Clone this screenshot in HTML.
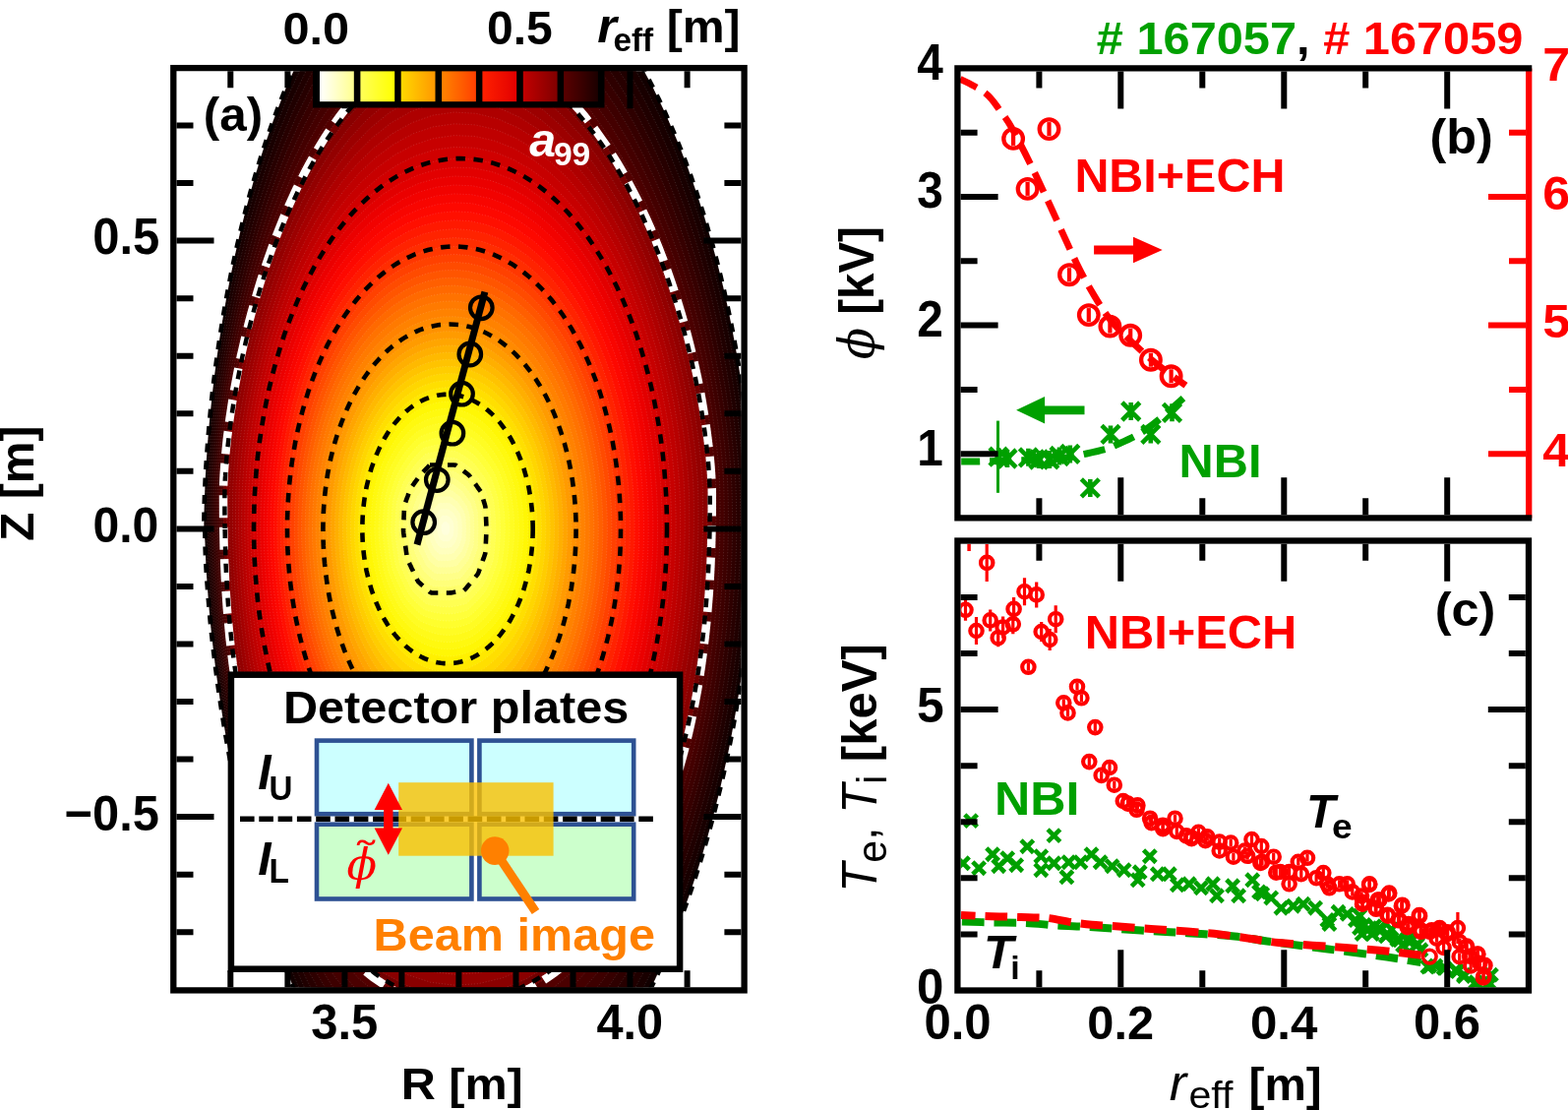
<!DOCTYPE html>
<html><head><meta charset="utf-8"><title>Figure</title><style>html,body{margin:0;padding:0;background:#fff;width:1594px;height:1128px;overflow:hidden}svg{display:block}</style></head><body>
<svg width="1594" height="1128" viewBox="0 0 1594 1128">
<rect width="1594" height="1128" fill="#fff"/>
<defs><clipPath id="ca"><rect x="179.5" y="72.2" width="574" height="931"/></clipPath>
<linearGradient id="cb0" x1="0" x2="1" y1="0" y2="0"><stop offset="0" stop-color="#ffffff"/><stop offset="1" stop-color="#ffff90"/></linearGradient>
<linearGradient id="cb1" x1="0" x2="1" y1="0" y2="0"><stop offset="0" stop-color="#ffff58"/><stop offset="1" stop-color="#ffff00"/></linearGradient>
<linearGradient id="cb2" x1="0" x2="1" y1="0" y2="0"><stop offset="0" stop-color="#ffd800"/><stop offset="1" stop-color="#ff9800"/></linearGradient>
<linearGradient id="cb3" x1="0" x2="1" y1="0" y2="0"><stop offset="0" stop-color="#ff8400"/><stop offset="1" stop-color="#ff4000"/></linearGradient>
<linearGradient id="cb4" x1="0" x2="1" y1="0" y2="0"><stop offset="0" stop-color="#ff2000"/><stop offset="1" stop-color="#e20000"/></linearGradient>
<linearGradient id="cb5" x1="0" x2="1" y1="0" y2="0"><stop offset="0" stop-color="#c20000"/><stop offset="1" stop-color="#800000"/></linearGradient>
<linearGradient id="cb6" x1="0" x2="1" y1="0" y2="0"><stop offset="0" stop-color="#5a0000"/><stop offset="1" stop-color="#1c0000"/></linearGradient>
</defs>
<g clip-path="url(#ca)">
<path d="M207.3,537 L207.4,523.7 L207.8,510.3 L208.3,496.8 L208.9,483.2 L209.7,469.4 L210.7,455.3 L211.8,441 L213.1,426.2 L214.7,411 L216.4,395.2 L218.4,378.8 L220.7,361.7 L223.3,343.7 L226.3,324.8 L229.8,304.8 L233.8,283.6 L238.5,261 L243.9,236.9 L250.4,211.1 L257.9,183.5 L266.9,154.1 L277.6,122.9 L290.4,89.9 L305.7,55.9 L323.9,21.5 L345.4,-11.7 L370.3,-41.7 L398.6,-65.7 L429.6,-81.2 L462,-85.9 L494.4,-81.3 L525.7,-69.3 L555.1,-51 L582.1,-27.8 L606.2,-1.3 L627.6,27.3 L646.3,56.9 L662.6,86.5 L676.7,115.7 L688.9,144 L699.5,171.3 L708.7,197.5 L716.7,222.5 L723.6,246.4 L729.7,269.3 L735.1,291.1 L739.8,312.1 L743.9,332.2 L747.5,351.6 L750.7,370.3 L753.5,388.5 L756,406.1 L758.2,423.3 L760,440.2 L761.6,456.7 L762.9,473 L764,489.2 L764.8,505.2 L765.4,521.1 L765.6,537 L765.5,552.9 L765,568.8 L764.2,584.9 L763.1,601 L761.8,617.3 L760.3,633.9 L758.5,650.8 L756.4,668.1 L754,685.8 L751.2,704 L748.1,722.8 L744.6,742.3 L740.7,762.7 L736.1,783.8 L731,806 L725.1,829.2 L718.4,853.7 L710.7,879.4 L701.9,906.4 L691.6,934.7 L679.8,964.4 L666,995.2 L650,1026.8 L631.5,1058.7 L610.2,1090 L585.8,1119.4 L558.4,1145.4 L528.1,1166.2 L495.7,1179.9 L462,1185.2 L428.3,1179.2 L396.5,1160 L367.9,1130.9 L343.2,1095.8 L322.3,1058.2 L304.9,1020.4 L290.5,983.9 L278.4,949.3 L268.3,917.1 L259.9,887.1 L252.7,859.3 L246.6,833.5 L241.3,809.6 L236.7,787.2 L232.7,766.3 L229.3,746.6 L226.2,728 L223.5,710.3 L221.1,693.5 L218.9,677.3 L217,661.8 L215.3,646.8 L213.8,632.3 L212.5,618.1 L211.4,604.2 L210.4,590.5 L209.5,577 L208.9,563.6 L208.4,550.3Z" fill="#120000" stroke="#fff" stroke-opacity="0.22" stroke-width="0.6" stroke-dasharray="1.2 1.8"/>
<path d="M209.3,537 L209.4,523.8 L209.7,510.5 L210.1,497.1 L210.8,483.6 L211.6,469.9 L212.5,455.9 L213.7,441.7 L215.1,427.1 L216.6,412 L218.4,396.4 L220.4,380.1 L222.8,363.2 L225.5,345.5 L228.6,326.8 L232.1,307.1 L236.2,286.2 L241,264 L246.5,240.4 L253,215.1 L260.6,188.2 L269.6,159.5 L280.4,129 L293.1,97 L308.3,64 L326.3,30.7 L347.6,-1.3 L372.2,-30.2 L399.9,-53.4 L430.3,-68.3 L462,-73 L493.7,-68.6 L524.4,-57 L553.3,-39.3 L579.7,-16.9 L603.5,8.9 L624.5,36.8 L643,65.5 L659.1,94.4 L673,122.9 L685.1,150.5 L695.6,177.2 L704.8,202.9 L712.7,227.4 L719.7,250.8 L725.7,273.3 L731.1,294.7 L735.8,315.3 L739.9,335.1 L743.5,354.2 L746.8,372.6 L749.6,390.5 L752,407.9 L754.2,424.8 L756,441.5 L757.6,457.8 L758.9,473.9 L760,489.8 L760.7,505.6 L761.2,521.3 L761.4,537 L761.2,552.7 L760.7,568.4 L760,584.2 L759,600.1 L757.7,616.2 L756.2,632.6 L754.4,649.2 L752.4,666.3 L750,683.8 L747.3,701.7 L744.3,720.3 L740.8,739.6 L736.9,759.6 L732.4,780.5 L727.3,802.3 L721.5,825.2 L714.8,849.2 L707.1,874.3 L698.2,900.8 L688,928.5 L676.2,957.4 L662.5,987.3 L646.6,1017.8 L628.2,1048.6 L607.1,1078.5 L583.1,1106.7 L556.1,1131.4 L526.5,1151.1 L494.9,1164 L462,1169 L429.2,1163.3 L398.1,1145.2 L370,1117.8 L345.6,1084.6 L324.9,1048.8 L307.5,1012.6 L292.9,977.5 L280.7,944.1 L270.5,912.8 L261.9,883.5 L254.6,856.3 L248.4,831 L243.1,807.4 L238.4,785.3 L234.4,764.6 L230.9,745.1 L227.8,726.6 L225.1,709.1 L222.7,692.4 L220.6,676.4 L218.7,660.9 L217.1,646.1 L215.6,631.6 L214.3,617.5 L213.2,603.7 L212.2,590.1 L211.4,576.7 L210.8,563.4 L210.3,550.2Z" fill="#190000" stroke="#fff" stroke-opacity="0.22" stroke-width="0.6" stroke-dasharray="1.2 1.8"/>
<path d="M211.3,537 L211.4,523.9 L211.6,510.7 L212,497.4 L212.6,484 L213.4,470.4 L214.4,456.6 L215.6,442.4 L217,427.9 L218.6,413 L220.4,397.5 L222.5,381.5 L224.9,364.7 L227.7,347.2 L230.8,328.8 L234.4,309.4 L238.6,288.9 L243.4,267.1 L249.1,243.9 L255.6,219.2 L263.3,192.8 L272.4,164.8 L283.1,135.2 L295.8,104.1 L311,72.1 L328.8,40 L349.8,9 L374,-18.8 L401.2,-41.1 L430.9,-55.5 L462,-60 L493.1,-55.9 L523.1,-44.8 L551.4,-27.7 L577.4,-5.9 L600.8,19.1 L621.5,46.2 L639.7,74.2 L655.5,102.3 L669.3,130.1 L681.3,157.1 L691.8,183.2 L700.8,208.3 L708.8,232.3 L715.7,255.3 L721.7,277.3 L727.1,298.3 L731.8,318.5 L735.9,338 L739.6,356.8 L742.8,374.9 L745.6,392.5 L748.1,409.6 L750.2,426.4 L752.1,442.7 L753.6,458.9 L754.9,474.7 L755.9,490.4 L756.6,506 L757,521.5 L757.2,537 L757,552.5 L756.5,568 L755.8,583.5 L754.8,599.2 L753.6,615.1 L752.1,631.3 L750.4,647.7 L748.4,664.5 L746.1,681.7 L743.4,699.5 L740.4,717.8 L737,736.8 L733.1,756.5 L728.7,777.1 L723.6,798.6 L717.8,821.1 L711.1,844.6 L703.5,869.3 L694.6,895.2 L684.4,922.2 L672.6,950.3 L658.9,979.3 L643.1,1008.8 L624.9,1038.4 L604,1067.1 L580.4,1093.9 L553.9,1117.4 L525,1136 L494,1148.2 L462,1152.8 L430,1147.4 L399.6,1130.5 L372.1,1104.6 L348,1073.3 L327.4,1039.3 L310,1004.9 L295.3,971.1 L283.1,938.9 L272.7,908.5 L264,880 L256.6,853.3 L250.3,828.4 L244.8,805.2 L240.2,783.4 L236.1,762.9 L232.6,743.6 L229.5,725.3 L226.8,707.9 L224.4,691.3 L222.3,675.4 L220.4,660.1 L218.8,645.3 L217.4,630.9 L216.1,616.9 L215,603.2 L214.1,589.7 L213.3,576.4 L212.7,563.2 L212.2,550.1Z" fill="#200000" stroke="#fff" stroke-opacity="0.22" stroke-width="0.6" stroke-dasharray="1.2 1.8"/>
<path d="M213.3,537 L213.3,524 L213.5,510.9 L213.9,497.7 L214.5,484.4 L215.3,470.9 L216.3,457.2 L217.5,443.1 L218.9,428.8 L220.5,414 L222.4,398.7 L224.6,382.8 L227,366.3 L229.8,349 L233.1,330.9 L236.8,311.8 L241,291.6 L245.9,270.2 L251.6,247.4 L258.2,223.2 L266,197.5 L275.1,170.2 L285.9,141.4 L298.6,111.2 L313.6,80.2 L331.3,49.2 L352,19.4 L375.8,-7.4 L402.5,-28.8 L431.6,-42.7 L462,-47.1 L492.4,-43.2 L521.9,-32.5 L549.6,-16 L575.1,5.1 L598,29.3 L618.4,55.6 L636.4,82.8 L652,110.2 L665.7,137.3 L677.6,163.7 L687.9,189.2 L696.9,213.7 L704.8,237.2 L711.7,259.7 L717.7,281.3 L723.1,301.9 L727.8,321.8 L731.9,340.9 L735.6,359.3 L738.8,377.2 L741.6,394.5 L744.1,411.4 L746.3,427.9 L748.1,444 L749.7,459.9 L750.9,475.6 L751.9,491.1 L752.5,506.5 L752.9,521.8 L753,537 L752.8,552.2 L752.3,567.5 L751.6,582.9 L750.6,598.3 L749.4,614 L748,629.9 L746.3,646.1 L744.4,662.7 L742.1,679.7 L739.5,697.2 L736.6,715.3 L733.2,734 L729.3,753.5 L724.9,773.7 L719.9,794.9 L714.1,817 L707.5,840.1 L699.8,864.3 L691,889.6 L680.8,916 L669,943.3 L655.4,971.4 L639.7,999.8 L621.6,1028.2 L601,1055.7 L577.7,1081.2 L551.7,1103.4 L523.4,1121 L493.2,1132.4 L462,1136.6 L430.8,1131.5 L401.2,1115.7 L374.2,1091.5 L350.4,1062 L329.9,1029.9 L312.5,997.1 L297.8,964.8 L285.4,933.7 L274.9,904.2 L266.1,876.4 L258.5,850.3 L252.1,825.9 L246.6,803 L241.9,781.5 L237.8,761.2 L234.2,742.1 L231.2,723.9 L228.4,706.7 L226.1,690.2 L224,674.4 L222.1,659.2 L220.5,644.5 L219.1,630.2 L217.9,616.3 L216.8,602.7 L215.9,589.3 L215.2,576.1 L214.6,563 L214.1,550Z" fill="#270000" stroke="#fff" stroke-opacity="0.22" stroke-width="0.6" stroke-dasharray="1.2 1.8"/>
<path d="M215.3,537 L215.3,524.1 L215.5,511.1 L215.8,498 L216.3,484.8 L217.1,471.4 L218.1,457.8 L219.3,443.9 L220.8,429.6 L222.5,415 L224.4,399.8 L226.6,384.1 L229.1,367.8 L232,350.8 L235.3,332.9 L239.1,314.1 L243.4,294.2 L248.4,273.2 L254.2,250.9 L260.9,227.3 L268.7,202.2 L277.8,175.6 L288.6,147.5 L301.3,118.3 L316.2,88.4 L333.8,58.4 L354.2,29.8 L377.6,4.1 L403.8,-16.5 L432.3,-29.8 L462,-34.2 L491.7,-30.5 L520.6,-20.3 L547.7,-4.4 L572.7,16 L595.3,39.5 L615.4,65 L633,91.4 L648.5,118.1 L662,144.5 L673.8,170.2 L684,195.1 L693,219.1 L700.8,242.1 L707.7,264.1 L713.8,285.2 L719.1,305.5 L723.8,325 L727.9,343.8 L731.6,361.9 L734.8,379.5 L737.7,396.5 L740.1,413.2 L742.3,429.4 L744.1,445.3 L745.7,461 L746.9,476.4 L747.9,491.7 L748.4,506.9 L748.7,522 L748.8,537 L748.6,552 L748.1,567.1 L747.4,582.2 L746.4,597.5 L745.3,612.9 L743.9,628.6 L742.3,644.6 L740.4,660.9 L738.2,677.7 L735.6,695 L732.7,712.8 L729.4,731.3 L725.6,750.4 L721.2,770.4 L716.2,791.2 L710.4,812.9 L703.8,835.6 L696.2,859.3 L687.4,884 L677.2,909.7 L665.4,936.2 L651.8,963.4 L636.2,990.9 L618.3,1018 L597.9,1044.2 L575,1068.4 L549.5,1089.4 L521.8,1105.9 L492.4,1116.5 L462,1120.4 L431.7,1115.6 L402.7,1100.9 L376.3,1078.4 L352.8,1050.8 L332.4,1020.5 L315,989.3 L300.2,958.4 L287.7,928.5 L277.1,899.9 L268.1,872.8 L260.5,847.3 L254,823.3 L248.4,800.8 L243.6,779.5 L239.5,759.5 L235.9,740.6 L232.8,722.6 L230.1,705.5 L227.7,689.1 L225.7,673.4 L223.8,658.3 L222.3,643.7 L220.9,629.6 L219.7,615.7 L218.6,602.2 L217.8,588.9 L217,575.8 L216.5,562.8 L216,549.9Z" fill="#2e0000" stroke="#fff" stroke-opacity="0.22" stroke-width="0.6" stroke-dasharray="1.2 1.8"/>
<path d="M217.2,537 L217.3,524.2 L217.4,511.3 L217.6,498.3 L218.2,485.2 L219,471.9 L220,458.4 L221.2,444.6 L222.7,430.5 L224.4,415.9 L226.4,401 L228.7,385.5 L231.2,369.3 L234.2,352.5 L237.5,334.9 L241.4,316.4 L245.8,296.9 L250.9,276.3 L256.7,254.4 L263.5,231.3 L271.4,206.8 L280.6,180.9 L291.4,153.7 L304,125.4 L318.9,96.5 L336.2,67.7 L356.4,40.1 L379.4,15.5 L405.1,-4.2 L433,-17 L462,-21.3 L491.1,-17.8 L519.3,-8 L545.9,7.3 L570.4,27 L592.6,49.7 L612.3,74.4 L629.7,100.1 L645,126 L658.3,151.7 L670,176.8 L680.2,201.1 L689.1,224.5 L696.9,247 L703.7,268.5 L709.8,289.2 L715.1,309.1 L719.8,328.3 L723.9,346.7 L727.6,364.5 L730.8,381.8 L733.7,398.6 L736.2,414.9 L738.3,430.9 L740.2,446.6 L741.7,462.1 L742.9,477.3 L743.8,492.4 L744.3,507.3 L744.5,522.2 L744.6,537 L744.3,551.8 L743.9,566.6 L743.2,581.5 L742.3,596.6 L741.2,611.8 L739.8,627.3 L738.2,643 L736.4,659.2 L734.2,675.7 L731.7,692.7 L728.9,710.3 L725.6,728.5 L721.8,747.4 L717.5,767 L712.5,787.5 L706.8,808.8 L700.2,831.1 L692.5,854.3 L683.7,878.5 L673.6,903.5 L661.8,929.2 L648.3,955.5 L632.8,981.9 L615,1007.9 L594.8,1032.8 L572.3,1055.7 L547.3,1075.4 L520.2,1090.8 L491.5,1100.7 L462,1104.3 L432.5,1099.7 L404.3,1086.1 L378.3,1065.2 L355.2,1039.5 L335,1011.1 L317.6,981.6 L302.7,952 L290,923.2 L279.3,895.6 L270.2,869.2 L262.4,844.3 L255.8,820.8 L250.2,798.6 L245.3,777.6 L241.2,757.8 L237.6,739.1 L234.5,721.3 L231.8,704.3 L229.4,688.1 L227.3,672.5 L225.6,657.5 L224,643 L222.6,628.9 L221.5,615.2 L220.5,601.7 L219.6,588.5 L218.9,575.5 L218.3,562.6 L217.9,549.8Z" fill="#360000" stroke="#fff" stroke-opacity="0.22" stroke-width="0.6" stroke-dasharray="1.2 1.8"/>
<path d="M219.2,537 L219.2,524.3 L219.3,511.5 L219.5,498.6 L220,485.6 L220.8,472.4 L221.8,459 L223.1,445.3 L224.6,431.3 L226.4,416.9 L228.4,402.1 L230.7,386.8 L233.4,370.9 L236.4,354.3 L239.8,336.9 L243.7,318.7 L248.2,299.5 L253.3,279.3 L259.3,258 L266.1,235.4 L274.1,211.5 L283.3,186.3 L294.1,159.9 L306.7,132.5 L321.5,104.6 L338.7,76.9 L358.6,50.5 L381.2,26.9 L406.4,8.1 L433.6,-4.2 L462,-8.4 L490.4,-5.2 L518,4.2 L544,19 L568.1,37.9 L589.8,59.9 L609.2,83.8 L626.4,108.7 L641.5,133.9 L654.7,158.9 L666.2,183.3 L676.3,207 L685.1,229.9 L692.9,251.8 L699.7,273 L705.8,293.2 L711.1,312.7 L715.8,331.5 L719.9,349.6 L723.6,367.1 L726.9,384.1 L729.7,400.6 L732.2,416.7 L734.4,432.4 L736.2,447.9 L737.7,463.1 L738.9,478.1 L739.8,493 L740.2,507.8 L740.4,522.4 L740.4,537 L740.1,551.6 L739.6,566.2 L739,580.9 L738.1,595.7 L737,610.7 L735.7,625.9 L734.2,641.5 L732.4,657.4 L730.2,673.7 L727.8,690.5 L725,707.8 L721.8,725.7 L718,744.3 L713.7,763.7 L708.8,783.8 L703.1,804.8 L696.5,826.6 L688.9,849.3 L680.1,872.9 L670,897.2 L658.3,922.2 L644.8,947.5 L629.3,972.9 L611.7,997.7 L591.8,1021.4 L569.5,1042.9 L545.1,1061.4 L518.6,1075.8 L490.7,1084.9 L462,1088.1 L433.3,1083.9 L405.8,1071.3 L380.4,1052.1 L357.6,1028.3 L337.5,1001.7 L320.1,973.8 L305.1,945.7 L292.4,918 L281.5,891.3 L272.2,865.7 L264.4,841.3 L257.7,818.2 L252,796.4 L247.1,775.7 L242.9,756.1 L239.2,737.6 L236.1,719.9 L233.4,703.1 L231.1,687 L229,671.5 L227.3,656.6 L225.7,642.2 L224.4,628.2 L223.2,614.6 L222.3,601.2 L221.5,588.1 L220.8,575.2 L220.2,562.4 L219.9,549.7Z" fill="#3d0000" stroke="#fff" stroke-opacity="0.22" stroke-width="0.6" stroke-dasharray="1.2 1.8"/>
<path d="M221.2,537 L221.2,524.4 L221.2,511.7 L221.4,498.9 L221.9,486 L222.7,472.9 L223.7,459.6 L225,446 L226.5,432.2 L228.3,417.9 L230.4,403.3 L232.8,388.1 L235.5,372.4 L238.5,356 L242,338.9 L246,321 L250.6,302.2 L255.8,282.4 L261.8,261.5 L268.7,239.4 L276.7,216.1 L286,191.6 L296.9,166.1 L309.5,139.6 L324.2,112.7 L341.2,86.1 L360.8,60.9 L383,38.4 L407.7,20.4 L434.3,8.7 L462,4.5 L489.7,7.5 L516.7,16.5 L542.2,30.6 L565.7,48.9 L587.1,70.1 L606.2,93.3 L623.1,117.4 L637.9,141.8 L651,166.1 L662.4,189.9 L672.4,213 L681.2,235.3 L688.9,256.7 L695.8,277.4 L701.8,297.2 L707.1,316.3 L711.8,334.7 L715.9,352.5 L719.6,369.7 L722.9,386.4 L725.7,402.6 L728.2,418.5 L730.4,434 L732.2,449.2 L733.8,464.2 L735,479 L735.8,493.6 L736.1,508.2 L736.2,522.6 L736.1,537 L735.9,551.4 L735.4,565.7 L734.8,580.2 L733.9,594.8 L732.9,609.6 L731.6,624.6 L730.1,639.9 L728.4,655.6 L726.3,671.7 L723.9,688.2 L721.1,705.3 L717.9,723 L714.3,741.3 L710,760.3 L705.1,780.1 L699.4,800.7 L692.8,822.1 L685.3,844.3 L676.5,867.3 L666.4,890.9 L654.7,915.1 L641.2,939.6 L625.9,963.9 L608.4,987.5 L588.7,1009.9 L566.8,1030.2 L542.8,1047.4 L517,1060.7 L489.9,1069 L462,1071.9 L434.2,1068 L407.4,1056.5 L382.5,1039 L360,1017 L340,992.2 L322.6,966 L307.6,939.3 L294.7,912.8 L283.7,887 L274.3,862.1 L266.3,838.3 L259.5,815.7 L253.7,794.2 L248.8,773.8 L244.6,754.4 L240.9,736.1 L237.8,718.6 L235.1,701.9 L232.7,685.9 L230.7,670.5 L229,655.7 L227.5,641.4 L226.2,627.5 L225,614 L224.1,600.7 L223.3,587.7 L222.6,574.9 L222.1,562.2 L221.8,549.6Z" fill="#440000" stroke="#fff" stroke-opacity="0.22" stroke-width="0.6" stroke-dasharray="1.2 1.8"/>
<path d="M223.2,537 L223.1,524.5 L223.1,511.9 L223.2,499.2 L223.7,486.3 L224.5,473.4 L225.6,460.2 L226.9,446.7 L228.4,433 L230.3,418.9 L232.4,404.4 L234.8,389.5 L237.6,373.9 L240.7,357.8 L244.3,341 L248.4,323.4 L253,304.9 L258.3,285.4 L264.4,265 L271.4,243.4 L279.4,220.8 L288.8,197 L299.6,172.2 L312.2,146.7 L326.8,120.9 L343.7,95.4 L363,71.2 L384.8,49.8 L409,32.7 L435,21.5 L462,17.4 L489.1,20.2 L515.4,28.7 L540.4,42.3 L563.4,59.9 L584.4,80.3 L603.1,102.7 L619.8,126 L634.4,149.7 L647.3,173.3 L658.6,196.4 L668.6,218.9 L677.3,240.7 L685,261.6 L691.8,281.8 L697.8,301.2 L703.1,319.9 L707.8,338 L711.9,355.4 L715.6,372.3 L718.9,388.7 L721.8,404.6 L724.3,420.2 L726.4,435.5 L728.3,450.5 L729.8,465.2 L731,479.8 L731.7,494.3 L732,508.6 L732,522.8 L731.9,537 L731.7,551.1 L731.2,565.3 L730.6,579.5 L729.8,593.9 L728.7,608.5 L727.5,623.3 L726.1,638.4 L724.4,653.8 L722.3,669.7 L720,686 L717.3,702.8 L714.1,720.2 L710.5,738.2 L706.3,756.9 L701.4,776.4 L695.7,796.6 L689.2,817.6 L681.6,839.3 L672.9,861.7 L662.7,884.7 L651.1,908.1 L637.7,931.6 L622.4,954.9 L605.1,977.4 L585.7,998.5 L564.1,1017.5 L540.6,1033.4 L515.5,1045.6 L489.1,1053.2 L462,1055.7 L435,1052.1 L408.9,1041.8 L384.6,1025.9 L362.4,1005.8 L342.5,982.8 L325.1,958.2 L310,932.9 L297,907.6 L285.9,882.7 L276.4,858.5 L268.3,835.3 L261.4,813.1 L255.5,792 L250.5,771.9 L246.2,752.8 L242.6,734.6 L239.4,717.2 L236.7,700.7 L234.4,684.8 L232.4,669.6 L230.7,654.9 L229.2,640.7 L227.9,626.9 L226.8,613.4 L225.9,600.3 L225.1,587.3 L224.5,574.6 L224,562 L223.7,549.5Z" fill="#4b0000" stroke="#fff" stroke-opacity="0.22" stroke-width="0.6" stroke-dasharray="1.2 1.8"/>
<path d="M225.2,537 L225.1,524.6 L225.1,512.1 L225.1,499.5 L225.6,486.7 L226.3,473.9 L227.4,460.8 L228.8,447.5 L230.4,433.9 L232.2,419.9 L234.4,405.6 L236.9,390.8 L239.7,375.5 L242.9,359.6 L246.5,343 L250.7,325.7 L255.4,307.5 L260.8,288.5 L266.9,268.5 L274,247.5 L282.1,225.4 L291.5,202.4 L302.3,178.4 L314.9,153.8 L329.4,129 L346.1,104.6 L365.2,81.6 L386.6,61.2 L410.3,45 L435.7,34.3 L462,30.3 L488.4,32.9 L514.1,41 L538.5,53.9 L561.1,70.8 L581.6,90.5 L600.1,112.1 L616.4,134.7 L630.9,157.6 L643.7,180.5 L654.9,203 L664.7,224.9 L673.4,246.1 L681,266.5 L687.8,286.2 L693.8,305.2 L699.1,323.5 L703.8,341.2 L707.9,358.3 L711.6,374.9 L714.9,391 L717.8,406.7 L720.3,422 L722.5,437 L724.3,451.8 L725.8,466.3 L727,480.7 L727.7,494.9 L727.9,509.1 L727.9,523.1 L727.7,537 L727.4,550.9 L727,564.9 L726.4,578.9 L725.6,593 L724.6,607.4 L723.4,621.9 L722,636.8 L720.4,652 L718.4,667.6 L716.1,683.7 L713.4,700.3 L710.3,717.4 L706.7,735.2 L702.5,753.6 L697.7,772.7 L692.1,792.5 L685.5,813 L678,834.3 L669.2,856.1 L659.1,878.4 L647.5,901 L634.1,923.6 L618.9,945.9 L601.8,967.2 L582.6,987 L561.4,1004.7 L538.4,1019.4 L513.9,1030.5 L488.2,1037.4 L462,1039.5 L435.8,1036.2 L410.5,1027 L386.7,1012.7 L364.8,994.5 L345.1,973.4 L327.7,950.5 L312.5,926.6 L299.3,902.4 L288.1,878.4 L278.4,855 L270.2,832.3 L263.2,810.6 L257.3,789.8 L252.2,770 L247.9,751.1 L244.2,733.1 L241.1,715.9 L238.4,699.5 L236.1,683.7 L234.1,668.6 L232.4,654 L230.9,639.9 L229.7,626.2 L228.6,612.8 L227.7,599.8 L227,587 L226.4,574.3 L225.9,561.8 L225.6,549.4Z" fill="#520000" stroke="#fff" stroke-opacity="0.22" stroke-width="0.6" stroke-dasharray="1.2 1.8"/>
<path d="M227.2,537 L227.1,524.7 L227,512.3 L227,499.8 L227.4,487.1 L228.2,474.4 L229.3,461.4 L230.6,448.2 L232.3,434.7 L234.2,420.9 L236.4,406.7 L238.9,392.1 L241.8,377 L245.1,361.3 L248.8,345 L253,328 L257.8,310.2 L263.2,291.6 L269.5,272 L276.6,251.5 L284.8,230.1 L294.2,207.7 L305.1,184.6 L317.6,160.9 L332.1,137.1 L348.6,113.8 L367.4,92 L388.5,72.7 L411.6,57.3 L436.3,47.2 L462,43.3 L487.8,45.6 L512.8,53.2 L536.7,65.6 L558.8,81.8 L578.9,100.7 L597,121.5 L613.1,143.3 L627.4,165.5 L640,187.7 L651.1,209.5 L660.8,230.8 L669.5,251.5 L677.1,271.4 L683.8,290.7 L689.8,309.2 L695.1,327.1 L699.8,344.5 L704,361.2 L707.7,377.5 L710.9,393.3 L713.8,408.7 L716.3,423.8 L718.5,438.5 L720.4,453.1 L721.8,467.4 L723,481.5 L723.7,495.6 L723.8,509.5 L723.7,523.3 L723.5,537 L723.2,550.7 L722.8,564.4 L722.2,578.2 L721.4,592.1 L720.5,606.3 L719.3,620.6 L718,635.3 L716.3,650.2 L714.4,665.6 L712.2,681.4 L709.6,697.8 L706.5,714.6 L702.9,732.1 L698.8,750.2 L694,769 L688.4,788.4 L681.9,808.5 L674.3,829.3 L665.6,850.5 L655.5,872.2 L643.9,894 L630.6,915.7 L615.5,936.9 L598.5,957 L579.5,975.6 L558.7,992 L536.2,1005.5 L512.3,1015.5 L487.4,1021.5 L462,1023.4 L436.7,1020.3 L412.1,1012.2 L388.7,999.6 L367.1,983.2 L347.6,964 L330.2,942.7 L314.9,920.2 L301.6,897.2 L290.2,874.1 L280.5,851.4 L272.2,829.3 L265.1,808 L259.1,787.6 L254,768 L249.6,749.4 L245.9,731.6 L242.7,714.6 L240,698.3 L237.7,682.6 L235.8,667.6 L234.1,653.1 L232.6,639.1 L231.4,625.5 L230.4,612.3 L229.5,599.3 L228.8,586.6 L228.3,574 L227.8,561.6 L227.5,549.3Z" fill="#730000" stroke="#fff" stroke-opacity="0.22" stroke-width="0.6" stroke-dasharray="1.2 1.8"/>
<path d="M230.3,537 L230.2,524.9 L230.1,512.6 L230.2,500.3 L230.6,487.8 L231.4,475.2 L232.5,462.4 L233.8,449.4 L235.4,436.1 L237.3,422.5 L239.5,408.5 L242,394.1 L244.9,379.2 L248.1,363.8 L251.8,347.8 L256,331 L260.8,313.5 L266.2,295.3 L272.5,276.1 L279.6,256.1 L287.7,235.2 L297.1,213.4 L307.9,191 L320.4,168.1 L334.7,145.1 L351,122.7 L369.5,101.7 L390.1,83.2 L412.8,68.5 L436.9,58.8 L462,55 L487.1,57.2 L511.7,64.5 L535,76.3 L556.6,91.8 L576.4,110 L594.2,130.1 L610.1,151.2 L624.2,172.8 L636.6,194.3 L647.6,215.6 L657.2,236.4 L665.7,256.6 L673.3,276.1 L679.9,295 L685.8,313.2 L691,330.8 L695.6,347.8 L699.7,364.3 L703.4,380.3 L706.6,395.8 L709.4,410.9 L711.9,425.8 L714,440.3 L715.8,454.5 L717.2,468.6 L718.3,482.5 L719,496.3 L719.2,510 L719.1,523.5 L719,537 L718.7,550.5 L718.2,563.9 L717.7,577.5 L716.9,591.2 L716,605.1 L714.8,619.2 L713.5,633.5 L711.9,648.2 L709.9,663.3 L707.7,678.9 L705.1,694.9 L702,711.4 L698.5,728.5 L694.4,746.2 L689.6,764.6 L684,783.6 L677.6,803.2 L670.1,823.5 L661.5,844.2 L651.6,865.3 L640.1,886.6 L627.1,907.7 L612.2,928.4 L595.5,948 L577,966.1 L556.6,982 L534.5,995 L511.2,1004.8 L486.8,1010.6 L462,1012.3 L437.2,1009.3 L413.2,1001.4 L390.4,989.2 L369.2,973.4 L350.1,954.8 L333,934.2 L317.9,912.4 L304.8,890 L293.5,867.6 L283.9,845.5 L275.6,824.1 L268.5,803.3 L262.5,783.4 L257.4,764.3 L253,746 L249.2,728.6 L246,711.9 L243.3,695.9 L240.9,680.6 L238.9,665.8 L237.2,651.5 L235.8,637.7 L234.5,624.3 L233.5,611.3 L232.6,598.5 L231.9,585.9 L231.3,573.5 L230.9,561.3 L230.5,549.1Z" fill="#8a0000" stroke="#fff" stroke-opacity="0.22" stroke-width="0.6" stroke-dasharray="1.2 1.8"/>
<path d="M233.4,537 L233.3,525 L233.3,513 L233.3,500.8 L233.8,488.5 L234.6,476.1 L235.7,463.5 L237,450.6 L238.6,437.5 L240.5,424.1 L242.6,410.3 L245.1,396.2 L248,381.5 L251.2,366.3 L254.9,350.5 L259,334 L263.8,316.9 L269.2,299 L275.4,280.2 L282.5,260.6 L290.7,240.3 L300,219.1 L310.8,197.3 L323.1,175.2 L337.2,153.1 L353.4,131.5 L371.5,111.4 L391.8,93.8 L413.9,79.7 L437.6,70.5 L462,66.8 L486.5,68.8 L510.5,75.7 L533.3,87 L554.5,101.8 L573.9,119.4 L591.4,138.7 L607.1,159.1 L621,180 L633.2,200.9 L644.1,221.7 L653.6,242 L662,261.7 L669.4,280.8 L676,299.3 L681.8,317.2 L686.9,334.5 L691.5,351.2 L695.5,367.3 L699.1,383 L702.2,398.3 L705,413.2 L707.4,427.8 L709.4,442 L711.2,456 L712.6,469.9 L713.7,483.5 L714.4,497 L714.5,510.5 L714.5,523.8 L714.4,537 L714.1,550.2 L713.7,563.5 L713.2,576.8 L712.4,590.2 L711.5,603.9 L710.4,617.7 L709,631.8 L707.4,646.2 L705.5,661 L703.2,676.3 L700.6,691.9 L697.6,708.1 L694,724.9 L689.9,742.2 L685.2,760.2 L679.7,778.7 L673.3,797.9 L665.9,817.7 L657.4,837.9 L647.6,858.5 L636.4,879.2 L623.5,899.8 L609,919.9 L592.6,938.9 L574.4,956.5 L554.4,971.9 L532.9,984.6 L510,994 L486.2,999.7 L462,1001.2 L437.8,998.3 L414.3,990.6 L392,978.8 L371.3,963.5 L352.5,945.5 L335.7,925.6 L320.9,904.5 L308,882.9 L296.8,861.1 L287.2,839.7 L279,818.8 L271.9,798.6 L265.9,779.1 L260.8,760.5 L256.3,742.7 L252.6,725.6 L249.3,709.2 L246.5,693.5 L244.2,678.5 L242.1,663.9 L240.4,649.9 L238.9,636.3 L237.6,623.1 L236.6,610.3 L235.7,597.6 L234.9,585.3 L234.4,573.1 L233.9,561 L233.6,549Z" fill="#930000" stroke="#fff" stroke-opacity="0.22" stroke-width="0.6" stroke-dasharray="1.2 1.8"/>
<path d="M236.5,537 L236.4,525.2 L236.4,513.3 L236.5,501.3 L237,489.2 L237.8,476.9 L238.8,464.5 L240.2,451.8 L241.7,438.9 L243.6,425.7 L245.7,412.1 L248.2,398.2 L251,383.7 L254.2,368.8 L257.9,353.2 L262.1,337.1 L266.8,320.2 L272.2,302.7 L278.4,284.3 L285.5,265.2 L293.6,245.3 L302.9,224.8 L313.6,203.7 L325.8,182.3 L339.8,161 L355.7,140.4 L373.6,121.2 L393.5,104.3 L415.1,91 L438.2,82.1 L462,78.6 L485.9,80.4 L509.3,87 L531.6,97.7 L552.4,111.9 L571.4,128.7 L588.6,147.3 L604,167 L617.7,187.2 L629.9,207.6 L640.5,227.7 L650,247.5 L658.3,266.8 L665.6,285.5 L672.1,303.7 L677.8,321.2 L682.9,338.1 L687.3,354.5 L691.3,370.4 L694.8,385.8 L697.8,400.8 L700.5,415.5 L702.9,429.8 L704.9,443.8 L706.6,457.5 L708,471.1 L709,484.5 L709.7,497.8 L709.9,510.9 L710,524 L709.9,537 L709.6,550 L709.2,563 L708.7,576.1 L707.9,589.3 L707,602.6 L705.9,616.2 L704.5,630.1 L702.9,644.2 L701,658.8 L698.7,673.7 L696.1,689 L693.1,704.9 L689.6,721.3 L685.5,738.2 L680.8,755.8 L675.3,773.9 L669,792.6 L661.7,811.9 L653.3,831.6 L643.7,851.6 L632.6,871.8 L620,891.8 L605.7,911.3 L589.7,929.9 L571.8,946.9 L552.3,961.9 L531.3,974.2 L508.9,983.3 L485.7,988.7 L462,990.2 L438.4,987.3 L415.5,979.9 L393.7,968.5 L373.4,953.7 L355,936.3 L338.5,917.1 L323.9,896.7 L311.2,875.7 L300.1,854.7 L290.6,833.9 L282.4,813.6 L275.4,793.9 L269.3,774.9 L264.1,756.7 L259.7,739.3 L255.9,722.6 L252.6,706.6 L249.8,691.2 L247.4,676.4 L245.3,662.1 L243.5,648.3 L242,634.9 L240.7,621.9 L239.6,609.3 L238.7,596.8 L238,584.6 L237.4,572.6 L237,560.7 L236.7,548.8Z" fill="#9c0000" stroke="#fff" stroke-opacity="0.22" stroke-width="0.6" stroke-dasharray="1.2 1.8"/>
<path d="M239.5,537 L239.5,525.3 L239.5,513.6 L239.7,501.8 L240.2,489.9 L241,477.8 L242,465.5 L243.3,453.1 L244.9,440.3 L246.7,427.3 L248.9,413.9 L251.3,400.2 L254.1,386 L257.3,371.2 L260.9,356 L265.1,340.1 L269.8,323.6 L275.2,306.4 L281.4,288.4 L288.5,269.8 L296.6,250.4 L305.8,230.5 L316.4,210.1 L328.6,189.4 L342.4,169 L358.1,149.2 L375.7,130.9 L395.1,114.9 L416.3,102.2 L438.8,93.8 L462,90.4 L485.3,92.1 L508.1,98.2 L529.9,108.4 L550.2,121.9 L568.9,138 L585.8,155.9 L601,174.9 L614.5,194.4 L626.5,214.2 L637,233.8 L646.4,253.1 L654.6,272 L661.8,290.3 L668.2,308 L673.8,325.2 L678.8,341.8 L683.2,357.9 L687.1,373.5 L690.5,388.6 L693.5,403.4 L696.1,417.7 L698.4,431.8 L700.3,445.5 L702,459 L703.3,472.3 L704.4,485.5 L705.1,498.5 L705.3,511.4 L705.4,524.2 L705.3,537 L705.1,549.7 L704.7,562.5 L704.2,575.4 L703.4,588.3 L702.5,601.4 L701.4,614.8 L700,628.4 L698.4,642.2 L696.5,656.5 L694.2,671.1 L691.6,686.1 L688.6,701.6 L685.1,717.7 L681,734.2 L676.3,751.3 L670.9,769.1 L664.7,787.3 L657.5,806.1 L649.2,825.3 L639.7,844.8 L628.8,864.4 L616.4,883.9 L602.4,902.8 L586.7,920.8 L569.3,937.4 L550.2,951.9 L529.6,963.8 L507.8,972.6 L485.1,977.8 L462,979.1 L439,976.3 L416.6,969.1 L395.3,958.1 L375.5,943.8 L357.5,927.1 L341.3,908.5 L326.9,888.8 L314.4,868.6 L303.4,848.2 L294,828 L285.8,808.3 L278.8,789.2 L272.7,770.7 L267.5,753 L263.1,735.9 L259.2,719.6 L255.9,703.9 L253.1,688.8 L250.6,674.3 L248.5,660.3 L246.7,646.7 L245.1,633.6 L243.8,620.8 L242.7,608.2 L241.8,596 L241.1,584 L240.5,572.1 L240,560.3 L239.7,548.6Z" fill="#a50000" stroke="#fff" stroke-opacity="0.22" stroke-width="0.6" stroke-dasharray="1.2 1.8"/>
<path d="M242.6,537 L242.6,525.5 L242.7,513.9 L242.9,502.3 L243.4,490.5 L244.2,478.6 L245.2,466.6 L246.5,454.3 L248.1,441.7 L249.9,428.9 L252,415.7 L254.4,402.2 L257.2,388.2 L260.4,373.7 L264,358.7 L268.1,343.1 L272.8,326.9 L278.2,310.1 L284.4,292.5 L291.4,274.3 L299.5,255.5 L308.7,236.2 L319.3,216.4 L331.3,196.6 L345,176.9 L360.5,158.1 L377.7,140.6 L396.8,125.4 L417.5,113.4 L439.4,105.5 L462,102.2 L484.7,103.7 L506.9,109.5 L528.2,119.1 L548.1,132 L566.4,147.3 L583,164.5 L598,182.8 L611.3,201.7 L623.1,220.8 L633.5,239.9 L642.7,258.7 L650.8,277.1 L658,295 L664.3,312.3 L669.8,329.2 L674.7,345.5 L679,361.2 L682.8,376.5 L686.2,391.4 L689.1,405.9 L691.7,420 L693.9,433.8 L695.8,447.3 L697.4,460.5 L698.7,473.6 L699.7,486.5 L700.4,499.2 L700.7,511.9 L700.8,524.5 L700.8,537 L700.6,549.5 L700.2,562 L699.7,574.6 L698.9,587.4 L698,600.2 L696.9,613.3 L695.5,626.6 L693.9,640.2 L692,654.2 L689.7,668.5 L687.1,683.2 L684.1,698.4 L680.6,714 L676.6,730.2 L671.9,746.9 L666.6,764.2 L660.4,782 L653.3,800.3 L645.1,819 L635.8,838 L625.1,857 L612.9,875.9 L599.2,894.3 L583.8,911.8 L566.7,927.8 L548.1,941.9 L528,953.4 L506.7,961.9 L484.5,966.9 L462,968.1 L439.6,965.2 L417.7,958.3 L397,947.7 L377.6,934 L360,917.8 L344.1,900 L330,881 L317.6,861.4 L306.7,841.7 L297.3,822.2 L289.2,803.1 L282.2,784.5 L276.2,766.5 L270.9,749.2 L266.4,732.6 L262.5,716.6 L259.2,701.2 L256.3,686.4 L253.8,672.2 L251.7,658.4 L249.8,645.1 L248.3,632.2 L246.9,619.6 L245.8,607.2 L244.9,595.2 L244.1,583.3 L243.5,571.6 L243.1,560 L242.8,548.5Z" fill="#ae0000" stroke="#fff" stroke-opacity="0.22" stroke-width="0.6" stroke-dasharray="1.2 1.8"/>
<path d="M245.7,537 L245.7,525.7 L245.8,514.3 L246.1,502.8 L246.6,491.2 L247.4,479.5 L248.4,467.6 L249.7,455.5 L251.2,443.2 L253,430.5 L255.1,417.5 L257.5,404.2 L260.3,390.4 L263.4,376.2 L267,361.4 L271.1,346.1 L275.9,330.3 L281.2,313.8 L287.4,296.6 L294.4,278.9 L302.4,260.6 L311.6,241.9 L322.1,222.8 L334.1,203.7 L347.6,184.9 L362.8,166.9 L379.8,150.4 L398.5,136 L418.7,124.7 L440,117.1 L462,114 L484.1,115.3 L505.8,120.7 L526.5,129.8 L546,142 L563.9,156.6 L580.3,173.1 L595,190.6 L608.1,208.9 L619.7,227.4 L630,246 L639.1,264.3 L647.1,282.2 L654.2,299.7 L660.4,316.7 L665.8,333.2 L670.7,349.1 L674.9,364.6 L678.6,379.6 L681.9,394.2 L684.8,408.4 L687.2,422.2 L689.4,435.8 L691.2,449 L692.8,462 L694.1,474.8 L695.1,487.5 L695.7,500 L696.1,512.4 L696.2,524.7 L696.2,537 L696,549.3 L695.7,561.6 L695.1,573.9 L694.4,586.4 L693.5,599 L692.4,611.9 L691,624.9 L689.4,638.2 L687.5,651.9 L685.3,665.9 L682.7,680.3 L679.6,695.1 L676.2,710.4 L672.2,726.2 L667.5,742.5 L662.2,759.4 L656.1,776.7 L649.1,794.5 L641,812.7 L631.8,831.1 L621.3,849.6 L609.4,868 L595.9,885.8 L580.8,902.8 L564.2,918.3 L545.9,931.9 L526.3,943 L505.5,951.2 L484,955.9 L462,957 L440.1,954.2 L418.9,947.5 L398.6,937.3 L379.7,924.1 L362.4,908.6 L346.8,891.4 L333,873.1 L320.7,854.3 L310,835.3 L300.7,816.4 L292.6,797.8 L285.6,779.8 L279.6,762.3 L274.3,745.4 L269.8,729.2 L265.9,713.6 L262.5,698.6 L259.6,684.1 L257,670.1 L254.8,656.6 L253,643.5 L251.4,630.8 L250,618.4 L248.9,606.2 L247.9,594.4 L247.2,582.7 L246.6,571.1 L246.1,559.7 L245.8,548.3Z" fill="#b70000" stroke="#fff" stroke-opacity="0.22" stroke-width="0.6" stroke-dasharray="1.2 1.8"/>
<path d="M248.8,537 L248.8,525.8 L248.9,514.6 L249.2,503.3 L249.8,491.9 L250.6,480.4 L251.6,468.6 L252.9,456.7 L254.4,444.6 L256.2,432.1 L258.2,419.3 L260.6,406.2 L263.3,392.7 L266.5,378.7 L270.1,364.2 L274.2,349.2 L278.9,333.6 L284.2,317.5 L290.4,300.7 L297.4,283.5 L305.4,265.7 L314.5,247.6 L325,229.2 L336.8,210.8 L350.2,192.9 L365.2,175.8 L381.9,160.1 L400.2,146.6 L419.8,135.9 L440.6,128.8 L462,125.8 L483.5,126.9 L504.6,131.9 L524.8,140.5 L543.8,152 L561.4,166 L577.5,181.6 L591.9,198.5 L604.9,216.1 L616.4,234.1 L626.5,252 L635.5,269.8 L643.4,287.3 L650.4,304.4 L656.5,321 L661.9,337.1 L666.6,352.8 L670.7,368 L674.4,382.7 L677.6,397 L680.4,410.9 L682.8,424.5 L684.9,437.8 L686.7,450.7 L688.2,463.5 L689.4,476.1 L690.4,488.5 L691.1,500.7 L691.5,512.9 L691.6,525 L691.7,537 L691.5,549 L691.2,561.1 L690.6,573.2 L689.9,585.5 L689,597.8 L687.9,610.4 L686.5,623.2 L684.9,636.2 L683,649.6 L680.8,663.3 L678.2,677.4 L675.2,691.9 L671.7,706.8 L667.7,722.2 L663.1,738.1 L657.9,754.5 L651.8,771.4 L644.9,788.7 L636.9,806.4 L627.9,824.3 L617.5,842.2 L605.8,860 L592.6,877.3 L577.9,893.7 L561.6,908.7 L543.8,921.9 L524.7,932.6 L504.4,940.5 L483.4,945 L462,946 L440.7,943.2 L420,936.8 L400.2,926.9 L381.8,914.3 L364.9,899.4 L349.6,882.9 L336,865.3 L323.9,847.1 L313.3,828.8 L304.1,810.5 L296,792.6 L289,775.1 L283,758.1 L277.7,741.7 L273.2,725.8 L269.2,710.6 L265.8,695.9 L262.8,681.7 L260.2,668 L258,654.8 L256.1,641.9 L254.5,629.4 L253.1,617.2 L252,605.2 L251,593.5 L250.2,582 L249.6,570.6 L249.2,559.4 L248.9,548.2Z" fill="#bf0000" stroke="#fff" stroke-opacity="0.22" stroke-width="0.6" stroke-dasharray="1.2 1.8"/>
<path d="M251.8,537 L251.9,526 L252.1,514.9 L252.4,503.8 L253,492.6 L253.8,481.2 L254.8,469.7 L256.1,457.9 L257.5,446 L259.3,433.7 L261.3,421.1 L263.7,408.2 L266.4,394.9 L269.5,381.1 L273.1,366.9 L277.2,352.2 L281.9,336.9 L287.2,321.2 L293.3,304.9 L300.3,288 L308.3,270.8 L317.4,253.3 L327.8,235.6 L339.5,218 L352.8,200.8 L367.6,184.6 L384,169.8 L401.8,157.1 L421,147.1 L441.2,140.5 L462,137.6 L482.9,138.5 L503.4,143.2 L523.1,151.2 L541.7,162.1 L558.9,175.3 L574.7,190.2 L588.9,206.4 L601.6,223.4 L613,240.7 L623,258.1 L631.9,275.4 L639.7,292.4 L646.5,309.1 L652.6,325.3 L657.9,341.1 L662.5,356.4 L666.6,371.3 L670.2,385.8 L673.3,399.8 L676,413.4 L678.4,426.7 L680.4,439.8 L682.2,452.5 L683.6,465 L684.8,477.3 L685.8,489.4 L686.4,501.5 L686.8,513.4 L687.1,525.2 L687.1,537 L687,548.8 L686.6,560.6 L686.1,572.5 L685.4,584.5 L684.5,596.6 L683.4,608.9 L682,621.5 L680.4,634.2 L678.5,647.3 L676.3,660.7 L673.7,674.5 L670.7,688.6 L667.2,703.2 L663.3,718.2 L658.7,733.7 L653.5,749.7 L647.5,766.1 L640.7,782.9 L632.8,800.1 L623.9,817.4 L613.8,834.8 L602.3,852.1 L589.4,868.8 L575,884.7 L559,899.2 L541.7,911.9 L523,922.2 L503.3,929.8 L482.8,934.1 L462,934.9 L441.3,932.2 L421.1,926 L401.9,916.5 L383.9,904.4 L367.4,890.2 L352.4,874.3 L339,857.5 L327.1,840 L316.6,822.3 L307.5,804.7 L299.4,787.3 L292.5,770.3 L286.4,753.9 L281.1,737.9 L276.5,722.5 L272.5,707.6 L269.1,693.2 L266.1,679.4 L263.5,665.9 L261.2,652.9 L259.3,640.3 L257.6,628 L256.2,616 L255,604.2 L254.1,592.7 L253.3,581.4 L252.7,570.2 L252.2,559 L252,548Z" fill="#c70000" stroke="#fff" stroke-opacity="0.22" stroke-width="0.6" stroke-dasharray="1.2 1.8"/>
<path d="M254.9,537 L255,526.2 L255.2,515.3 L255.6,504.3 L256.2,493.3 L257,482.1 L258,470.7 L259.2,459.2 L260.7,447.4 L262.4,435.3 L264.5,422.9 L266.8,410.2 L269.5,397.1 L272.6,383.6 L276.2,369.7 L280.2,355.2 L284.9,340.3 L290.2,324.9 L296.3,309 L303.3,292.6 L311.3,275.9 L320.3,258.9 L330.6,241.9 L342.3,225.1 L355.4,208.8 L369.9,193.5 L386,179.6 L403.5,167.7 L422.2,158.4 L441.8,152.1 L462,149.4 L482.3,150.2 L502.2,154.4 L521.4,161.9 L539.6,172.1 L556.4,184.6 L571.9,198.8 L585.9,214.3 L598.4,230.6 L609.6,247.3 L619.5,264.2 L628.3,281 L636,297.6 L642.7,313.8 L648.7,329.7 L653.9,345.1 L658.5,360.1 L662.5,374.7 L666,388.8 L669,402.6 L671.7,416 L674,429 L675.9,441.8 L677.6,454.2 L679,466.5 L680.2,478.5 L681.1,490.4 L681.8,502.2 L682.2,513.9 L682.5,525.4 L682.6,537 L682.4,548.6 L682.1,560.1 L681.6,571.8 L680.9,583.5 L680,595.4 L678.9,607.5 L677.6,619.7 L675.9,632.2 L674,645 L671.8,658.1 L669.2,671.6 L666.2,685.4 L662.8,699.6 L658.8,714.2 L654.3,729.3 L649.1,744.8 L643.2,760.8 L636.4,777.1 L628.7,793.7 L620,810.6 L610,827.5 L598.7,844.1 L586.1,860.3 L572,875.6 L556.5,889.6 L539.6,901.9 L521.4,911.8 L502.2,919 L482.2,923.1 L462,923.9 L441.9,921.2 L422.3,915.2 L403.5,906.2 L386,894.6 L369.8,880.9 L355.2,865.8 L342,849.6 L330.3,832.8 L319.9,815.8 L310.8,798.8 L302.9,782.1 L295.9,765.6 L289.8,749.6 L284.5,734.1 L279.9,719.1 L275.9,704.6 L272.4,690.6 L269.3,677 L266.7,663.8 L264.4,651.1 L262.4,638.7 L260.7,626.6 L259.3,614.8 L258.1,603.2 L257.1,591.9 L256.3,580.7 L255.7,569.7 L255.3,558.7 L255,547.8Z" fill="#d00000" stroke="#fff" stroke-opacity="0.22" stroke-width="0.6" stroke-dasharray="1.2 1.8"/>
<path d="M258,537 L258.1,526.3 L258.3,515.6 L258.8,504.8 L259.4,493.9 L260.2,482.9 L261.2,471.8 L262.4,460.4 L263.9,448.8 L265.6,436.9 L267.6,424.7 L269.9,412.2 L272.6,399.4 L275.7,386.1 L279.2,372.4 L283.2,358.2 L287.9,343.6 L293.2,328.6 L299.3,313.1 L306.3,297.2 L314.2,281 L323.2,264.6 L333.5,248.3 L345,232.2 L357.9,216.8 L372.3,202.3 L388.1,189.3 L405.2,178.2 L423.4,169.6 L442.4,163.8 L462,161.2 L481.7,161.8 L501,165.7 L519.7,172.6 L537.4,182.1 L553.9,193.9 L569.1,207.4 L582.8,222.2 L595.2,237.8 L606.2,253.9 L616,270.3 L624.6,286.6 L632.2,302.7 L638.9,318.5 L644.8,334 L649.9,349.1 L654.4,363.8 L658.3,378 L661.7,391.9 L664.7,405.4 L667.3,418.5 L669.5,431.3 L671.4,443.8 L673.1,456 L674.4,468 L675.6,479.8 L676.5,491.4 L677.1,502.9 L677.6,514.3 L677.9,525.7 L678,537 L677.9,548.3 L677.6,559.7 L677.1,571.1 L676.5,582.6 L675.6,594.2 L674.4,606 L673.1,618 L671.4,630.2 L669.5,642.7 L667.3,655.5 L664.7,668.6 L661.7,682.1 L658.3,696 L654.4,710.2 L649.9,724.9 L644.8,740 L638.9,755.5 L632.2,771.3 L624.6,787.4 L616,803.7 L606.2,820.1 L595.2,836.2 L582.8,851.8 L569.1,866.6 L553.9,880.1 L537.4,891.9 L519.7,901.4 L501,908.3 L481.7,912.2 L462,912.8 L442.4,910.2 L423.4,904.4 L405.2,895.8 L388.1,884.7 L372.3,871.7 L357.9,857.2 L345,841.8 L333.5,825.7 L323.2,809.4 L314.2,793 L306.3,776.8 L299.3,760.9 L293.2,745.4 L287.9,730.4 L283.2,715.8 L279.2,701.6 L275.7,687.9 L272.6,674.6 L269.9,661.8 L267.6,649.3 L265.6,637.1 L263.9,625.2 L262.4,613.6 L261.2,602.2 L260.2,591.1 L259.4,580.1 L258.8,569.2 L258.3,558.4 L258.1,547.7Z" fill="#d90000" stroke="#fff" stroke-opacity="0.22" stroke-width="0.6" stroke-dasharray="1.2 1.8"/>
<path d="M261.4,537 L261.5,526.5 L261.7,516 L262.2,505.4 L262.8,494.7 L263.6,483.8 L264.6,472.9 L265.8,461.7 L267.2,450.3 L268.9,438.6 L270.9,426.7 L273.2,414.4 L275.9,401.8 L279,388.8 L282.5,375.4 L286.5,361.5 L291.1,347.2 L296.4,332.5 L302.4,317.3 L309.3,301.8 L317.1,286.1 L326,270.1 L336.1,254.2 L347.5,238.6 L360.2,223.6 L374.3,209.6 L389.7,197.1 L406.5,186.4 L424.3,178.1 L442.9,172.6 L462,170.1 L481.2,170.8 L500.1,174.6 L518.3,181.4 L535.6,190.7 L551.7,202.2 L566.5,215.3 L580,229.7 L592.1,244.9 L602.8,260.6 L612.4,276.5 L620.9,292.4 L628.3,308.1 L634.9,323.5 L640.6,338.6 L645.7,353.3 L650.1,367.7 L653.9,381.6 L657.3,395.1 L660.2,408.3 L662.8,421.1 L664.9,433.6 L666.8,445.8 L668.4,457.8 L669.8,469.5 L670.9,481 L671.8,492.4 L672.4,503.7 L672.9,514.8 L673.2,525.9 L673.3,537 L673.2,548.1 L672.9,559.2 L672.5,570.3 L671.8,581.6 L670.9,593 L669.8,604.5 L668.4,616.2 L666.8,628.2 L665,640.4 L662.8,652.9 L660.2,665.7 L657.3,678.9 L653.9,692.4 L650.1,706.4 L645.7,720.7 L640.6,735.4 L634.9,750.5 L628.4,766 L620.9,781.7 L612.4,797.6 L602.9,813.5 L592.1,829.2 L580,844.4 L566.5,858.8 L551.7,871.9 L535.6,883.4 L518.3,892.7 L500.1,899.5 L481.2,903.3 L462,904 L442.9,901.5 L424.3,896 L406.5,887.7 L389.7,877 L374.3,864.4 L360.2,850.4 L347.4,835.4 L336.1,819.8 L326,803.9 L317.1,788 L309.3,772.2 L302.4,756.7 L296.4,741.6 L291.1,726.8 L286.5,712.5 L282.5,698.7 L278.9,685.2 L275.9,672.2 L273.2,659.6 L270.9,647.3 L268.9,635.4 L267.2,623.7 L265.8,612.3 L264.6,601.1 L263.6,590.2 L262.8,579.3 L262.2,568.7 L261.7,558 L261.5,547.5Z" fill="#e20000" stroke="#fff" stroke-opacity="0.22" stroke-width="0.6" stroke-dasharray="1.2 1.8"/>
<path d="M264.8,537 L264.9,526.7 L265.1,516.3 L265.6,505.9 L266.2,495.4 L267,484.7 L268,474 L269.2,463 L270.6,451.8 L272.3,440.4 L274.3,428.6 L276.6,416.6 L279.2,404.2 L282.3,391.5 L285.8,378.3 L289.8,364.8 L294.3,350.8 L299.5,336.4 L305.5,321.6 L312.3,306.5 L320,291.1 L328.8,275.6 L338.8,260.2 L349.9,245.1 L362.4,230.5 L376.3,217 L391.4,204.9 L407.8,194.6 L425.2,186.6 L443.4,181.3 L462,179 L480.7,179.8 L499.1,183.6 L516.9,190.2 L533.8,199.2 L549.5,210.4 L564,223.2 L577.1,237.2 L588.9,252 L599.5,267.2 L608.8,282.7 L617.1,298.2 L624.4,313.5 L630.8,328.5 L636.5,343.2 L641.4,357.6 L645.7,371.6 L649.5,385.1 L652.8,398.4 L655.7,411.2 L658.2,423.7 L660.4,435.9 L662.2,447.9 L663.8,459.5 L665.1,471 L666.2,482.3 L667.1,493.4 L667.8,504.4 L668.2,515.3 L668.5,526.2 L668.6,537 L668.5,547.8 L668.2,558.7 L667.8,569.6 L667.1,580.6 L666.2,591.7 L665.2,603 L663.8,614.5 L662.3,626.2 L660.4,638.1 L658.2,650.3 L655.8,662.8 L652.9,675.7 L649.6,688.9 L645.8,702.5 L641.5,716.5 L636.5,730.8 L630.9,745.6 L624.5,760.6 L617.2,775.9 L608.9,791.4 L599.5,806.9 L589,822.2 L577.1,837 L564,851 L549.6,863.8 L533.8,874.9 L517,884 L499.2,890.6 L480.7,894.4 L462,895.2 L443.4,892.9 L425.2,887.6 L407.7,879.6 L391.4,869.3 L376.2,857.2 L362.4,843.6 L349.9,829.1 L338.7,813.9 L328.8,798.5 L320,783 L312.2,767.6 L305.4,752.5 L299.5,737.7 L294.3,723.3 L289.7,709.3 L285.7,695.7 L282.2,682.6 L279.2,669.8 L276.6,657.4 L274.3,645.4 L272.3,633.7 L270.6,622.2 L269.2,611 L267.9,600.1 L267,589.3 L266.2,578.6 L265.6,568.1 L265.1,557.7 L264.9,547.3Z" fill="#eb0000" stroke="#fff" stroke-opacity="0.22" stroke-width="0.6" stroke-dasharray="1.2 1.8"/>
<path d="M268.2,537 L268.3,526.8 L268.5,516.7 L269,506.4 L269.6,496.1 L270.4,485.7 L271.4,475.1 L272.6,464.3 L274,453.3 L275.7,442.1 L277.7,430.6 L279.9,418.8 L282.6,406.6 L285.6,394.2 L289.1,381.3 L293,368 L297.5,354.4 L302.7,340.3 L308.6,325.9 L315.3,311.1 L323,296.2 L331.6,281.1 L341.4,266.1 L352.4,251.5 L364.7,237.4 L378.2,224.3 L393.1,212.6 L409.1,202.8 L426.1,195.1 L443.8,190.1 L462,188 L480.3,188.8 L498.2,192.5 L515.5,198.9 L532,207.8 L547.3,218.7 L561.4,231.1 L574.2,244.7 L585.8,259 L596.1,273.9 L605.2,288.9 L613.3,304 L620.5,318.9 L626.8,333.5 L632.3,347.8 L637.2,361.8 L641.4,375.5 L645.1,388.7 L648.4,401.6 L651.2,414.1 L653.7,426.3 L655.8,438.3 L657.6,449.9 L659.2,461.3 L660.5,472.5 L661.6,483.5 L662.4,494.4 L663.1,505.2 L663.5,515.8 L663.8,526.4 L663.9,537 L663.8,547.6 L663.5,558.2 L663.1,568.8 L662.4,579.6 L661.6,590.5 L660.5,601.5 L659.2,612.7 L657.7,624.1 L655.8,635.8 L653.7,647.7 L651.3,659.9 L648.4,672.5 L645.2,685.4 L641.5,698.6 L637.2,712.2 L632.4,726.2 L626.9,740.6 L620.6,755.3 L613.4,770.2 L605.3,785.2 L596.2,800.3 L585.8,815.1 L574.3,829.5 L561.5,843.1 L547.4,855.6 L532,866.5 L515.6,875.3 L498.2,881.8 L480.3,885.5 L462,886.3 L443.8,884.2 L426,879.1 L409,871.5 L393,861.6 L378.2,849.9 L364.6,836.8 L352.3,822.8 L341.3,808.1 L331.5,793.1 L322.9,778 L315.2,763 L308.5,748.2 L302.6,733.8 L297.5,719.7 L292.9,706.1 L289,692.8 L285.5,679.9 L282.5,667.4 L279.9,655.3 L277.6,643.5 L275.6,632 L274,620.7 L272.5,609.7 L271.3,599 L270.3,588.4 L269.6,577.9 L269,567.6 L268.5,557.3 L268.3,547.2Z" fill="#f20200" stroke="#fff" stroke-opacity="0.22" stroke-width="0.6" stroke-dasharray="1.2 1.8"/>
<path d="M271.6,537 L271.7,527 L271.9,517 L272.4,507 L273,496.8 L273.8,486.6 L274.8,476.2 L276,465.6 L277.4,454.8 L279.1,443.8 L281,432.5 L283.3,421 L285.9,409.1 L288.9,396.8 L292.3,384.2 L296.3,371.3 L300.8,357.9 L305.9,344.2 L311.7,330.1 L318.3,315.8 L325.9,301.2 L334.4,286.6 L344,272.1 L354.9,257.9 L366.9,244.3 L380.2,231.7 L394.7,220.4 L410.4,211 L427,203.7 L444.3,198.9 L462,196.9 L479.8,197.8 L497.3,201.4 L514.1,207.7 L530.2,216.4 L545.1,226.9 L558.8,239 L571.3,252.2 L582.6,266.1 L592.7,280.5 L601.6,295.1 L609.6,309.8 L616.6,324.2 L622.7,338.5 L628.2,352.5 L632.9,366.1 L637.1,379.3 L640.7,392.3 L643.9,404.8 L646.7,417 L649.1,429 L651.2,440.6 L653,452 L654.5,463.1 L655.8,474 L656.9,484.8 L657.7,495.4 L658.4,505.9 L658.8,516.3 L659.1,526.7 L659.2,537 L659.1,547.3 L658.8,557.7 L658.4,568.1 L657.8,578.6 L656.9,589.2 L655.9,600 L654.6,610.9 L653.1,622.1 L651.3,633.4 L649.2,645.1 L646.8,657 L644,669.2 L640.8,681.8 L637.2,694.7 L633,708 L628.3,721.7 L622.9,735.6 L616.7,749.9 L609.7,764.4 L601.8,779.1 L592.8,793.7 L582.7,808.1 L571.4,822.1 L558.9,835.3 L545.2,847.4 L530.2,858 L514.2,866.6 L497.3,873 L479.8,876.6 L462,877.5 L444.3,875.5 L426.9,870.7 L410.3,863.4 L394.6,853.9 L380.1,842.7 L366.8,830 L354.7,816.4 L343.9,802.2 L334.3,787.6 L325.8,773 L318.2,758.4 L311.6,744 L305.8,729.9 L300.7,716.2 L296.2,702.8 L292.2,689.8 L288.8,677.2 L285.8,665 L283.2,653.1 L281,641.5 L279,630.2 L277.3,619.2 L275.9,608.4 L274.7,597.9 L273.7,587.4 L272.9,577.2 L272.3,567 L271.9,557 L271.7,547Z" fill="#f80500" stroke="#fff" stroke-opacity="0.22" stroke-width="0.6" stroke-dasharray="1.2 1.8"/>
<path d="M275,537 L275.1,527.2 L275.3,517.4 L275.8,507.5 L276.4,497.5 L277.2,487.5 L278.1,477.3 L279.3,466.9 L280.8,456.3 L282.4,445.5 L284.4,434.5 L286.6,423.1 L289.2,411.5 L292.2,399.5 L295.6,387.2 L299.5,374.5 L304,361.5 L309,348.1 L314.8,334.4 L321.4,320.4 L328.8,306.3 L337.2,292.1 L346.7,278 L357.3,264.3 L369.1,251.2 L382.2,239 L396.4,228.2 L411.7,219.1 L427.9,212.2 L444.7,207.7 L462,205.8 L479.3,206.7 L496.3,210.4 L512.8,216.5 L528.3,224.9 L542.9,235.1 L556.3,246.9 L568.5,259.7 L579.5,273.2 L589.3,287.2 L598.1,301.4 L605.8,315.6 L612.7,329.6 L618.7,343.5 L624,357.1 L628.7,370.3 L632.8,383.2 L636.3,395.8 L639.5,408.1 L642.2,420 L644.6,431.6 L646.6,442.9 L648.4,454 L649.9,464.9 L651.2,475.5 L652.2,486 L653.1,496.4 L653.7,506.6 L654.1,516.8 L654.4,526.9 L654.5,537 L654.4,547.1 L654.2,557.2 L653.7,567.4 L653.1,577.6 L652.3,588 L651.2,598.5 L650,609.2 L648.5,620 L646.7,631.1 L644.7,642.5 L642.3,654.1 L639.6,666 L636.5,678.3 L632.9,690.9 L628.8,703.8 L624.1,717.1 L618.8,730.7 L612.8,744.6 L606,758.7 L598.2,772.9 L589.4,787.1 L579.6,801.1 L568.6,814.7 L556.4,827.5 L543,839.3 L528.4,849.5 L512.8,857.9 L496.4,864.1 L479.3,867.7 L462,868.7 L444.7,866.8 L427.8,862.3 L411.6,855.3 L396.3,846.2 L382,835.4 L369,823.2 L357.2,810.1 L346.6,796.3 L337.1,782.2 L328.7,768 L321.2,753.8 L314.7,739.8 L308.9,726.1 L303.8,712.7 L299.4,699.6 L295.5,686.9 L292.1,674.6 L289.1,662.6 L286.6,650.9 L284.3,639.6 L282.4,628.5 L280.7,617.7 L279.3,607.1 L278.1,596.8 L277.1,586.5 L276.3,576.5 L275.7,566.5 L275.3,556.6 L275.1,546.8Z" fill="#fd0800" stroke="#fff" stroke-opacity="0.22" stroke-width="0.6" stroke-dasharray="1.2 1.8"/>
<path d="M278.4,537 L278.5,527.4 L278.7,517.7 L279.2,508 L279.8,498.3 L280.6,488.4 L281.5,478.4 L282.7,468.2 L284.2,457.8 L285.8,447.2 L287.8,436.4 L290,425.3 L292.6,413.9 L295.5,402.2 L298.9,390.2 L302.8,377.8 L307.2,365.1 L312.2,352 L317.9,338.7 L324.4,325.1 L331.7,311.4 L340,297.6 L349.3,284 L359.8,270.7 L371.4,258 L384.1,246.4 L398,236 L413,227.3 L428.8,220.7 L445.2,216.4 L462,214.8 L478.8,215.7 L495.4,219.3 L511.4,225.3 L526.5,233.5 L540.7,243.4 L553.7,254.7 L565.6,267.1 L576.3,280.3 L585.9,293.8 L594.5,307.6 L602,321.4 L608.7,335 L614.7,348.5 L619.9,361.7 L624.4,374.6 L628.4,387.1 L632,399.4 L635,411.3 L637.7,422.9 L640.1,434.2 L642.1,445.2 L643.8,456.1 L645.3,466.6 L646.5,477 L647.6,487.3 L648.4,497.4 L649,507.4 L649.4,517.3 L649.7,527.2 L649.8,537 L649.7,546.8 L649.5,556.7 L649,566.6 L648.4,576.6 L647.6,586.7 L646.6,597 L645.4,607.4 L643.9,618 L642.2,628.8 L640.2,639.9 L637.8,651.2 L635.2,662.8 L632.1,674.7 L628.6,687 L624.6,699.6 L620,712.5 L614.8,725.7 L608.9,739.2 L602.2,752.9 L594.6,766.7 L586.1,780.5 L576.5,794.1 L565.8,807.3 L553.9,819.7 L540.8,831.1 L526.6,841.1 L511.5,849.2 L495.5,855.3 L478.9,858.9 L462,859.8 L445.2,858.1 L428.7,853.9 L412.9,847.2 L397.9,838.5 L384,828.1 L371.2,816.4 L359.6,803.7 L349.2,790.4 L339.8,776.8 L331.5,762.9 L324.2,749.2 L317.7,735.6 L312,722.2 L307,709.1 L302.6,696.4 L298.8,684 L295.4,671.9 L292.5,660.2 L289.9,648.8 L287.6,637.7 L285.7,626.8 L284.1,616.2 L282.7,605.8 L281.5,595.7 L280.5,585.6 L279.7,575.7 L279.1,566 L278.7,556.3 L278.5,546.6Z" fill="#ff0f00" stroke="#fff" stroke-opacity="0.22" stroke-width="0.6" stroke-dasharray="1.2 1.8"/>
<path d="M281.8,537 L281.9,527.6 L282.1,518.1 L282.6,508.6 L283.2,499 L284,489.3 L284.9,479.5 L286.1,469.5 L287.5,459.3 L289.2,448.9 L291.1,438.3 L293.4,427.5 L295.9,416.3 L298.9,404.9 L302.2,393.1 L306,381 L310.4,368.6 L315.4,355.9 L321,342.9 L327.4,329.8 L334.6,316.4 L342.8,303.1 L352,289.9 L362.2,277.1 L373.6,264.9 L386.1,253.7 L399.7,243.8 L414.2,235.5 L429.7,229.2 L445.7,225.2 L462,223.7 L478.4,224.7 L494.5,228.3 L510,234.1 L524.7,242 L538.5,251.6 L551.1,262.6 L562.7,274.6 L573.2,287.3 L582.5,300.5 L590.9,313.8 L598.3,327.2 L604.8,340.4 L610.6,353.5 L615.7,366.3 L620.2,378.8 L624.1,391 L627.6,402.9 L630.6,414.5 L633.2,425.8 L635.5,436.8 L637.5,447.6 L639.2,458.1 L640.7,468.4 L641.9,478.6 L642.9,488.5 L643.7,498.4 L644.3,508.1 L644.7,517.8 L645,527.4 L645.1,537 L645,546.6 L644.8,556.2 L644.3,565.9 L643.7,575.6 L642.9,585.5 L642,595.5 L640.7,605.6 L639.3,615.9 L637.6,626.5 L635.6,637.3 L633.4,648.3 L630.7,659.6 L627.7,671.2 L624.3,683.1 L620.4,695.4 L615.9,707.9 L610.8,720.8 L605,733.9 L598.5,747.2 L591.1,760.6 L582.7,773.9 L573.4,787.1 L562.9,799.9 L551.3,811.9 L538.6,822.9 L524.8,832.6 L510.1,840.5 L494.5,846.4 L478.4,850 L462,851 L445.6,849.5 L429.6,845.5 L414.1,839.2 L399.5,830.8 L385.9,820.9 L373.4,809.6 L362,797.4 L351.8,784.5 L342.6,771.3 L334.4,757.9 L327.2,744.6 L320.8,731.3 L315.2,718.3 L310.2,705.6 L305.9,693.1 L302,681 L298.7,669.2 L295.8,657.8 L293.2,646.6 L291,635.7 L289.1,625.1 L287.4,614.7 L286,604.5 L284.9,594.6 L283.9,584.7 L283.1,575 L282.5,565.4 L282.1,555.9 L281.9,546.4Z" fill="#ff1900" stroke="#fff" stroke-opacity="0.22" stroke-width="0.6" stroke-dasharray="1.2 1.8"/>
<path d="M285.2,537 L285.3,527.7 L285.5,518.5 L286,509.1 L286.6,499.7 L287.3,490.2 L288.3,480.6 L289.5,470.8 L290.9,460.8 L292.6,450.7 L294.5,440.3 L296.7,429.7 L299.3,418.8 L302.2,407.6 L305.5,396.1 L309.3,384.3 L313.6,372.2 L318.5,359.8 L324.1,347.2 L330.4,334.4 L337.6,321.5 L345.6,308.6 L354.6,295.9 L364.7,283.5 L375.8,271.8 L388.1,261.1 L401.3,251.6 L415.5,243.7 L430.5,237.7 L446.1,234 L462,232.6 L477.9,233.7 L493.5,237.2 L508.6,242.9 L522.9,250.6 L536.3,259.9 L548.6,270.5 L559.8,282.1 L570,294.4 L579.1,307.1 L587.3,320 L594.5,333 L600.9,345.8 L606.6,358.5 L611.6,370.9 L615.9,383.1 L619.8,394.9 L623.2,406.5 L626.1,417.7 L628.7,428.7 L631,439.4 L632.9,449.9 L634.6,460.2 L636,470.2 L637.2,480.1 L638.2,489.8 L639,499.4 L639.6,508.9 L640.1,518.3 L640.3,527.7 L640.4,537 L640.3,546.3 L640.1,555.7 L639.7,565.1 L639.1,574.6 L638.3,584.2 L637.3,594 L636.1,603.8 L634.7,613.9 L633.1,624.2 L631.1,634.6 L628.9,645.4 L626.3,656.4 L623.4,667.7 L620,679.3 L616.1,691.1 L611.8,703.3 L606.8,715.8 L601.1,728.5 L594.7,741.4 L587.5,754.4 L579.4,767.3 L570.2,780.1 L560.1,792.4 L548.8,804.1 L536.4,814.8 L523,824.1 L508.7,831.9 L493.6,837.6 L477.9,841.1 L462,842.2 L446.1,840.8 L430.5,837 L415.4,831.1 L401.2,823.1 L387.9,813.6 L375.6,802.8 L364.5,791.1 L354.4,778.7 L345.4,765.9 L337.3,752.9 L330.2,740 L323.9,727.1 L318.3,714.4 L313.4,702 L309.1,689.9 L305.3,678.1 L302,666.6 L299.1,655.4 L296.5,644.4 L294.3,633.8 L292.4,623.4 L290.8,613.2 L289.4,603.3 L288.2,593.5 L287.3,583.8 L286.5,574.3 L285.9,564.9 L285.5,555.5 L285.3,546.3Z" fill="#ff2300" stroke="#fff" stroke-opacity="0.22" stroke-width="0.6" stroke-dasharray="1.2 1.8"/>
<path d="M288.6,537 L288.7,527.9 L288.9,518.8 L289.4,509.7 L290,500.4 L290.7,491.1 L291.7,481.7 L292.9,472.1 L294.3,462.3 L295.9,452.4 L297.8,442.2 L300.1,431.8 L302.6,421.2 L305.5,410.3 L308.8,399 L312.6,387.6 L316.8,375.8 L321.7,363.7 L327.2,351.5 L333.5,339.1 L340.5,326.5 L348.4,314.1 L357.3,301.8 L367.2,289.9 L378.1,278.7 L390,268.4 L403,259.3 L416.8,251.9 L431.4,246.3 L446.6,242.8 L462,241.6 L477.4,242.7 L492.6,246.1 L507.2,251.7 L521.1,259.1 L534,268.1 L546,278.4 L557,289.6 L566.9,301.5 L575.7,313.8 L583.7,326.2 L590.7,338.8 L597,351.2 L602.5,363.5 L607.4,375.5 L611.7,387.3 L615.5,398.8 L618.8,410 L621.7,421 L624.2,431.7 L626.4,442.1 L628.3,452.2 L630,462.2 L631.4,472 L632.6,481.6 L633.6,491 L634.3,500.4 L634.9,509.6 L635.4,518.8 L635.6,527.9 L635.7,537 L635.6,546.1 L635.4,555.2 L635,564.4 L634.4,573.6 L633.6,583 L632.7,592.5 L631.5,602.1 L630.1,611.9 L628.5,621.8 L626.6,632 L624.4,642.5 L621.9,653.2 L619,664.1 L615.7,675.4 L611.9,686.9 L607.6,698.8 L602.8,710.8 L597.3,723.2 L591,735.7 L584,748.2 L576,760.8 L567.1,773.1 L557.2,785 L546.2,796.3 L534.2,806.6 L521.2,815.7 L507.3,823.2 L492.7,828.7 L477.5,832.2 L462,833.3 L446.5,832.1 L431.4,828.6 L416.7,823 L402.8,815.5 L389.8,806.4 L377.8,796 L366.9,784.7 L357,772.8 L348.1,760.4 L340.2,747.9 L333.2,735.4 L327,722.9 L321.4,710.6 L316.6,698.5 L312.3,686.7 L308.6,675.2 L305.3,663.9 L302.4,653 L299.9,642.3 L297.7,631.9 L295.8,621.7 L294.2,611.7 L292.8,602 L291.6,592.4 L290.7,582.9 L289.9,573.6 L289.3,564.3 L288.9,555.2 L288.7,546.1Z" fill="#ff2d00" stroke="#fff" stroke-opacity="0.22" stroke-width="0.6" stroke-dasharray="1.2 1.8"/>
<path d="M292,537 L292.1,528.1 L292.3,519.2 L292.8,510.2 L293.4,501.2 L294.1,492 L295.1,482.8 L296.3,473.4 L297.7,463.8 L299.3,454.1 L301.2,444.2 L303.4,434 L305.9,423.6 L308.8,412.9 L312.1,402 L315.8,390.8 L320.1,379.4 L324.9,367.7 L330.3,355.8 L336.5,343.7 L343.4,331.6 L351.2,319.6 L359.9,307.7 L369.6,296.3 L380.3,285.6 L392,275.7 L404.6,267.1 L418.1,260.1 L432.3,254.8 L447,251.5 L462,250.5 L477,251.7 L491.6,255.1 L505.8,260.5 L519.2,267.7 L531.8,276.4 L543.5,286.3 L554.1,297.1 L563.7,308.6 L572.4,320.4 L580.1,332.5 L587,344.6 L593.1,356.6 L598.5,368.5 L603.2,380.1 L607.4,391.6 L611.1,402.7 L614.4,413.6 L617.2,424.2 L619.7,434.6 L621.9,444.7 L623.8,454.6 L625.4,464.3 L626.8,473.8 L627.9,483.1 L628.9,492.3 L629.7,501.4 L630.2,510.4 L630.7,519.3 L630.9,528.1 L631,537 L630.9,545.9 L630.7,554.7 L630.3,563.7 L629.7,572.7 L629,581.7 L628,590.9 L626.9,600.3 L625.5,609.8 L623.9,619.5 L622.1,629.4 L619.9,639.6 L617.5,649.9 L614.6,660.6 L611.4,671.5 L607.7,682.7 L603.5,694.2 L598.8,705.9 L593.4,717.8 L587.3,729.9 L580.4,742.1 L572.7,754.2 L564,766.1 L554.4,777.6 L543.7,788.5 L532.1,798.5 L519.4,807.2 L505.9,814.5 L491.7,819.9 L477,823.3 L462,824.5 L447,823.4 L432.2,820.2 L418,814.9 L404.4,807.8 L391.8,799.1 L380.1,789.2 L369.3,778.4 L359.6,766.9 L350.9,755 L343.1,742.9 L336.2,730.7 L330,718.6 L324.6,706.7 L319.8,694.9 L315.6,683.4 L311.8,672.2 L308.6,661.2 L305.7,650.6 L303.2,640.1 L301,629.9 L299.1,620 L297.5,610.2 L296.2,600.7 L295,591.3 L294.1,582 L293.3,572.9 L292.7,563.8 L292.3,554.8 L292.1,545.9Z" fill="#ff3700" stroke="#fff" stroke-opacity="0.22" stroke-width="0.6" stroke-dasharray="1.2 1.8"/>
<path d="M295.6,537 L295.7,528.3 L296,519.6 L296.4,510.8 L297,501.9 L297.8,493 L298.7,483.9 L299.9,474.8 L301.3,465.4 L302.9,455.9 L304.7,446.2 L306.9,436.3 L309.4,426.1 L312.2,415.7 L315.5,405.1 L319.1,394.1 L323.3,383 L328.1,371.6 L333.4,360 L339.5,348.3 L346.3,336.6 L353.9,324.9 L362.5,313.4 L371.9,302.4 L382.4,292 L393.8,282.5 L406.2,274.3 L419.3,267.5 L433.1,262.4 L447.4,259.4 L462,258.4 L476.5,259.6 L490.8,263 L504.6,268.2 L517.6,275.2 L529.9,283.7 L541.2,293.3 L551.5,303.8 L560.9,314.9 L569.3,326.4 L576.8,338.1 L583.5,349.9 L589.5,361.6 L594.7,373.1 L599.4,384.4 L603.5,395.5 L607.1,406.4 L610.2,417 L613,427.3 L615.4,437.4 L617.6,447.2 L619.4,456.8 L621,466.2 L622.3,475.5 L623.5,484.5 L624.4,493.5 L625.1,502.3 L625.7,511.1 L626.1,519.7 L626.4,528.4 L626.5,537 L626.4,545.6 L626.2,554.3 L625.8,562.9 L625.2,571.7 L624.5,580.5 L623.6,589.5 L622.5,598.6 L621.2,607.9 L619.6,617.3 L617.8,627 L615.7,636.8 L613.3,647 L610.6,657.3 L607.5,668 L603.9,678.9 L599.8,690.1 L595.2,701.5 L590,713.2 L584.1,725 L577.4,736.9 L569.9,748.7 L561.5,760.4 L552.1,771.7 L541.7,782.4 L530.4,792.2 L518.1,800.8 L504.9,807.9 L491,813.3 L476.7,816.7 L462,818 L447.3,817 L432.9,813.9 L419,808.8 L405.7,801.8 L393.3,793.4 L381.8,783.7 L371.3,773.2 L361.8,762 L353.3,750.3 L345.7,738.5 L338.9,726.6 L332.9,714.8 L327.5,703.1 L322.8,691.6 L318.7,680.3 L315,669.3 L311.8,658.6 L309,648.1 L306.6,637.9 L304.5,627.9 L302.6,618.2 L301.1,608.7 L299.7,599.3 L298.6,590.1 L297.6,581 L296.9,572.1 L296.3,563.2 L295.9,554.5 L295.7,545.7Z" fill="#ff4100" stroke="#fff" stroke-opacity="0.22" stroke-width="0.6" stroke-dasharray="1.2 1.8"/>
<path d="M299.3,537 L299.4,528.5 L299.6,519.9 L300,511.3 L300.6,502.7 L301.4,494 L302.3,485.1 L303.5,476.1 L304.8,467 L306.4,457.7 L308.3,448.3 L310.4,438.6 L312.9,428.6 L315.7,418.5 L318.9,408.1 L322.5,397.5 L326.6,386.6 L331.3,375.5 L336.5,364.3 L342.5,352.9 L349.2,341.5 L356.6,330.2 L365,319.2 L374.3,308.5 L384.5,298.5 L395.6,289.3 L407.7,281.4 L420.5,274.9 L433.9,270.1 L447.9,267.2 L462,266.3 L476.1,267.6 L490,270.8 L503.3,276 L516,282.8 L527.9,291 L538.9,300.4 L548.9,310.6 L558,321.3 L566.2,332.5 L573.5,343.8 L580,355.2 L585.8,366.6 L591,377.7 L595.5,388.7 L599.5,399.5 L603,410 L606.1,420.3 L608.8,430.3 L611.2,440.1 L613.2,449.7 L615,459 L616.6,468.2 L617.9,477.2 L619,486 L619.9,494.7 L620.6,503.3 L621.2,511.8 L621.6,520.2 L621.8,528.6 L621.9,537 L621.9,545.4 L621.6,553.8 L621.3,562.2 L620.7,570.7 L620,579.3 L619.1,588.1 L618.1,596.9 L616.8,605.9 L615.3,615.1 L613.6,624.5 L611.6,634.1 L609.2,644 L606.6,654.1 L603.5,664.5 L600.1,675.1 L596.2,686 L591.7,697.2 L586.6,708.5 L580.9,720.1 L574.4,731.7 L567.1,743.3 L558.9,754.7 L549.8,765.7 L539.7,776.2 L528.7,785.9 L516.7,794.4 L503.9,801.4 L490.4,806.8 L476.3,810.2 L462,811.5 L447.7,810.6 L433.6,807.6 L419.9,802.6 L407,795.9 L394.8,787.7 L383.6,778.3 L373.3,768 L364,757 L355.7,745.6 L348.2,734.1 L341.6,722.4 L335.7,710.9 L330.5,699.4 L325.9,688.2 L321.8,677.2 L318.3,666.4 L315.1,655.9 L312.4,645.7 L310,635.7 L307.9,626 L306.1,616.4 L304.6,607.1 L303.3,597.9 L302.1,588.9 L301.2,580.1 L300.5,571.3 L300,562.7 L299.6,554.1 L299.3,545.5Z" fill="#ff4b00" stroke="#fff" stroke-opacity="0.22" stroke-width="0.6" stroke-dasharray="1.2 1.8"/>
<path d="M302.9,537 L303,528.7 L303.3,520.3 L303.7,511.9 L304.2,503.5 L305,494.9 L305.9,486.3 L307.1,477.5 L308.4,468.6 L310,459.5 L311.8,450.3 L313.9,440.8 L316.3,431.2 L319.1,421.3 L322.2,411.2 L325.8,400.8 L329.9,390.3 L334.5,379.5 L339.6,368.6 L345.5,357.5 L352,346.5 L359.4,335.6 L367.5,324.9 L376.6,314.6 L386.6,304.9 L397.5,296.1 L409.2,288.5 L421.7,282.3 L434.7,277.7 L448.3,275 L462,274.2 L475.7,275.5 L489.1,278.7 L502.1,283.7 L514.4,290.4 L525.9,298.4 L536.6,307.4 L546.3,317.3 L555.2,327.7 L563.1,338.5 L570.2,349.5 L576.6,360.6 L582.2,371.5 L587.2,382.4 L591.6,393.1 L595.5,403.5 L598.9,413.7 L601.9,423.7 L604.6,433.4 L606.9,442.9 L608.9,452.2 L610.6,461.3 L612.1,470.1 L613.4,478.9 L614.5,487.4 L615.4,495.9 L616.1,504.2 L616.7,512.5 L617.1,520.7 L617.3,528.9 L617.4,537 L617.3,545.1 L617.1,553.3 L616.7,561.5 L616.2,569.8 L615.6,578.1 L614.7,586.6 L613.7,595.2 L612.4,604 L611,612.9 L609.3,622.1 L607.4,631.4 L605.1,641 L602.6,650.8 L599.6,660.9 L596.3,671.3 L592.5,681.9 L588.2,692.8 L583.2,703.9 L577.7,715.1 L571.4,726.5 L564.3,737.8 L556.4,749 L547.5,759.8 L537.7,770.1 L527,779.6 L515.3,787.9 L502.8,794.9 L489.7,800.2 L476,803.6 L462,804.9 L448,804.2 L434.2,801.3 L420.9,796.5 L408.2,790 L396.4,782 L385.4,772.8 L375.3,762.7 L366.3,752.1 L358.1,741 L350.8,729.7 L344.3,718.3 L338.5,707 L333.4,695.8 L328.9,684.8 L324.9,674.1 L321.5,663.5 L318.4,653.3 L315.7,643.3 L313.4,633.5 L311.4,624 L309.6,614.7 L308.1,605.5 L306.8,596.6 L305.7,587.8 L304.8,579.1 L304.1,570.6 L303.6,562.1 L303.2,553.7 L303,545.3Z" fill="#ff5500" stroke="#fff" stroke-opacity="0.22" stroke-width="0.6" stroke-dasharray="1.2 1.8"/>
<path d="M306.6,537 L306.6,528.9 L306.9,520.7 L307.3,512.5 L307.9,504.2 L308.6,495.9 L309.5,487.5 L310.7,478.9 L312,470.2 L313.5,461.4 L315.4,452.3 L317.4,443.1 L319.8,433.7 L322.5,424.1 L325.6,414.2 L329.2,404.2 L333.1,393.9 L337.6,383.4 L342.7,372.8 L348.5,362.2 L354.9,351.5 L362.1,340.9 L370.1,330.6 L379,320.6 L388.7,311.4 L399.3,302.9 L410.7,295.6 L422.8,289.7 L435.6,285.4 L448.7,282.8 L462,282.2 L475.3,283.4 L488.3,286.6 L500.9,291.5 L512.8,297.9 L524,305.7 L534.3,314.5 L543.8,324 L552.3,334.1 L560,344.6 L567,355.2 L573.1,365.9 L578.6,376.5 L583.4,387 L587.7,397.4 L591.5,407.5 L594.8,417.4 L597.8,427 L600.4,436.5 L602.6,445.7 L604.6,454.7 L606.3,463.5 L607.7,472.1 L609,480.6 L610,488.9 L610.9,497.1 L611.6,505.2 L612.1,513.2 L612.5,521.2 L612.8,529.1 L612.8,537 L612.8,544.9 L612.6,552.8 L612.2,560.8 L611.7,568.8 L611.1,576.9 L610.3,585.2 L609.3,593.5 L608.1,602 L606.7,610.7 L605.1,619.6 L603.2,628.7 L601,638 L598.5,647.6 L595.7,657.4 L592.5,667.5 L588.8,677.8 L584.6,688.4 L579.9,699.2 L574.5,710.2 L568.4,721.3 L561.5,732.3 L553.8,743.3 L545.3,753.9 L535.7,764 L525.3,773.3 L514,781.5 L501.8,788.4 L489,793.6 L475.6,797 L462,798.4 L448.3,797.7 L434.9,795 L421.9,790.4 L409.5,784.1 L397.9,776.3 L387.2,767.4 L377.3,757.5 L368.5,747.1 L360.5,736.3 L353.3,725.2 L347,714.1 L341.3,703.1 L336.3,692.2 L332,681.4 L328.1,670.9 L324.7,660.6 L321.7,650.6 L319.1,640.8 L316.8,631.3 L314.8,622 L313.1,612.9 L311.6,604 L310.4,595.2 L309.3,586.6 L308.4,578.1 L307.7,569.8 L307.2,561.5 L306.8,553.3 L306.6,545.1Z" fill="#ff5f00" stroke="#fff" stroke-opacity="0.22" stroke-width="0.6" stroke-dasharray="1.2 1.8"/>
<path d="M310.2,537 L310.3,529 L310.5,521.1 L310.9,513.1 L311.5,505 L312.2,496.9 L313.1,488.6 L314.3,480.3 L315.6,471.8 L317.1,463.2 L318.9,454.4 L320.9,445.4 L323.3,436.2 L326,426.8 L329,417.3 L332.5,407.5 L336.4,397.5 L340.8,387.4 L345.8,377.1 L351.5,366.8 L357.8,356.4 L364.8,346.2 L372.6,336.3 L381.3,326.7 L390.8,317.8 L401.1,309.7 L412.2,302.8 L424,297.1 L436.4,293 L449.1,290.6 L462,290.1 L474.9,291.4 L487.5,294.5 L499.7,299.3 L511.2,305.5 L522,313 L532,321.5 L541.2,330.7 L549.5,340.5 L557,350.6 L563.7,360.9 L569.7,371.2 L575,381.5 L579.7,391.7 L583.8,401.7 L587.5,411.5 L590.8,421.1 L593.6,430.4 L596.1,439.5 L598.3,448.5 L600.2,457.2 L601.9,465.7 L603.3,474.1 L604.5,482.3 L605.6,490.4 L606.4,498.3 L607.1,506.2 L607.6,513.9 L608,521.7 L608.2,529.3 L608.3,537 L608.2,544.7 L608,552.4 L607.7,560.1 L607.2,567.9 L606.6,575.7 L605.8,583.7 L604.9,591.8 L603.7,600.1 L602.4,608.5 L600.8,617.1 L599,626 L596.9,635 L594.5,644.3 L591.8,653.9 L588.7,663.7 L585.1,673.7 L581.1,684 L576.5,694.6 L571.3,705.3 L565.4,716.1 L558.8,726.9 L551.3,737.6 L543,748 L533.8,757.8 L523.6,767 L512.6,775.1 L500.8,781.9 L488.3,787.1 L475.3,790.5 L462,791.9 L448.7,791.3 L435.5,788.7 L422.8,784.3 L410.7,778.1 L399.4,770.6 L388.9,761.9 L379.3,752.3 L370.7,742.2 L362.8,731.6 L355.9,720.8 L349.7,710 L344.2,699.2 L339.3,688.5 L335,678.1 L331.2,667.8 L327.9,657.8 L325,648 L322.4,638.4 L320.2,629.1 L318.2,620 L316.6,611.1 L315.1,602.4 L313.9,593.9 L312.9,585.5 L312,577.2 L311.3,569 L310.8,560.9 L310.5,552.9 L310.3,545Z" fill="#ff6900" stroke="#fff" stroke-opacity="0.22" stroke-width="0.6" stroke-dasharray="1.2 1.8"/>
<path d="M313.8,537 L313.9,529.2 L314.2,521.5 L314.6,513.6 L315.1,505.8 L315.8,497.8 L316.8,489.8 L317.8,481.7 L319.1,473.4 L320.7,465 L322.4,456.4 L324.4,447.7 L326.8,438.7 L329.4,429.6 L332.4,420.3 L335.8,410.8 L339.7,401.1 L344,391.3 L348.9,381.4 L354.4,371.4 L360.6,361.4 L367.5,351.6 L375.2,342 L383.6,332.8 L392.9,324.3 L402.9,316.5 L413.7,309.9 L425.2,304.5 L437.2,300.7 L449.5,298.4 L462,298 L474.5,299.3 L486.7,302.4 L498.4,307 L509.6,313.1 L520.1,320.3 L529.7,328.5 L538.6,337.5 L546.6,346.9 L553.9,356.7 L560.4,366.6 L566.2,376.6 L571.3,386.5 L575.9,396.3 L580,406 L583.5,415.5 L586.7,424.7 L589.5,433.8 L591.9,442.6 L594,451.3 L595.9,459.7 L597.5,468 L598.9,476 L600.1,484 L601.1,491.8 L601.9,499.5 L602.6,507.1 L603.1,514.7 L603.5,522.1 L603.7,529.6 L603.8,537 L603.7,544.4 L603.5,551.9 L603.2,559.4 L602.7,566.9 L602.1,574.5 L601.4,582.3 L600.5,590.1 L599.4,598.2 L598.1,606.3 L596.6,614.7 L594.8,623.2 L592.8,632 L590.5,641.1 L587.9,650.3 L584.9,659.9 L581.4,669.6 L577.5,679.7 L573.1,689.9 L568.1,700.4 L562.4,710.9 L556,721.4 L548.8,731.9 L540.7,742 L531.8,751.7 L521.9,760.7 L511.2,768.6 L499.7,775.3 L487.6,780.5 L474.9,783.9 L462,785.4 L449,784.9 L436.2,782.4 L423.8,778.1 L412,772.2 L400.9,764.9 L390.7,756.4 L381.3,747.1 L372.9,737.2 L365.2,726.9 L358.4,716.4 L352.4,705.8 L347,695.3 L342.2,684.9 L338,674.7 L334.3,664.7 L331.1,654.9 L328.3,645.3 L325.8,636 L323.6,626.9 L321.7,618 L320.1,609.3 L318.6,600.8 L317.4,592.5 L316.4,584.3 L315.6,576.2 L315,568.3 L314.5,560.4 L314.1,552.5 L313.9,544.8Z" fill="#ff7200" stroke="#fff" stroke-opacity="0.22" stroke-width="0.6" stroke-dasharray="1.2 1.8"/>
<path d="M317.5,537 L317.6,529.4 L317.8,521.8 L318.2,514.2 L318.7,506.6 L319.5,498.8 L320.4,491 L321.4,483 L322.7,475 L324.2,466.8 L326,458.5 L328,450 L330.2,441.3 L332.8,432.4 L335.8,423.4 L339.2,414.2 L343,404.8 L347.2,395.3 L352,385.7 L357.4,376 L363.5,366.4 L370.2,356.9 L377.7,347.7 L386,338.9 L395,330.7 L404.8,323.3 L415.2,317 L426.4,311.9 L438,308.3 L449.9,306.3 L462,305.9 L474,307.3 L485.8,310.3 L497.2,314.8 L508,320.7 L518.1,327.7 L527.4,335.6 L536,344.2 L543.8,353.3 L550.8,362.7 L557.1,372.3 L562.7,381.9 L567.7,391.5 L572.2,401 L576.1,410.3 L579.6,419.4 L582.6,428.4 L585.3,437.1 L587.7,445.7 L589.8,454 L591.6,462.2 L593.1,470.2 L594.5,478 L595.7,485.7 L596.6,493.3 L597.4,500.7 L598.1,508.1 L598.6,515.4 L598.9,522.6 L599.1,529.8 L599.2,537 L599.2,544.2 L599,551.4 L598.7,558.6 L598.2,566 L597.7,573.3 L596.9,580.8 L596,588.5 L595,596.2 L593.7,604.1 L592.3,612.2 L590.6,620.5 L588.7,629 L586.5,637.8 L583.9,646.8 L581.1,656.1 L577.8,665.6 L574,675.3 L569.7,685.3 L564.9,695.4 L559.4,705.7 L553.2,716 L546.2,726.2 L538.4,736.1 L529.8,745.6 L520.2,754.4 L509.9,762.2 L498.7,768.8 L486.9,773.9 L474.6,777.3 L462,778.9 L449.3,778.5 L436.9,776.2 L424.8,772 L413.3,766.3 L402.5,759.2 L392.5,751 L383.3,741.9 L375.1,732.3 L367.6,722.2 L361,712 L355,701.7 L349.8,691.4 L345.2,681.3 L341.1,671.3 L337.5,661.5 L334.3,652 L331.5,642.7 L329.1,633.6 L327,624.7 L325.1,616 L323.5,607.6 L322.2,599.3 L321,591.1 L320,583.1 L319.2,575.3 L318.6,567.5 L318.1,559.8 L317.7,552.2 L317.5,544.6Z" fill="#ff7a00" stroke="#fff" stroke-opacity="0.22" stroke-width="0.6" stroke-dasharray="1.2 1.8"/>
<path d="M321.1,537 L321.2,529.6 L321.4,522.2 L321.8,514.8 L322.4,507.3 L323.1,499.8 L324,492.1 L325,484.4 L326.3,476.6 L327.8,468.6 L329.5,460.5 L331.5,452.2 L333.7,443.8 L336.3,435.2 L339.2,426.4 L342.5,417.5 L346.2,408.4 L350.4,399.2 L355.1,389.9 L360.4,380.6 L366.4,371.3 L372.9,362.2 L380.2,353.4 L388.3,345 L397.1,337.2 L406.6,330.1 L416.8,324.1 L427.5,319.4 L438.8,316 L450.3,314.1 L462,313.8 L473.6,315.2 L485,318.1 L496,322.5 L506.4,328.2 L516.1,335 L525.2,342.6 L533.4,350.9 L541,359.7 L547.7,368.7 L553.8,378 L559.3,387.2 L564.1,396.5 L568.4,405.6 L572.2,414.6 L575.6,423.4 L578.5,432.1 L581.2,440.5 L583.5,448.8 L585.5,456.8 L587.2,464.7 L588.8,472.4 L590.1,480 L591.2,487.4 L592.2,494.7 L592.9,501.9 L593.6,509 L594.1,516.1 L594.4,523.1 L594.6,530.1 L594.7,537 L594.6,544 L594.5,550.9 L594.2,557.9 L593.7,565 L593.2,572.2 L592.5,579.4 L591.6,586.8 L590.6,594.3 L589.4,601.9 L588,609.8 L586.4,617.8 L584.6,626.1 L582.5,634.5 L580,643.3 L577.2,652.2 L574.1,661.5 L570.5,670.9 L566.4,680.6 L561.7,690.5 L556.4,700.5 L550.4,710.5 L543.7,720.5 L536.2,730.2 L527.8,739.5 L518.6,748.1 L508.5,755.8 L497.7,762.3 L486.2,767.4 L474.3,770.8 L462,772.4 L449.7,772.1 L437.5,769.9 L425.7,765.9 L414.5,760.4 L404,753.5 L394.3,745.5 L385.3,736.7 L377.3,727.3 L370,717.6 L363.5,707.6 L357.7,697.5 L352.6,687.5 L348.1,677.6 L344.1,667.9 L340.6,658.4 L337.5,649.1 L334.8,640 L332.4,631.1 L330.4,622.5 L328.6,614 L327,605.8 L325.7,597.7 L324.5,589.8 L323.6,582 L322.8,574.3 L322.2,566.7 L321.7,559.2 L321.4,551.8 L321.2,544.4Z" fill="#ff8200" stroke="#fff" stroke-opacity="0.22" stroke-width="0.6" stroke-dasharray="1.2 1.8"/>
<path d="M324.8,537 L324.8,529.8 L325.1,522.6 L325.5,515.4 L326,508.1 L326.7,500.7 L327.6,493.3 L328.6,485.8 L329.9,478.2 L331.3,470.4 L333,462.5 L335,454.5 L337.2,446.3 L339.7,438 L342.6,429.5 L345.8,420.8 L349.5,412 L353.6,403.2 L358.2,394.2 L363.4,385.2 L369.2,376.3 L375.7,367.6 L382.8,359.1 L390.6,351 L399.2,343.6 L408.4,336.9 L418.3,331.3 L428.7,326.8 L439.6,323.6 L450.7,321.9 L462,321.7 L473.2,323.1 L484.2,326 L494.7,330.3 L504.8,335.8 L514.2,342.3 L522.9,349.7 L530.9,357.6 L538.1,366.1 L544.7,374.8 L550.5,383.6 L555.8,392.6 L560.5,401.5 L564.6,410.2 L568.3,418.9 L571.6,427.4 L574.5,435.7 L577,443.9 L579.2,451.8 L581.2,459.6 L582.9,467.2 L584.4,474.6 L585.7,481.9 L586.8,489.1 L587.7,496.2 L588.4,503.1 L589.1,510 L589.5,516.8 L589.9,523.6 L590.1,530.3 L590.1,537 L590.1,543.7 L589.9,550.4 L589.6,557.2 L589.2,564 L588.7,571 L588,578 L587.2,585.1 L586.3,592.3 L585.1,599.7 L583.8,607.3 L582.3,615.1 L580.5,623.1 L578.4,631.3 L576.1,639.7 L573.4,648.4 L570.4,657.4 L566.9,666.6 L563,676 L558.5,685.6 L553.4,695.3 L547.6,705.1 L541.1,714.8 L533.9,724.3 L525.8,733.3 L516.9,741.8 L507.1,749.3 L496.7,755.8 L485.5,760.8 L473.9,764.2 L462,765.8 L450,765.6 L438.2,763.6 L426.7,759.8 L415.8,754.4 L405.5,747.8 L396,740 L387.3,731.5 L379.5,722.4 L372.4,712.9 L366.1,703.2 L360.4,693.4 L355.5,683.7 L351,674 L347.2,664.5 L343.7,655.3 L340.7,646.2 L338.1,637.3 L335.8,628.7 L333.8,620.3 L332,612 L330.5,604 L329.2,596.1 L328.1,588.4 L327.2,580.8 L326.4,573.3 L325.8,566 L325.3,558.6 L325,551.4 L324.8,544.2Z" fill="#ff8a00" stroke="#fff" stroke-opacity="0.22" stroke-width="0.6" stroke-dasharray="1.2 1.8"/>
<path d="M328.4,537 L328.5,530 L328.7,523 L329.1,515.9 L329.6,508.9 L330.3,501.7 L331.2,494.5 L332.2,487.2 L333.5,479.8 L334.9,472.2 L336.6,464.6 L338.5,456.8 L340.7,448.8 L343.2,440.8 L346,432.5 L349.2,424.2 L352.8,415.7 L356.8,407.1 L361.4,398.5 L366.4,389.8 L372.1,381.3 L378.4,372.9 L385.3,364.8 L393,357.1 L401.3,350.1 L410.2,343.8 L419.8,338.4 L429.9,334.2 L440.4,331.2 L451.1,329.7 L462,329.7 L472.8,331.1 L483.3,333.9 L493.5,338.1 L503.2,343.4 L512.2,349.6 L520.6,356.7 L528.3,364.4 L535.3,372.5 L541.6,380.8 L547.3,389.3 L552.3,397.9 L556.9,406.4 L560.9,414.9 L564.5,423.2 L567.6,431.4 L570.4,439.4 L572.9,447.2 L575,454.9 L576.9,462.4 L578.6,469.7 L580,476.9 L581.3,483.9 L582.3,490.8 L583.2,497.6 L584,504.3 L584.5,511 L585,517.5 L585.3,524 L585.5,530.5 L585.6,537 L585.6,543.5 L585.4,550 L585.1,556.5 L584.7,563.1 L584.2,569.8 L583.6,576.5 L582.8,583.4 L581.9,590.4 L580.8,597.5 L579.5,604.9 L578.1,612.4 L576.4,620.1 L574.4,628 L572.2,636.2 L569.6,644.6 L566.7,653.3 L563.4,662.2 L559.6,671.3 L555.3,680.7 L550.4,690.1 L544.9,699.6 L538.6,709.1 L531.6,718.3 L523.8,727.2 L515.2,735.5 L505.8,742.9 L495.6,749.3 L484.8,754.2 L473.6,757.7 L462,759.3 L450.4,759.2 L438.8,757.3 L427.7,753.7 L417,748.5 L407.1,742.1 L397.8,734.6 L389.3,726.3 L381.7,717.4 L374.8,708.2 L368.6,698.8 L363.1,689.2 L358.3,679.8 L354,670.4 L350.2,661.2 L346.9,652.1 L343.9,643.3 L341.4,634.7 L339.1,626.3 L337.2,618.1 L335.5,610.1 L334,602.2 L332.7,594.6 L331.6,587 L330.7,579.6 L330,572.4 L329.4,565.2 L329,558.1 L328.6,551 L328.5,544Z" fill="#ff9200" stroke="#fff" stroke-opacity="0.22" stroke-width="0.6" stroke-dasharray="1.2 1.8"/>
<path d="M332.4,537 L332.5,530.2 L332.7,523.4 L333.1,516.6 L333.6,509.7 L334.3,502.8 L335.1,495.8 L336.1,488.7 L337.3,481.5 L338.7,474.2 L340.4,466.8 L342.2,459.2 L344.4,451.5 L346.8,443.7 L349.5,435.7 L352.7,427.7 L356.2,419.4 L360.1,411.2 L364.5,402.8 L369.5,394.5 L375,386.2 L381.1,378.2 L387.8,370.4 L395.2,363 L403.3,356.2 L411.9,350.2 L421.2,345 L431,341 L441.1,338.2 L451.5,336.8 L462,336.8 L472.4,338.2 L482.6,341 L492.4,345 L501.7,350.2 L510.4,356.3 L518.5,363.1 L525.9,370.5 L532.7,378.3 L538.8,386.4 L544.2,394.6 L549.1,402.8 L553.5,411.1 L557.4,419.2 L560.8,427.3 L563.8,435.2 L566.5,442.9 L568.9,450.4 L571,457.8 L572.8,465 L574.4,472.1 L575.8,479 L577,485.8 L578,492.5 L578.9,499 L579.6,505.5 L580.2,511.9 L580.6,518.2 L580.9,524.5 L581.1,530.8 L581.2,537 L581.2,543.2 L581,549.5 L580.8,555.8 L580.4,562.2 L579.9,568.6 L579.3,575.1 L578.5,581.7 L577.6,588.5 L576.5,595.4 L575.3,602.4 L573.9,609.7 L572.2,617.1 L570.3,624.7 L568.2,632.6 L565.7,640.7 L562.9,649 L559.7,657.6 L556,666.4 L551.8,675.3 L547.1,684.4 L541.7,693.5 L535.7,702.5 L528.9,711.4 L521.4,719.9 L513.1,727.8 L504.1,735 L494.3,741 L483.9,745.8 L473.1,749.1 L462,750.8 L450.8,750.7 L439.7,748.9 L429,745.5 L418.7,740.7 L409.1,734.6 L400.1,727.4 L391.9,719.6 L384.5,711.1 L377.8,702.3 L371.8,693.2 L366.5,684.1 L361.7,675 L357.5,666 L353.8,657.2 L350.6,648.4 L347.7,639.9 L345.2,631.6 L343,623.5 L341,615.6 L339.3,607.8 L337.9,600.2 L336.6,592.8 L335.6,585.5 L334.7,578.4 L334,571.3 L333.4,564.3 L332.9,557.4 L332.6,550.6 L332.4,543.8Z" fill="#ff9b00" stroke="#fff" stroke-opacity="0.22" stroke-width="0.6" stroke-dasharray="1.2 1.8"/>
<path d="M336.4,537 L336.5,530.4 L336.7,523.8 L337,517.2 L337.6,510.5 L338.2,503.8 L339,497 L340,490.2 L341.2,483.2 L342.6,476.1 L344.2,469 L346,461.7 L348.1,454.2 L350.4,446.7 L353.1,439 L356.1,431.1 L359.5,423.2 L363.4,415.2 L367.7,407.2 L372.5,399.1 L377.8,391.2 L383.8,383.4 L390.3,375.9 L397.5,368.9 L405.3,362.4 L413.7,356.6 L422.6,351.7 L432,347.9 L441.8,345.3 L451.9,343.9 L462,344 L472,345.4 L481.9,348.1 L491.3,352 L500.3,357 L508.7,362.9 L516.4,369.5 L523.6,376.6 L530.1,384.1 L535.9,391.9 L541.2,399.8 L545.9,407.8 L550.1,415.7 L553.8,423.6 L557.2,431.3 L560.1,438.9 L562.7,446.3 L565,453.6 L567,460.7 L568.7,467.7 L570.3,474.5 L571.6,481.1 L572.8,487.7 L573.8,494.1 L574.6,500.4 L575.3,506.6 L575.8,512.8 L576.3,518.9 L576.6,525 L576.8,531 L576.8,537 L576.8,543 L576.6,549 L576.4,555.1 L576,561.2 L575.5,567.4 L574.9,573.7 L574.2,580.1 L573.3,586.6 L572.3,593.2 L571.1,600 L569.7,606.9 L568.1,614.1 L566.3,621.4 L564.2,629 L561.8,636.8 L559,644.8 L555.9,653 L552.4,661.4 L548.3,669.9 L543.8,678.6 L538.6,687.3 L532.8,696 L526.3,704.5 L519.1,712.6 L511.1,720.2 L502.4,727 L493,732.8 L483.1,737.4 L472.7,740.6 L462,742.2 L451.2,742.2 L440.6,740.6 L430.3,737.4 L420.4,732.8 L411.1,727.1 L402.4,720.3 L394.5,712.8 L387.3,704.8 L380.8,696.4 L375,687.7 L369.8,679 L365.1,670.3 L361.1,661.7 L357.4,653.1 L354.2,644.8 L351.4,636.6 L349,628.5 L346.8,620.7 L344.9,613.1 L343.2,605.6 L341.8,598.2 L340.6,591.1 L339.5,584 L338.7,577.1 L337.9,570.2 L337.4,563.5 L336.9,556.8 L336.6,550.2 L336.4,543.6Z" fill="#ffa500" stroke="#fff" stroke-opacity="0.22" stroke-width="0.6" stroke-dasharray="1.2 1.8"/>
<path d="M340.4,537 L340.4,530.6 L340.7,524.2 L341,517.8 L341.5,511.4 L342.2,504.9 L343,498.3 L343.9,491.7 L345.1,484.9 L346.4,478.1 L348,471.2 L349.7,464.1 L351.8,456.9 L354.1,449.6 L356.7,442.2 L359.6,434.6 L362.9,427 L366.7,419.3 L370.8,411.5 L375.5,403.8 L380.7,396.2 L386.4,388.7 L392.8,381.5 L399.7,374.7 L407.3,368.5 L415.4,363 L424,358.3 L433.1,354.7 L442.6,352.3 L452.3,351 L462,351.1 L471.7,352.5 L481.1,355.2 L490.2,359 L498.8,363.8 L506.9,369.5 L514.4,375.8 L521.2,382.7 L527.5,390 L533.1,397.5 L538.2,405.1 L542.7,412.7 L546.7,420.4 L550.3,427.9 L553.5,435.4 L556.3,442.7 L558.8,449.8 L561,456.8 L563,463.6 L564.7,470.3 L566.1,476.9 L567.4,483.3 L568.5,489.6 L569.5,495.7 L570.3,501.8 L571,507.8 L571.5,513.7 L571.9,519.6 L572.2,525.4 L572.4,531.2 L572.4,537 L572.4,542.8 L572.2,548.6 L572,554.4 L571.6,560.3 L571.2,566.3 L570.6,572.3 L569.9,578.4 L569,584.7 L568,591 L566.9,597.5 L565.5,604.2 L564,611.1 L562.2,618.1 L560.2,625.4 L557.8,632.8 L555.2,640.5 L552.2,648.3 L548.7,656.4 L544.9,664.6 L540.4,672.9 L535.5,681.2 L529.9,689.5 L523.6,697.6 L516.7,705.3 L509,712.5 L500.7,719 L491.7,724.6 L482.2,729 L472.2,732.1 L462,733.7 L451.7,733.7 L441.5,732.2 L431.6,729.2 L422,725 L413.1,719.5 L404.8,713.2 L397.1,706.1 L390.1,698.5 L383.8,690.5 L378.1,682.2 L373.1,673.9 L368.6,665.6 L364.6,657.3 L361,649.1 L357.9,641.1 L355.2,633.2 L352.7,625.5 L350.6,617.9 L348.7,610.5 L347.1,603.3 L345.7,596.2 L344.5,589.3 L343.5,582.5 L342.6,575.8 L341.9,569.2 L341.3,562.6 L340.9,556.2 L340.6,549.8 L340.4,543.4Z" fill="#ffaf00" stroke="#fff" stroke-opacity="0.22" stroke-width="0.6" stroke-dasharray="1.2 1.8"/>
<path d="M344.4,537 L344.4,530.8 L344.6,524.7 L345,518.5 L345.5,512.2 L346.1,505.9 L346.9,499.6 L347.8,493.2 L348.9,486.7 L350.3,480.1 L351.8,473.4 L353.5,466.5 L355.5,459.6 L357.7,452.5 L360.2,445.4 L363.1,438.1 L366.3,430.7 L369.9,423.3 L374,415.9 L378.5,408.5 L383.6,401.1 L389.1,394 L395.3,387.1 L402,380.6 L409.3,374.7 L417.1,369.4 L425.4,365 L434.2,361.6 L443.3,359.3 L452.6,358.1 L462,358.3 L471.3,359.7 L480.4,362.3 L489.1,366 L497.4,370.6 L505.1,376.1 L512.3,382.2 L518.9,388.8 L524.9,395.8 L530.3,403 L535.1,410.3 L539.5,417.7 L543.4,425 L546.8,432.3 L549.9,439.4 L552.6,446.4 L555,453.3 L557.1,460 L558.9,466.6 L560.6,473 L562,479.3 L563.2,485.4 L564.3,491.5 L565.2,497.4 L566,503.2 L566.6,509 L567.1,514.7 L567.5,520.3 L567.8,525.9 L568,531.4 L568,537 L568,542.6 L567.9,548.1 L567.6,553.7 L567.3,559.4 L566.8,565.1 L566.3,570.9 L565.6,576.8 L564.7,582.7 L563.8,588.9 L562.6,595.1 L561.3,601.5 L559.8,608.1 L558.1,614.8 L556.1,621.8 L553.9,628.9 L551.3,636.2 L548.4,643.7 L545.1,651.4 L541.4,659.2 L537.1,667.1 L532.4,675.1 L527,682.9 L521,690.6 L514.3,698 L507,704.9 L499,711.1 L490.4,716.4 L481.3,720.6 L471.8,723.5 L462,725.1 L452.1,725.2 L442.4,723.8 L432.8,721.1 L423.7,717.1 L415.1,712 L407.1,706 L399.7,699.3 L392.9,692.1 L386.8,684.5 L381.3,676.7 L376.4,668.8 L372,660.8 L368.1,652.9 L364.7,645.1 L361.6,637.4 L358.9,629.8 L356.5,622.4 L354.4,615.1 L352.6,608 L351,601.1 L349.6,594.3 L348.4,587.6 L347.4,581 L346.6,574.5 L345.9,568.1 L345.3,561.8 L344.9,555.5 L344.6,549.3 L344.4,543.2Z" fill="#ffb900" stroke="#fff" stroke-opacity="0.22" stroke-width="0.6" stroke-dasharray="1.2 1.8"/>
<path d="M348.4,537 L348.4,531 L348.6,525.1 L349,519.1 L349.4,513.1 L350.1,507 L350.8,500.9 L351.7,494.7 L352.8,488.4 L354.1,482 L355.6,475.5 L357.2,469 L359.2,462.3 L361.3,455.5 L363.8,448.6 L366.6,441.6 L369.7,434.5 L373.2,427.4 L377.2,420.2 L381.5,413.1 L386.4,406.1 L391.8,399.2 L397.7,392.7 L404.2,386.5 L411.3,380.8 L418.8,375.8 L426.9,371.7 L435.3,368.4 L444.1,366.3 L453,365.3 L462,365.5 L470.9,366.8 L479.6,369.4 L488,372.9 L495.9,377.4 L503.3,382.7 L510.2,388.6 L516.5,395 L522.3,401.7 L527.4,408.6 L532.1,415.6 L536.3,422.6 L540,429.7 L543.3,436.6 L546.2,443.5 L548.8,450.2 L551.1,456.8 L553.1,463.2 L554.9,469.5 L556.5,475.6 L557.8,481.7 L559,487.6 L560.1,493.3 L560.9,499 L561.7,504.6 L562.3,510.1 L562.8,515.6 L563.2,521 L563.4,526.3 L563.6,531.7 L563.6,537 L563.6,542.3 L563.5,547.7 L563.2,553 L562.9,558.4 L562.5,563.9 L561.9,569.5 L561.3,575.1 L560.5,580.8 L559.5,586.7 L558.4,592.7 L557.2,598.8 L555.7,605.1 L554,611.5 L552.1,618.2 L550,625 L547.5,631.9 L544.7,639.1 L541.5,646.4 L537.9,653.9 L533.8,661.4 L529.2,668.9 L524.1,676.4 L518.3,683.7 L511.9,690.7 L504.9,697.3 L497.3,703.1 L489.1,708.2 L480.4,712.2 L471.3,715 L462,716.5 L452.6,716.7 L443.2,715.5 L434.1,713 L425.4,709.3 L417.1,704.5 L409.4,698.9 L402.3,692.6 L395.7,685.8 L389.8,678.6 L384.5,671.2 L379.7,663.7 L375.5,656.1 L371.7,648.6 L368.3,641.1 L365.3,633.7 L362.6,626.5 L360.3,619.3 L358.3,612.4 L356.5,605.5 L354.9,598.8 L353.5,592.3 L352.4,585.8 L351.4,579.5 L350.5,573.2 L349.8,567.1 L349.3,561 L348.9,554.9 L348.6,548.9 L348.4,543Z" fill="#ffc300" stroke="#fff" stroke-opacity="0.22" stroke-width="0.6" stroke-dasharray="1.2 1.8"/>
<path d="M352.3,537 L352.4,531.3 L352.6,525.5 L352.9,519.7 L353.4,513.9 L354,508.1 L354.7,502.1 L355.6,496.2 L356.7,490.1 L357.9,484 L359.4,477.7 L361,471.4 L362.9,465 L365,458.4 L367.4,451.8 L370.1,445.1 L373.1,438.3 L376.5,431.4 L380.3,424.6 L384.6,417.8 L389.3,411 L394.5,404.5 L400.2,398.2 L406.5,392.3 L413.3,387 L420.5,382.2 L428.3,378.3 L436.4,375.3 L444.8,373.3 L453.4,372.4 L462,372.6 L470.5,374 L478.9,376.5 L486.9,379.9 L494.5,384.3 L501.6,389.3 L508.1,395 L514.2,401.1 L519.7,407.5 L524.6,414.1 L529.1,420.8 L533.1,427.6 L536.6,434.3 L539.8,441 L542.6,447.5 L545.1,453.9 L547.3,460.2 L549.2,466.4 L550.9,472.4 L552.4,478.3 L553.7,484.1 L554.8,489.7 L555.8,495.2 L556.7,500.7 L557.4,506 L558,511.3 L558.4,516.5 L558.8,521.7 L559,526.8 L559.2,531.9 L559.3,537 L559.2,542.1 L559.1,547.2 L558.9,552.3 L558.5,557.5 L558.1,562.8 L557.6,568.1 L556.9,573.4 L556.2,578.9 L555.3,584.5 L554.2,590.2 L553,596.1 L551.6,602.1 L550,608.2 L548.1,614.5 L546,621 L543.6,627.7 L540.9,634.5 L537.9,641.4 L534.4,648.5 L530.5,655.6 L526.1,662.8 L521.2,669.9 L515.7,676.8 L509.6,683.4 L502.9,689.6 L495.6,695.2 L487.8,700 L479.5,703.8 L470.9,706.5 L462,708 L453,708.2 L444.1,707.1 L435.4,704.8 L427.1,701.4 L419.1,697 L411.7,691.8 L404.9,685.9 L398.6,679.5 L392.8,672.7 L387.7,665.7 L383,658.6 L378.9,651.4 L375.2,644.2 L371.9,637.1 L369,630 L366.4,623.1 L364.1,616.3 L362.1,609.6 L360.3,603 L358.8,596.6 L357.4,590.3 L356.3,584.1 L355.3,578 L354.5,571.9 L353.8,566 L353.3,560.1 L352.8,554.3 L352.6,548.5 L352.4,542.7Z" fill="#ffcd00" stroke="#fff" stroke-opacity="0.22" stroke-width="0.6" stroke-dasharray="1.2 1.8"/>
<path d="M356.3,537 L356.4,531.5 L356.6,525.9 L356.9,520.4 L357.4,514.8 L357.9,509.1 L358.7,503.4 L359.5,497.7 L360.6,491.8 L361.8,485.9 L363.2,479.9 L364.7,473.8 L366.6,467.7 L368.6,461.4 L370.9,455 L373.6,448.6 L376.5,442 L379.8,435.5 L383.5,428.9 L387.6,422.4 L392.1,416 L397.2,409.8 L402.7,403.8 L408.7,398.2 L415.3,393.1 L422.3,388.7 L429.7,385 L437.5,382.1 L445.5,380.3 L453.7,379.5 L462,379.8 L470.2,381.1 L478.1,383.6 L485.8,386.9 L493,391.1 L499.8,395.9 L506.1,401.4 L511.8,407.2 L517.1,413.3 L521.8,419.7 L526,426.1 L529.8,432.5 L533.2,439 L536.2,445.3 L538.9,451.6 L541.3,457.7 L543.4,463.7 L545.2,469.6 L546.9,475.3 L548.3,481 L549.6,486.5 L550.6,491.8 L551.6,497.1 L552.4,502.3 L553.1,507.4 L553.6,512.5 L554.1,517.4 L554.4,522.4 L554.7,527.3 L554.8,532.1 L554.9,537 L554.8,541.9 L554.7,546.7 L554.5,551.6 L554.2,556.6 L553.8,561.6 L553.3,566.6 L552.6,571.8 L551.9,577 L551,582.3 L550,587.8 L548.8,593.4 L547.4,599.1 L545.9,604.9 L544.1,610.9 L542.1,617.1 L539.8,623.4 L537.2,629.9 L534.3,636.5 L530.9,643.1 L527.2,649.9 L523,656.7 L518.3,663.4 L513,669.9 L507.2,676.1 L500.8,682 L493.9,687.2 L486.5,691.7 L478.6,695.4 L470.4,698 L462,699.4 L453.5,699.7 L445,698.8 L436.7,696.7 L428.7,693.6 L421.1,689.5 L414,684.6 L407.4,679.1 L401.4,673.2 L395.9,666.8 L390.9,660.2 L386.4,653.5 L382.3,646.7 L378.7,639.8 L375.5,633.1 L372.7,626.3 L370.1,619.7 L367.9,613.2 L365.9,606.8 L364.2,600.5 L362.7,594.3 L361.4,588.3 L360.2,582.3 L359.3,576.4 L358.4,570.6 L357.8,564.9 L357.2,559.3 L356.8,553.7 L356.5,548.1 L356.4,542.5Z" fill="#ffd600" stroke="#fff" stroke-opacity="0.22" stroke-width="0.6" stroke-dasharray="1.2 1.8"/>
<path d="M360.3,537 L360.4,531.7 L360.6,526.3 L360.9,521 L361.3,515.6 L361.9,510.2 L362.6,504.7 L363.4,499.2 L364.4,493.6 L365.6,487.9 L367,482.1 L368.5,476.3 L370.3,470.3 L372.3,464.3 L374.5,458.2 L377,452 L379.9,445.8 L383.1,439.5 L386.6,433.3 L390.6,427.1 L395,421 L399.9,415 L405.2,409.4 L411,404.1 L417.3,399.3 L424,395.1 L431.1,391.6 L438.6,389 L446.3,387.3 L454.1,386.6 L462,386.9 L469.8,388.3 L477.4,390.6 L484.7,393.9 L491.6,397.9 L498,402.6 L504,407.7 L509.5,413.3 L514.5,419.2 L519,425.2 L523,431.3 L526.6,437.5 L529.9,443.6 L532.7,449.7 L535.3,455.6 L537.5,461.5 L539.5,467.2 L541.3,472.8 L542.9,478.3 L544.2,483.6 L545.4,488.8 L546.4,494 L547.3,499 L548.1,503.9 L548.7,508.8 L549.3,513.6 L549.7,518.4 L550,523.1 L550.3,527.7 L550.4,532.4 L550.5,537 L550.4,541.6 L550.3,546.3 L550.1,551 L549.8,555.7 L549.4,560.4 L548.9,565.2 L548.3,570.1 L547.6,575.1 L546.7,580.2 L545.8,585.4 L544.6,590.6 L543.3,596.1 L541.8,601.6 L540.1,607.3 L538.2,613.2 L536,619.1 L533.5,625.2 L530.6,631.5 L527.5,637.8 L523.9,644.2 L519.8,650.5 L515.4,656.8 L510.4,663 L504.8,668.8 L498.8,674.3 L492.2,679.3 L485.2,683.5 L477.8,687 L470,689.4 L462,690.9 L453.9,691.2 L445.9,690.4 L438,688.6 L430.4,685.7 L423.2,682 L416.3,677.5 L410,672.4 L404.2,666.8 L398.9,660.9 L394,654.7 L389.7,648.4 L385.8,641.9 L382.3,635.5 L379.1,629 L376.3,622.7 L373.9,616.4 L371.7,610.1 L369.7,604 L368,598 L366.6,592.1 L365.3,586.3 L364.2,580.6 L363.2,574.9 L362.4,569.4 L361.7,563.9 L361.2,558.4 L360.8,553 L360.5,547.7 L360.4,542.3Z" fill="#ffdf00" stroke="#fff" stroke-opacity="0.22" stroke-width="0.6" stroke-dasharray="1.2 1.8"/>
<path d="M364.3,537 L364.4,531.9 L364.6,526.8 L364.9,521.6 L365.3,516.4 L365.8,511.2 L366.5,506 L367.3,500.7 L368.3,495.3 L369.4,489.8 L370.8,484.3 L372.3,478.7 L374,473 L375.9,467.3 L378.1,461.4 L380.5,455.5 L383.3,449.6 L386.4,443.6 L389.8,437.6 L393.6,431.7 L397.9,425.9 L402.5,420.3 L407.7,414.9 L413.2,410 L419.3,405.4 L425.7,401.5 L432.5,398.3 L439.6,395.8 L447,394.3 L454.5,393.7 L462,394.1 L469.4,395.5 L476.6,397.7 L483.6,400.9 L490.1,404.7 L496.2,409.2 L501.9,414.1 L507.1,419.5 L511.9,425 L516.1,430.8 L520,436.6 L523.4,442.4 L526.5,448.3 L529.2,454 L531.6,459.7 L533.8,465.2 L535.7,470.7 L537.4,476 L538.8,481.2 L540.1,486.3 L541.3,491.2 L542.2,496.1 L543.1,500.9 L543.8,505.6 L544.4,510.2 L544.9,514.8 L545.4,519.3 L545.7,523.7 L545.9,528.2 L546,532.6 L546.1,537 L546.1,541.4 L545.9,545.8 L545.7,550.3 L545.4,554.7 L545.1,559.3 L544.6,563.8 L544,568.5 L543.3,573.2 L542.5,578 L541.5,582.9 L540.4,587.9 L539.2,593.1 L537.7,598.3 L536.1,603.7 L534.2,609.2 L532.1,614.9 L529.7,620.6 L527,626.5 L524,632.4 L520.6,638.4 L516.7,644.4 L512.4,650.3 L507.7,656 L502.5,661.5 L496.7,666.7 L490.5,671.3 L483.9,675.3 L476.9,678.5 L469.5,680.9 L462,682.3 L454.4,682.7 L446.8,682.1 L439.3,680.4 L432.1,677.9 L425.2,674.5 L418.7,670.4 L412.6,665.7 L407,660.5 L401.9,655 L397.2,649.2 L393,643.2 L389.2,637.2 L385.8,631.1 L382.7,625 L380,619 L377.6,613 L375.5,607.1 L373.6,601.2 L371.9,595.5 L370.4,589.9 L369.2,584.3 L368.1,578.8 L367.1,573.4 L366.4,568.1 L365.7,562.8 L365.2,557.6 L364.8,552.4 L364.5,547.2 L364.4,542.1Z" fill="#ffe800" stroke="#fff" stroke-opacity="0.22" stroke-width="0.6" stroke-dasharray="1.2 1.8"/>
<path d="M368.3,537 L368.4,532.1 L368.5,527.2 L368.8,522.2 L369.3,517.3 L369.8,512.3 L370.4,507.3 L371.2,502.2 L372.2,497 L373.3,491.8 L374.6,486.5 L376,481.2 L377.7,475.7 L379.5,470.2 L381.6,464.6 L384,459 L386.7,453.3 L389.7,447.7 L393,442 L396.7,436.4 L400.7,430.9 L405.2,425.6 L410.1,420.5 L415.5,415.8 L421.2,411.6 L427.4,407.9 L433.9,404.9 L440.7,402.7 L447.7,401.3 L454.9,400.8 L462,401.2 L469,402.6 L475.9,404.8 L482.5,407.8 L488.7,411.5 L494.5,415.8 L499.8,420.5 L504.8,425.6 L509.3,430.9 L513.3,436.3 L516.9,441.8 L520.2,447.4 L523.1,452.9 L525.7,458.4 L528,463.7 L530,469 L531.8,474.1 L533.4,479.2 L534.8,484.1 L536,488.9 L537.1,493.6 L538,498.3 L538.9,502.8 L539.5,507.2 L540.1,511.6 L540.6,515.9 L541,520.2 L541.3,524.4 L541.5,528.6 L541.6,532.8 L541.7,537 L541.7,541.2 L541.6,545.4 L541.4,549.6 L541.1,553.8 L540.7,558.1 L540.2,562.4 L539.7,566.8 L539,571.3 L538.2,575.8 L537.3,580.5 L536.2,585.2 L535,590.1 L533.7,595 L532.1,600.1 L530.3,605.3 L528.3,610.6 L526,616 L523.4,621.5 L520.5,627.1 L517.2,632.7 L513.6,638.3 L509.5,643.8 L505,649.1 L500.1,654.3 L494.7,659 L488.9,663.3 L482.6,667.1 L476,670.1 L469.1,672.4 L462,673.8 L454.8,674.2 L447.6,673.7 L440.6,672.3 L433.7,670 L427.2,667 L421,663.2 L415.2,658.9 L409.8,654.2 L404.9,649.1 L400.4,643.7 L396.3,638.1 L392.6,632.5 L389.3,626.7 L386.4,621 L383.7,615.3 L381.3,609.6 L379.3,604 L377.4,598.5 L375.8,593 L374.3,587.6 L373.1,582.3 L372,577.1 L371.1,571.9 L370.3,566.8 L369.7,561.7 L369.2,556.7 L368.8,551.8 L368.5,546.8 L368.3,541.9Z" fill="#fff100" stroke="#fff" stroke-opacity="0.22" stroke-width="0.6" stroke-dasharray="1.2 1.8"/>
<path d="M372.5,537 L372.6,532.3 L372.7,527.6 L373,522.9 L373.4,518.2 L373.9,513.4 L374.5,508.6 L375.2,503.7 L376.1,498.7 L377.1,493.8 L378.4,488.7 L379.8,483.6 L381.4,478.4 L383.2,473.2 L385.2,467.8 L387.5,462.5 L390.1,457.2 L393,451.8 L396.2,446.4 L399.7,441 L403.6,435.8 L407.9,430.8 L412.6,426 L417.7,421.5 L423.2,417.7 L429.1,414.4 L435.4,411.7 L441.8,409.6 L448.5,408.4 L455.2,408 L462,408.4 L468.7,409.8 L475.1,412 L481.3,414.9 L487.2,418.4 L492.7,422.5 L497.7,427 L502.4,431.8 L506.6,436.9 L510.4,442 L513.8,447.2 L516.9,452.4 L519.7,457.6 L522.1,462.8 L524.2,467.9 L526.2,472.8 L527.8,477.7 L529.3,482.5 L530.7,487.1 L531.8,491.7 L532.8,496.1 L533.6,500.5 L534.4,504.8 L535,509 L535.5,513.1 L536,517.2 L536.3,521.2 L536.6,525.2 L536.8,529.1 L536.9,533.1 L537,537 L536.9,540.9 L536.8,544.9 L536.7,548.8 L536.4,552.8 L536.1,556.8 L535.6,560.9 L535.1,565.1 L534.5,569.3 L533.8,573.6 L533,578 L532,582.5 L530.9,587.1 L529.6,591.8 L528.1,596.5 L526.4,601.4 L524.5,606.4 L522.4,611.6 L520,616.8 L517.3,622.1 L514.2,627.4 L510.8,632.8 L507,638 L502.7,643 L498,647.9 L492.9,652.5 L487.4,656.7 L481.5,660.4 L475.3,663.2 L468.7,665.3 L462,666.6 L455.2,667 L448.4,666.6 L441.7,665.3 L435.2,663.3 L428.9,660.5 L423,657.2 L417.4,653.2 L412.3,648.7 L407.6,643.8 L403.2,638.8 L399.3,633.5 L395.8,628.1 L392.6,622.6 L389.8,617.2 L387.3,611.7 L385,606.3 L383,601 L381.2,595.7 L379.6,590.5 L378.3,585.3 L377.1,580.3 L376.1,575.3 L375.2,570.3 L374.5,565.4 L373.9,560.6 L373.4,555.8 L373,551.1 L372.7,546.4 L372.5,541.7Z" fill="#fff705" stroke="#fff" stroke-opacity="0.22" stroke-width="0.6" stroke-dasharray="1.2 1.8"/>
<path d="M376.7,537 L376.7,532.5 L376.9,528.1 L377.2,523.6 L377.5,519 L378,514.5 L378.5,509.9 L379.2,505.2 L379.9,500.5 L381,495.7 L382.2,490.9 L383.6,486.1 L385.1,481.1 L386.8,476.1 L388.8,471.1 L391,466 L393.5,461 L396.3,455.9 L399.4,450.8 L402.7,445.7 L406.5,440.8 L410.6,436 L415,431.4 L419.8,427.2 L425.2,423.8 L430.9,420.8 L436.8,418.4 L442.9,416.6 L449.2,415.5 L455.6,415.1 L462,415.5 L468.3,416.9 L474.4,419.2 L480.2,422 L485.7,425.4 L490.9,429.2 L495.6,433.5 L500,438.1 L503.9,442.9 L507.5,447.7 L510.7,452.6 L513.6,457.5 L516.3,462.3 L518.5,467.2 L520.5,472 L522.3,476.7 L523.9,481.3 L525.3,485.8 L526.5,490.1 L527.5,494.4 L528.4,498.6 L529.2,502.8 L529.9,506.8 L530.4,510.7 L530.9,514.6 L531.3,518.4 L531.6,522.2 L531.9,525.9 L532.1,529.6 L532.2,533.3 L532.3,537 L532.2,540.7 L532.1,544.4 L531.9,548.1 L531.7,551.8 L531.4,555.6 L531,559.4 L530.5,563.3 L530,567.3 L529.3,571.3 L528.6,575.4 L527.7,579.7 L526.7,584 L525.6,588.5 L524.2,593 L522.6,597.6 L520.8,602.3 L518.8,607.1 L516.5,612.1 L514,617.1 L511.2,622.2 L508,627.3 L504.4,632.2 L500.4,637 L496,641.6 L491.2,646 L486,650 L480.5,653.7 L474.5,656.2 L468.3,658.1 L462,659.4 L455.6,659.8 L449.1,659.5 L442.8,658.3 L436.6,656.5 L430.6,654.1 L424.9,651.1 L419.6,647.5 L414.7,643.2 L410.2,638.6 L406.1,633.8 L402.3,628.9 L398.9,623.8 L396,618.6 L393.3,613.3 L390.9,608.1 L388.7,603 L386.7,597.9 L385,592.9 L383.4,588 L382.2,583.1 L381.1,578.2 L380.2,573.4 L379.3,568.7 L378.6,564.1 L378,559.5 L377.6,554.9 L377.2,550.4 L376.9,545.9 L376.7,541.5Z" fill="#fff90f" stroke="#fff" stroke-opacity="0.22" stroke-width="0.6" stroke-dasharray="1.2 1.8"/>
<path d="M380.8,537 L380.9,532.8 L381.1,528.5 L381.3,524.2 L381.6,519.9 L382,515.6 L382.5,511.2 L383.1,506.7 L383.8,502.2 L384.9,497.7 L386.1,493.2 L387.4,488.5 L388.8,483.9 L390.5,479.1 L392.3,474.3 L394.5,469.5 L397,464.8 L399.6,460 L402.6,455.2 L405.7,450.4 L409.3,445.8 L413.2,441.3 L417.4,436.9 L422,432.8 L427.2,429.9 L432.6,427.3 L438.2,425.2 L444,423.6 L450,422.6 L456,422.3 L462,422.6 L467.9,424.1 L473.6,426.3 L479.1,429.1 L484.3,432.3 L489.1,435.9 L493.5,440 L497.6,444.4 L501.2,448.9 L504.6,453.4 L507.6,458 L510.4,462.5 L512.9,467 L514.9,471.6 L516.8,476.2 L518.4,480.6 L519.9,484.9 L521.2,489.1 L522.4,493.2 L523.3,497.2 L524.1,501.2 L524.8,505 L525.4,508.8 L525.9,512.5 L526.3,516.1 L526.7,519.7 L527,523.2 L527.2,526.7 L527.4,530.1 L527.5,533.6 L527.5,537 L527.5,540.4 L527.4,543.9 L527.2,547.3 L527,550.8 L526.7,554.3 L526.4,557.9 L526,561.6 L525.5,565.3 L524.9,569.1 L524.2,572.9 L523.5,576.9 L522.6,581 L521.6,585.2 L520.2,589.4 L518.7,593.7 L517.1,598.2 L515.2,602.7 L513.1,607.3 L510.8,612.1 L508.2,616.9 L505.2,621.8 L501.8,626.4 L498,630.9 L493.9,635.2 L489.4,639.4 L484.6,643.4 L479.4,647 L473.8,649.3 L468,651 L462,652.2 L455.9,652.7 L449.9,652.3 L443.9,651.4 L438,649.8 L432.4,647.6 L426.9,645 L421.8,641.8 L417.2,637.7 L412.9,633.4 L408.9,628.9 L405.3,624.3 L402.1,619.5 L399.3,614.5 L396.7,609.5 L394.4,604.6 L392.4,599.7 L390.5,594.9 L388.8,590.2 L387.3,585.5 L386.1,580.8 L385.1,576.2 L384.2,571.6 L383.5,567.2 L382.8,562.7 L382.2,558.4 L381.7,554.1 L381.4,549.8 L381.1,545.5 L380.8,541.3Z" fill="#fffa19" stroke="#fff" stroke-opacity="0.22" stroke-width="0.6" stroke-dasharray="1.2 1.8"/>
<path d="M385,537 L385.1,533 L385.3,528.9 L385.5,524.9 L385.8,520.8 L386.1,516.7 L386.6,512.5 L387.1,508.2 L387.7,503.9 L388.7,499.7 L389.9,495.4 L391.2,491 L392.6,486.6 L394.1,482 L395.9,477.5 L398,473 L400.4,468.6 L403,464.1 L405.7,459.6 L408.8,455 L412.2,450.7 L415.9,446.5 L419.9,442.4 L424.2,438.5 L429.2,435.9 L434.3,433.7 L439.7,431.9 L445.1,430.6 L450.7,429.8 L456.4,429.5 L462,429.7 L467.5,431.3 L472.9,433.5 L478,436.2 L482.8,439.2 L487.3,442.5 L491.4,446.5 L495.1,450.6 L498.6,454.9 L501.7,459.1 L504.5,463.3 L507.1,467.6 L509.4,471.7 L511.3,476.1 L513,480.3 L514.5,484.5 L515.9,488.5 L517.1,492.4 L518.2,496.2 L519.1,500 L519.7,503.7 L520.3,507.3 L520.9,510.8 L521.3,514.2 L521.7,517.6 L522,520.9 L522.3,524.2 L522.5,527.4 L522.6,530.6 L522.8,533.8 L522.8,537 L522.8,540.2 L522.7,543.4 L522.5,546.6 L522.3,549.8 L522.1,553.1 L521.8,556.4 L521.4,559.8 L521,563.3 L520.5,566.8 L519.9,570.4 L519.2,574.2 L518.5,578 L517.5,582 L516.3,585.9 L514.9,589.9 L513.3,594 L511.6,598.3 L509.7,602.6 L507.5,607.1 L505.1,611.7 L502.4,616.3 L499.2,620.6 L495.7,624.8 L491.9,628.9 L487.7,632.9 L483.2,636.7 L478.4,640.3 L473.1,642.3 L467.6,643.9 L462,645 L456.3,645.5 L450.6,645.2 L445,644.4 L439.5,643 L434.1,641.2 L428.9,638.9 L424,636.1 L419.6,632.2 L415.6,628.2 L411.8,624 L408.3,619.7 L405.2,615.1 L402.6,610.4 L400.2,605.6 L398,601 L396,596.4 L394.2,591.9 L392.6,587.4 L391.1,583.1 L390,578.6 L389.1,574.1 L388.3,569.8 L387.6,565.6 L386.9,561.4 L386.4,557.3 L385.9,553.2 L385.6,549.1 L385.2,545.1 L385,541Z" fill="#fffc23" stroke="#fff" stroke-opacity="0.22" stroke-width="0.6" stroke-dasharray="1.2 1.8"/>
<path d="M389.2,537 L389.3,533.2 L389.4,529.4 L389.6,525.5 L389.9,521.7 L390.2,517.8 L390.6,513.8 L391.1,509.8 L391.6,505.7 L392.6,501.6 L393.7,497.6 L395,493.5 L396.3,489.3 L397.8,485 L399.4,480.7 L401.5,476.5 L403.8,472.4 L406.3,468.2 L408.9,464 L411.8,459.7 L415.1,455.7 L418.6,451.7 L422.3,447.8 L426.4,444.2 L431.1,442 L436.1,440.2 L441.1,438.7 L446.3,437.6 L451.5,436.9 L456.7,436.7 L462,436.9 L467.2,438.4 L472.1,440.7 L476.8,443.3 L481.3,446.1 L485.5,449.2 L489.3,453 L492.7,456.9 L495.9,460.9 L498.8,464.8 L501.4,468.7 L503.8,472.6 L506,476.4 L507.7,480.5 L509.3,484.5 L510.7,488.3 L511.9,492.1 L513,495.7 L514,499.2 L514.8,502.7 L515.4,506.2 L515.9,509.5 L516.4,512.8 L516.7,516 L517.1,519.1 L517.4,522.2 L517.6,525.2 L517.8,528.2 L517.9,531.1 L518,534.1 L518.1,537 L518.1,539.9 L518,542.9 L517.8,545.8 L517.7,548.8 L517.4,551.9 L517.2,554.9 L516.8,558.1 L516.5,561.3 L516,564.5 L515.5,567.9 L515,571.4 L514.3,575 L513.5,578.7 L512.3,582.3 L511,586 L509.6,589.9 L508,593.8 L506.3,597.9 L504.3,602.1 L502.1,606.5 L499.6,610.8 L496.6,614.8 L493.4,618.7 L489.8,622.6 L485.9,626.4 L481.8,630 L477.3,633.5 L472.3,635.4 L467.2,636.8 L462,637.8 L456.7,638.3 L451.4,638.1 L446.1,637.4 L440.9,636.3 L435.8,634.7 L430.9,632.9 L426.2,630.3 L422.1,626.7 L418.2,622.9 L414.6,619.1 L411.3,615.1 L408.4,610.8 L405.9,606.3 L403.7,601.8 L401.6,597.4 L399.7,593.1 L398,588.8 L396.4,584.7 L394.9,580.6 L394,576.3 L393.1,572.1 L392.4,568 L391.7,564 L391.1,560 L390.6,556.1 L390.1,552.3 L389.8,548.4 L389.4,544.6 L389.2,540.8Z" fill="#fffe2d" stroke="#fff" stroke-opacity="0.22" stroke-width="0.6" stroke-dasharray="1.2 1.8"/>
<path d="M393.4,537 L393.5,533.4 L393.6,529.8 L393.8,526.2 L394,522.6 L394.3,518.9 L394.6,515.1 L395,511.3 L395.5,507.4 L396.5,503.6 L397.6,499.8 L398.7,495.9 L400,492 L401.4,487.9 L403,483.9 L405.1,480.1 L407.3,476.2 L409.6,472.3 L412.1,468.4 L414.8,464.4 L417.9,460.7 L421.2,457 L424.7,453.3 L428.5,449.8 L433.1,448.1 L437.8,446.7 L442.5,445.5 L447.4,444.6 L452.2,444 L457.1,443.8 L462,444 L466.8,445.6 L471.4,447.8 L475.7,450.3 L479.8,453 L483.7,455.9 L487.2,459.5 L490.3,463.2 L493.2,466.9 L495.9,470.5 L498.3,474.1 L500.5,477.6 L502.6,481.1 L504.2,484.9 L505.5,488.6 L506.8,492.2 L507.9,495.6 L509,499 L509.9,502.2 L510.6,505.5 L511,508.7 L511.5,511.8 L511.9,514.8 L512.2,517.7 L512.5,520.6 L512.7,523.4 L512.9,526.2 L513.1,528.9 L513.2,531.6 L513.3,534.3 L513.4,537 L513.3,539.7 L513.2,542.4 L513.1,545.1 L513,547.8 L512.8,550.6 L512.5,553.4 L512.3,556.3 L512,559.2 L511.6,562.3 L511.2,565.4 L510.7,568.6 L510.2,572 L509.5,575.4 L508.4,578.8 L507.2,582.2 L505.9,585.7 L504.4,589.4 L502.8,593.2 L501,597.1 L499.1,601.2 L496.8,605.4 L494,609 L491,612.6 L487.7,616.2 L484.2,619.8 L480.4,623.4 L476.2,626.8 L471.6,628.4 L466.9,629.7 L462,630.6 L457.1,631.1 L452.1,631 L447.2,630.4 L442.3,629.5 L437.5,628.3 L432.8,626.8 L428.4,624.6 L424.5,621.2 L420.9,617.7 L417.5,614.1 L414.3,610.5 L411.5,606.5 L409.2,602.2 L407.1,597.9 L405.2,593.8 L403.4,589.8 L401.7,585.8 L400.2,581.9 L398.7,578.1 L397.9,574 L397.1,570.1 L396.4,566.2 L395.8,562.4 L395.3,558.7 L394.8,555 L394.3,551.4 L393.9,547.8 L393.6,544.2 L393.3,540.6Z" fill="#ffff39" stroke="#fff" stroke-opacity="0.22" stroke-width="0.6" stroke-dasharray="1.2 1.8"/>
<path d="M397.6,537 L397.7,533.6 L397.8,530.3 L398,526.9 L398.2,523.4 L398.4,520 L398.7,516.4 L399,512.8 L399.3,509.1 L400.3,505.6 L401.4,502 L402.5,498.4 L403.8,494.7 L405.1,490.9 L406.5,487.1 L408.6,483.6 L410.7,480 L412.9,476.4 L415.3,472.8 L417.9,469 L420.8,465.6 L423.9,462.2 L427.2,458.8 L430.7,455.5 L435.1,454.2 L439.5,453.1 L444,452.2 L448.5,451.5 L453,451.1 L457.5,451 L462,451.1 L466.4,452.7 L470.6,455 L474.6,457.4 L478.4,460 L481.9,462.6 L485.1,466 L487.9,469.5 L490.6,472.9 L493,476.2 L495.2,479.5 L497.3,482.7 L499.2,485.8 L500.6,489.4 L501.8,492.8 L502.9,496.1 L503.9,499.2 L504.9,502.3 L505.7,505.2 L506.3,508.2 L506.7,511.2 L507,514 L507.4,516.8 L507.6,519.5 L507.9,522.1 L508.1,524.7 L508.2,527.2 L508.4,529.7 L508.5,532.1 L508.6,534.6 L508.7,537 L508.6,539.4 L508.5,541.9 L508.4,544.4 L508.3,546.8 L508.1,549.4 L507.9,551.9 L507.7,554.5 L507.5,557.2 L507.2,560 L506.8,562.9 L506.4,565.9 L506,569 L505.4,572.2 L504.4,575.2 L503.3,578.3 L502.1,581.6 L500.8,585 L499.4,588.5 L497.8,592.1 L496.1,596 L494,599.9 L491.5,603.2 L488.7,606.5 L485.7,609.9 L482.4,613.3 L478.9,616.7 L475.2,620.1 L470.9,621.5 L466.5,622.5 L462,623.4 L457.4,623.9 L452.9,623.9 L448.3,623.4 L443.8,622.8 L439.3,621.8 L434.8,620.7 L430.6,618.9 L427,615.7 L423.5,612.5 L420.3,609.2 L417.3,605.9 L414.7,602.1 L412.5,598.1 L410.6,594.1 L408.8,590.2 L407.1,586.5 L405.5,582.8 L404,579.2 L402.6,575.6 L401.8,571.8 L401.1,568 L400.5,564.4 L399.9,560.8 L399.4,557.3 L399,553.9 L398.5,550.5 L398.1,547.1 L397.8,543.7 L397.5,540.4Z" fill="#ffff46" stroke="#fff" stroke-opacity="0.22" stroke-width="0.6" stroke-dasharray="1.2 1.8"/>
<path d="M401.8,537 L401.8,533.8 L402,530.7 L402.1,527.5 L402.3,524.3 L402.5,521 L402.7,517.7 L402.9,514.3 L403.2,510.8 L404.2,507.5 L405.2,504.2 L406.3,500.8 L407.5,497.4 L408.7,493.9 L410.1,490.3 L412.1,487.1 L414.1,483.8 L416.3,480.5 L418.5,477.1 L420.9,473.7 L423.7,470.6 L426.5,467.4 L429.6,464.2 L432.9,461.2 L437.1,460.3 L441.3,459.6 L445.4,459 L449.6,458.5 L453.7,458.3 L457.9,458.2 L462,458.2 L466,459.9 L469.9,462.2 L473.5,464.5 L476.9,466.9 L480.1,469.3 L483,472.5 L485.5,475.7 L487.9,478.9 L490.1,481.9 L492.1,484.9 L494,487.7 L495.8,490.5 L497,493.8 L498.1,497 L499.1,499.9 L500,502.8 L500.8,505.6 L501.6,508.2 L502.1,511 L502.4,513.7 L502.6,516.3 L502.9,518.8 L503.1,521.2 L503.2,523.6 L503.4,525.9 L503.6,528.2 L503.7,530.4 L503.8,532.6 L503.9,534.8 L503.9,537 L503.9,539.2 L503.8,541.4 L503.7,543.6 L503.6,545.8 L503.5,548.1 L503.3,550.4 L503.1,552.8 L502.9,555.2 L502.7,557.8 L502.5,560.4 L502.2,563.1 L501.9,566 L501.4,568.9 L500.5,571.7 L499.5,574.5 L498.4,577.4 L497.2,580.5 L496,583.7 L494.6,587.1 L493,590.7 L491.2,594.4 L488.9,597.4 L486.3,600.4 L483.6,603.6 L480.7,606.8 L477.5,610.1 L474.1,613.4 L470.1,614.5 L466.1,615.4 L462,616.2 L457.8,616.8 L453.6,616.7 L449.4,616.5 L445.2,616 L441,615.4 L436.8,614.6 L432.8,613.2 L429.4,610.2 L426.2,607.2 L423.2,604.3 L420.2,601.3 L417.8,597.8 L415.9,594 L414,590.3 L412.3,586.7 L410.7,583.2 L409.2,579.7 L407.8,576.4 L406.4,573.1 L405.7,569.5 L405.1,566 L404.6,562.6 L404.1,559.2 L403.6,556 L403.1,552.8 L402.7,549.6 L402.3,546.4 L402,543.3 L401.7,540.2Z" fill="#ffff53" stroke="#fff" stroke-opacity="0.22" stroke-width="0.6" stroke-dasharray="1.2 1.8"/>
<path d="M405.9,537 L406,534.1 L406.1,531.1 L406.3,528.2 L406.4,525.2 L406.6,522.1 L406.7,519 L406.9,515.9 L407.1,512.6 L408,509.5 L409.1,506.4 L410.1,503.3 L411.2,500.1 L412.4,496.8 L413.7,493.5 L415.6,490.6 L417.5,487.6 L419.6,484.6 L421.7,481.5 L423.9,478.4 L426.5,475.5 L429.2,472.6 L432,469.7 L435.1,466.8 L439.1,466.4 L443,466 L446.9,465.7 L450.7,465.5 L454.5,465.4 L458.2,465.3 L462,465.4 L465.7,467.1 L469.1,469.3 L472.4,471.6 L475.4,473.8 L478.3,476 L480.9,479 L483.1,482 L485.2,484.9 L487.2,487.6 L489,490.2 L490.7,492.8 L492.4,495.2 L493.4,498.2 L494.3,501.1 L495.2,503.8 L496,506.4 L496.7,508.9 L497.4,511.3 L497.8,513.7 L498,516.2 L498.2,518.6 L498.4,520.8 L498.5,523 L498.6,525.1 L498.8,527.2 L498.9,529.2 L499,531.1 L499.1,533.1 L499.1,535.1 L499.2,537 L499.2,538.9 L499.1,540.9 L499,542.9 L498.9,544.8 L498.8,546.9 L498.7,548.9 L498.6,551 L498.4,553.2 L498.3,555.5 L498.1,557.9 L497.9,560.3 L497.7,563 L497.4,565.7 L496.5,568.1 L495.6,570.6 L494.7,573.3 L493.6,576.1 L492.5,579 L491.3,582.2 L490,585.5 L488.4,588.9 L486.3,591.6 L484,594.3 L481.6,597.2 L478.9,600.2 L476.1,603.4 L473,606.7 L469.4,607.5 L465.7,608.3 L462,609 L458.2,609.6 L454.4,609.6 L450.5,609.5 L446.6,609.3 L442.7,608.9 L438.7,608.6 L435,607.5 L431.8,604.7 L428.9,602 L426,599.3 L423.2,596.7 L421,593.5 L419.2,589.9 L417.5,586.4 L415.9,583.1 L414.4,579.8 L413,576.7 L411.6,573.6 L410.2,570.6 L409.6,567.2 L409.1,563.9 L408.6,560.8 L408.2,557.7 L407.7,554.6 L407.3,551.7 L406.9,548.7 L406.5,545.8 L406.2,542.9 L405.8,539.9Z" fill="#ffff60" stroke="#fff" stroke-opacity="0.22" stroke-width="0.6" stroke-dasharray="1.2 1.8"/>
<path d="M410.1,537 L410.2,534.3 L410.3,531.6 L410.4,528.8 L410.5,526.1 L410.6,523.2 L410.8,520.3 L410.9,517.4 L411,514.3 L411.9,511.5 L412.9,508.6 L413.9,505.8 L414.9,502.8 L416,499.8 L417.2,496.7 L419.1,494.1 L421,491.4 L422.9,488.7 L424.9,485.9 L427,483 L429.4,480.5 L431.9,477.9 L434.5,475.2 L437.2,472.5 L441,472.5 L444.7,472.5 L448.3,472.5 L451.8,472.5 L455.2,472.5 L458.6,472.5 L462,472.5 L465.3,474.2 L468.4,476.5 L471.2,478.7 L474,480.7 L476.6,482.7 L478.7,485.5 L480.7,488.3 L482.5,490.9 L484.3,493.3 L485.9,495.6 L487.5,497.8 L488.9,499.9 L489.8,502.7 L490.6,505.3 L491.3,507.7 L492,510 L492.7,512.2 L493.3,514.3 L493.6,516.5 L493.7,518.7 L493.8,520.8 L493.9,522.8 L493.9,524.7 L494,526.6 L494.1,528.4 L494.2,530.2 L494.3,531.9 L494.3,533.6 L494.4,535.3 L494.5,537 L494.4,538.7 L494.4,540.4 L494.3,542.1 L494.2,543.8 L494.2,545.6 L494.1,547.4 L494,549.3 L493.9,551.2 L493.9,553.2 L493.8,555.3 L493.7,557.6 L493.6,559.9 L493.4,562.4 L492.6,564.5 L491.8,566.8 L490.9,569.1 L490.1,571.6 L489.1,574.3 L488.1,577.2 L487,580.3 L485.7,583.4 L483.7,585.8 L481.7,588.3 L479.5,590.9 L477.2,593.7 L474.7,596.7 L472,600 L468.7,600.6 L465.4,601.2 L462,601.8 L458.6,602.4 L455.1,602.5 L451.6,602.5 L448.1,602.5 L444.4,602.5 L440.7,602.5 L437.1,601.7 L434.3,599.2 L431.5,596.8 L428.9,594.4 L426.2,592.1 L424.1,589.1 L422.5,585.8 L421,582.6 L419.5,579.5 L418.1,576.5 L416.7,573.7 L415.4,570.9 L414.1,568.1 L413.6,565 L413.1,561.9 L412.7,558.9 L412.3,556.1 L411.9,553.3 L411.5,550.5 L411.1,547.8 L410.7,545.1 L410.3,542.4 L410,539.7Z" fill="#ffff6c" stroke="#fff" stroke-opacity="0.22" stroke-width="0.6" stroke-dasharray="1.2 1.8"/>
<path d="M414.4,537 L414.5,534.6 L414.6,532.1 L414.7,529.6 L414.8,527.2 L414.9,524.6 L415,522 L415.1,519.3 L415.2,516.6 L416,514 L416.9,511.5 L417.8,508.9 L418.8,506.2 L419.7,503.5 L420.8,500.7 L422.5,498.4 L424.2,496 L425.9,493.6 L427.7,491 L429.6,488.4 L431.7,486.2 L434,483.8 L436.3,481.3 L438.8,478.9 L442.2,478.9 L445.5,478.9 L448.8,478.9 L451.9,478.9 L455,478.9 L458.1,478.9 L461.1,478.9 L464.1,480.5 L466.8,482.6 L469.4,484.5 L471.9,486.3 L474.2,488.1 L476.2,490.6 L477.9,493.1 L479.6,495.5 L481.1,497.7 L482.6,499.7 L484,501.7 L485.3,503.6 L486.1,506.1 L486.8,508.4 L487.5,510.6 L488.1,512.7 L488.7,514.7 L489.3,516.5 L489.5,518.5 L489.6,520.5 L489.7,522.4 L489.8,524.2 L489.8,526 L489.9,527.6 L490,529.3 L490.1,530.8 L490.1,532.4 L490.2,533.9 L490.3,535.5 L490.3,537 L490.3,538.5 L490.2,540.1 L490.2,541.6 L490.1,543.2 L490,544.8 L490,546.4 L489.9,548.1 L489.8,549.8 L489.8,551.6 L489.7,553.5 L489.6,555.5 L489.5,557.7 L489.3,559.9 L488.6,561.8 L487.9,563.8 L487.2,565.9 L486.3,568.2 L485.5,570.6 L484.6,573.1 L483.6,575.9 L482.4,578.8 L480.6,580.9 L478.8,583.1 L476.9,585.5 L474.8,588 L472.5,590.8 L470.1,593.7 L467.1,594.2 L464.1,594.8 L461.1,595.3 L458,595.9 L454.9,596 L451.8,596 L448.6,596 L445.3,596 L441.9,596 L438.7,595.3 L436.2,593 L433.7,590.8 L431.3,588.7 L428.9,586.6 L427,583.9 L425.6,580.9 L424.2,578 L422.8,575.3 L421.6,572.6 L420.3,570 L419.1,567.5 L418,565 L417.5,562.2 L417.1,559.4 L416.7,556.8 L416.4,554.2 L416,551.7 L415.7,549.2 L415.3,546.7 L415,544.3 L414.6,541.9 L414.3,539.5Z" fill="#ffff7a" stroke="#fff" stroke-opacity="0.22" stroke-width="0.6" stroke-dasharray="1.2 1.8"/>
<path d="M418.7,537 L418.8,534.8 L418.9,532.7 L418.9,530.5 L419,528.2 L419.1,526 L419.2,523.7 L419.3,521.3 L419.4,518.8 L420.1,516.6 L420.9,514.3 L421.7,512 L422.6,509.7 L423.4,507.2 L424.4,504.7 L425.9,502.7 L427.4,500.5 L428.9,498.4 L430.5,496.2 L432.2,493.8 L434.1,491.8 L436.1,489.7 L438.2,487.5 L440.4,485.4 L443.4,485.4 L446.4,485.4 L449.2,485.4 L452,485.4 L454.8,485.4 L457.5,485.4 L460.2,485.4 L462.8,486.8 L465.3,488.6 L467.6,490.3 L469.8,492 L471.8,493.5 L473.6,495.8 L475.2,498 L476.6,500.1 L478,502 L479.3,503.9 L480.6,505.6 L481.8,507.3 L482.4,509.5 L483.1,511.6 L483.6,513.6 L484.2,515.4 L484.7,517.1 L485.2,518.8 L485.5,520.6 L485.5,522.4 L485.6,524.1 L485.7,525.7 L485.8,527.2 L485.8,528.7 L485.9,530.1 L486,531.5 L486,532.9 L486.1,534.3 L486.1,535.6 L486.2,537 L486.1,538.4 L486.1,539.7 L486,541.1 L486,542.5 L485.9,543.9 L485.9,545.3 L485.8,546.8 L485.7,548.4 L485.7,550 L485.6,551.7 L485.5,553.5 L485.5,555.4 L485.3,557.3 L484.7,559 L484,560.8 L483.4,562.7 L482.6,564.7 L481.9,566.8 L481.1,569.1 L480.2,571.6 L479.1,574.1 L477.6,576 L475.9,578 L474.2,580.1 L472.4,582.4 L470.4,584.8 L468.2,587.4 L465.5,587.9 L462.9,588.3 L460.2,588.8 L457.5,589.3 L454.7,589.4 L451.9,589.4 L449.1,589.4 L446.2,589.4 L443.2,589.4 L440.3,588.8 L438,586.8 L435.8,584.8 L433.7,582.9 L431.6,581.1 L429.9,578.7 L428.6,576 L427.4,573.5 L426.2,571 L425.1,568.6 L424,566.3 L422.9,564.1 L421.9,561.9 L421.5,559.4 L421.1,556.9 L420.8,554.6 L420.4,552.3 L420.1,550 L419.8,547.8 L419.5,545.7 L419.2,543.5 L418.9,541.3 L418.6,539.2Z" fill="#ffff88" stroke="#fff" stroke-opacity="0.22" stroke-width="0.6" stroke-dasharray="1.2 1.8"/>
<path d="M423,537 L423.1,535.1 L423.1,533.2 L423.2,531.3 L423.3,529.3 L423.4,527.4 L423.4,525.3 L423.5,523.3 L423.6,521.1 L424.2,519.1 L424.9,517.2 L425.6,515.1 L426.4,513.1 L427.1,510.9 L428,508.8 L429.3,507 L430.6,505.1 L431.9,503.2 L433.3,501.3 L434.8,499.2 L436.5,497.5 L438.2,495.6 L440,493.7 L442,491.8 L444.6,491.8 L447.2,491.8 L449.7,491.8 L452.1,491.8 L454.6,491.8 L456.9,491.8 L459.3,491.8 L461.6,493.1 L463.7,494.7 L465.8,496.2 L467.7,497.6 L469.5,499 L471,500.9 L472.4,502.9 L473.7,504.7 L474.9,506.4 L476,508 L477.1,509.6 L478.2,511 L478.8,513 L479.3,514.8 L479.8,516.5 L480.3,518.1 L480.8,519.6 L481.2,521.1 L481.4,522.6 L481.5,524.2 L481.5,525.7 L481.6,527.1 L481.7,528.4 L481.7,529.7 L481.8,531 L481.8,532.2 L481.9,533.4 L481.9,534.6 L482,535.8 L482,537 L482,538.2 L482,539.4 L481.9,540.6 L481.9,541.8 L481.8,543 L481.8,544.3 L481.7,545.6 L481.7,547 L481.6,548.4 L481.5,549.8 L481.5,551.4 L481.4,553.1 L481.3,554.8 L480.7,556.3 L480.2,557.9 L479.6,559.5 L478.9,561.3 L478.3,563.1 L477.6,565.1 L476.8,567.3 L475.9,569.5 L474.5,571.1 L473.1,572.9 L471.6,574.7 L469.9,576.7 L468.2,578.8 L466.3,581.1 L464,581.5 L461.7,581.9 L459.3,582.4 L456.9,582.8 L454.5,582.9 L452,582.9 L449.6,582.9 L447,582.9 L444.4,582.9 L441.9,582.3 L439.9,580.6 L438,578.8 L436.1,577.2 L434.3,575.6 L432.8,573.5 L431.7,571.1 L430.6,568.9 L429.5,566.8 L428.6,564.7 L427.6,562.7 L426.7,560.7 L425.7,558.8 L425.4,556.6 L425.1,554.4 L424.8,552.4 L424.5,550.4 L424.2,548.4 L424,546.5 L423.7,544.6 L423.4,542.7 L423.1,540.8 L422.9,538.9Z" fill="#ffff96" stroke="#fff" stroke-opacity="0.22" stroke-width="0.6" stroke-dasharray="1.2 1.8"/>
<path d="M427.3,537 L427.3,535.4 L427.4,533.7 L427.5,532.1 L427.5,530.4 L427.6,528.7 L427.7,527 L427.7,525.2 L427.8,523.4 L428.3,521.7 L428.9,520 L429.5,518.3 L430.2,516.5 L430.8,514.7 L431.5,512.8 L432.6,511.2 L433.8,509.7 L434.9,508 L436.1,506.4 L437.4,504.6 L438.8,503.1 L440.3,501.5 L441.9,499.9 L443.5,498.3 L445.8,498.3 L448,498.3 L450.2,498.3 L452.3,498.3 L454.3,498.3 L456.4,498.3 L458.4,498.3 L460.4,499.3 L462.2,500.7 L463.9,502 L465.6,503.2 L467.1,504.4 L468.4,506.1 L469.6,507.8 L470.7,509.3 L471.8,510.8 L472.7,512.2 L473.7,513.5 L474.6,514.8 L475.1,516.4 L475.5,518 L476,519.4 L476.4,520.8 L476.8,522.1 L477.2,523.4 L477.3,524.7 L477.4,526 L477.5,527.3 L477.5,528.5 L477.6,529.6 L477.6,530.8 L477.7,531.8 L477.7,532.9 L477.8,533.9 L477.8,535 L477.9,536 L477.9,537 L477.9,538 L477.8,539 L477.8,540.1 L477.7,541.1 L477.7,542.2 L477.6,543.3 L477.6,544.4 L477.6,545.5 L477.5,546.7 L477.5,548 L477.4,549.3 L477.3,550.8 L477.2,552.2 L476.8,553.5 L476.3,554.9 L475.8,556.3 L475.2,557.8 L474.7,559.4 L474.1,561.1 L473.4,563 L472.6,564.9 L471.4,566.3 L470.2,567.8 L468.9,569.3 L467.5,571 L466,572.8 L464.4,574.8 L462.4,575.2 L460.4,575.5 L458.4,575.9 L456.3,576.2 L454.3,576.3 L452.2,576.3 L450,576.3 L447.9,576.3 L445.6,576.3 L443.5,575.8 L441.8,574.3 L440.1,572.9 L438.5,571.4 L436.9,570.1 L435.7,568.3 L434.7,566.3 L433.8,564.3 L432.9,562.5 L432.1,560.7 L431.2,559 L430.4,557.3 L429.6,555.7 L429.3,553.8 L429.1,551.9 L428.8,550.2 L428.6,548.4 L428.3,546.8 L428.1,545.1 L427.9,543.5 L427.6,541.9 L427.4,540.3 L427.2,538.6Z" fill="#ffffa4" stroke="#fff" stroke-opacity="0.22" stroke-width="0.6" stroke-dasharray="1.2 1.8"/>
<path d="M431.6,537 L431.6,535.6 L431.7,534.3 L431.7,532.9 L431.8,531.5 L431.8,530.1 L431.9,528.7 L431.9,527.2 L432,525.6 L432.4,524.2 L432.9,522.8 L433.5,521.4 L434,519.9 L434.5,518.4 L435.1,516.8 L436,515.5 L437,514.2 L438,512.9 L439,511.5 L440,510 L441.2,508.8 L442.4,507.4 L443.7,506.1 L445.1,504.7 L447,504.7 L448.9,504.7 L450.6,504.7 L452.4,504.7 L454.1,504.7 L455.8,504.7 L457.5,504.7 L459.1,505.6 L460.7,506.8 L462.1,507.8 L463.5,508.9 L464.8,509.8 L465.9,511.2 L466.9,512.6 L467.8,513.9 L468.6,515.1 L469.4,516.3 L470.2,517.4 L471,518.5 L471.4,519.8 L471.8,521.1 L472.2,522.3 L472.5,523.5 L472.8,524.6 L473.1,525.6 L473.3,526.7 L473.3,527.9 L473.4,528.9 L473.4,529.9 L473.5,530.9 L473.5,531.8 L473.6,532.7 L473.6,533.6 L473.6,534.4 L473.7,535.3 L473.7,536.2 L473.7,537 L473.7,537.8 L473.7,538.7 L473.6,539.6 L473.6,540.4 L473.6,541.3 L473.5,542.2 L473.5,543.1 L473.5,544.1 L473.4,545.1 L473.4,546.2 L473.3,547.3 L473.3,548.5 L473.2,549.7 L472.8,550.8 L472.4,551.9 L472,553.1 L471.5,554.3 L471.1,555.7 L470.5,557.1 L470,558.6 L469.3,560.2 L468.4,561.4 L467.3,562.6 L466.3,563.9 L465.1,565.3 L463.8,566.9 L462.5,568.5 L460.8,568.8 L459.2,569.1 L457.5,569.4 L455.8,569.7 L454.1,569.8 L452.3,569.8 L450.5,569.8 L448.7,569.8 L446.9,569.8 L445.1,569.4 L443.6,568.1 L442.3,566.9 L440.9,565.7 L439.6,564.5 L438.6,563.1 L437.8,561.4 L437,559.8 L436.2,558.3 L435.5,556.8 L434.9,555.3 L434.2,553.9 L433.5,552.6 L433.3,551 L433.1,549.5 L432.9,548 L432.6,546.5 L432.4,545.1 L432.3,543.8 L432.1,542.4 L431.9,541.1 L431.7,539.7 L431.5,538.4Z" fill="#ffffb2" stroke="#fff" stroke-opacity="0.22" stroke-width="0.6" stroke-dasharray="1.2 1.8"/>
<path d="M435.8,537 L435.9,535.9 L435.9,534.8 L436,533.7 L436,532.6 L436.1,531.5 L436.1,530.3 L436.1,529.1 L436.2,527.9 L436.6,526.8 L437,525.7 L437.4,524.5 L437.8,523.3 L438.2,522.1 L438.7,520.9 L439.4,519.8 L440.2,518.8 L441,517.7 L441.8,516.6 L442.6,515.4 L443.6,514.4 L444.6,513.4 L445.6,512.3 L446.7,511.2 L448.2,511.2 L449.7,511.2 L451.1,511.2 L452.5,511.2 L453.9,511.2 L455.2,511.2 L456.6,511.2 L457.9,511.9 L459.1,512.8 L460.3,513.7 L461.4,514.5 L462.4,515.3 L463.3,516.4 L464.1,517.5 L464.8,518.5 L465.5,519.5 L466.2,520.4 L466.8,521.3 L467.4,522.2 L467.7,523.3 L468,524.3 L468.3,525.3 L468.6,526.2 L468.9,527.1 L469.1,527.9 L469.2,528.8 L469.3,529.7 L469.3,530.5 L469.3,531.3 L469.4,532.1 L469.4,532.8 L469.4,533.6 L469.5,534.3 L469.5,535 L469.5,535.6 L469.6,536.3 L469.6,537 L469.6,537.7 L469.5,538.4 L469.5,539 L469.5,539.7 L469.5,540.4 L469.4,541.2 L469.4,541.9 L469.4,542.7 L469.3,543.5 L469.3,544.3 L469.3,545.2 L469.2,546.2 L469.1,547.2 L468.8,548 L468.5,548.9 L468.2,549.9 L467.8,550.9 L467.4,551.9 L467,553.1 L466.6,554.3 L466.1,555.6 L465.3,556.5 L464.5,557.5 L463.6,558.6 L462.7,559.7 L461.7,560.9 L460.6,562.2 L459.3,562.4 L457.9,562.7 L456.6,562.9 L455.2,563.2 L453.8,563.2 L452.5,563.2 L451,563.2 L449.6,563.2 L448.1,563.2 L446.7,562.9 L445.5,561.9 L444.4,560.9 L443.3,560 L442.3,559 L441.4,557.9 L440.8,556.5 L440.2,555.2 L439.6,554 L439,552.8 L438.5,551.7 L438,550.6 L437.4,549.5 L437.2,548.2 L437.1,547 L436.9,545.8 L436.7,544.6 L436.6,543.5 L436.4,542.4 L436.2,541.3 L436.1,540.2 L435.9,539.2 L435.8,538.1Z" fill="#ffffbe" stroke="#fff" stroke-opacity="0.22" stroke-width="0.6" stroke-dasharray="1.2 1.8"/>
<path d="M440.1,537 L440.2,536.2 L440.2,535.4 L440.2,534.5 L440.3,533.7 L440.3,532.9 L440.3,532 L440.4,531.1 L440.4,530.2 L440.7,529.3 L441,528.5 L441.3,527.6 L441.6,526.7 L441.9,525.8 L442.3,524.9 L442.8,524.1 L443.4,523.3 L444,522.5 L444.6,521.7 L445.2,520.8 L445.9,520.1 L446.7,519.3 L447.4,518.4 L448.3,517.6 L449.4,517.6 L450.5,517.6 L451.6,517.6 L452.6,517.6 L453.7,517.6 L454.7,517.6 L455.7,517.6 L456.7,518.2 L457.6,518.9 L458.5,519.5 L459.3,520.1 L460.1,520.7 L460.7,521.5 L461.3,522.4 L461.9,523.2 L462.4,523.9 L462.9,524.6 L463.3,525.2 L463.8,525.9 L464,526.7 L464.3,527.5 L464.5,528.2 L464.7,528.9 L464.9,529.6 L465.1,530.2 L465.2,530.8 L465.2,531.5 L465.2,532.1 L465.3,532.7 L465.3,533.3 L465.3,533.9 L465.3,534.4 L465.4,534.9 L465.4,535.5 L465.4,536 L465.4,536.5 L465.4,537 L465.4,537.5 L465.4,538 L465.4,538.5 L465.4,539.1 L465.3,539.6 L465.3,540.1 L465.3,540.7 L465.3,541.3 L465.3,541.9 L465.2,542.5 L465.2,543.2 L465.2,543.9 L465.1,544.6 L464.9,545.3 L464.6,545.9 L464.4,546.6 L464.1,547.4 L463.8,548.2 L463.5,549 L463.2,550 L462.8,550.9 L462.2,551.6 L461.6,552.4 L461,553.2 L460.3,554 L459.5,554.9 L458.7,555.9 L457.7,556.1 L456.7,556.3 L455.7,556.4 L454.7,556.6 L453.6,556.7 L452.6,556.7 L451.5,556.7 L450.4,556.7 L449.3,556.7 L448.2,556.4 L447.4,555.7 L446.6,554.9 L445.8,554.2 L445,553.5 L444.3,552.6 L443.9,551.6 L443.4,550.7 L442.9,549.8 L442.5,548.9 L442.1,548 L441.7,547.2 L441.3,546.3 L441.2,545.4 L441,544.5 L440.9,543.6 L440.8,542.7 L440.7,541.9 L440.6,541.1 L440.4,540.2 L440.3,539.4 L440.2,538.6 L440.1,537.8Z" fill="#ffffc8" stroke="#fff" stroke-opacity="0.22" stroke-width="0.6" stroke-dasharray="1.2 1.8"/>
<path d="M444.4,537 L444.4,536.5 L444.5,535.9 L444.5,535.4 L444.5,534.8 L444.5,534.2 L444.6,533.7 L444.6,533.1 L444.6,532.5 L444.8,531.9 L445,531.3 L445.2,530.8 L445.4,530.2 L445.6,529.6 L445.8,528.9 L446.2,528.4 L446.6,527.9 L447,527.3 L447.4,526.8 L447.8,526.2 L448.3,525.7 L448.8,525.2 L449.3,524.6 L449.8,524.1 L450.6,524.1 L451.3,524.1 L452.1,524.1 L452.8,524.1 L453.4,524.1 L454.1,524.1 L454.8,524.1 L455.5,524.4 L456.1,524.9 L456.6,525.3 L457.2,525.7 L457.7,526.1 L458.1,526.7 L458.5,527.3 L458.9,527.8 L459.3,528.3 L459.6,528.7 L459.9,529.2 L460.2,529.6 L460.4,530.1 L460.5,530.7 L460.7,531.1 L460.8,531.6 L460.9,532 L461.1,532.5 L461.1,532.9 L461.1,533.3 L461.2,533.8 L461.2,534.2 L461.2,534.5 L461.2,534.9 L461.2,535.3 L461.2,535.6 L461.3,536 L461.3,536.3 L461.3,536.7 L461.3,537 L461.3,537.3 L461.3,537.7 L461.3,538 L461.2,538.4 L461.2,538.7 L461.2,539.1 L461.2,539.5 L461.2,539.8 L461.2,540.2 L461.2,540.7 L461.1,541.1 L461.1,541.6 L461.1,542.1 L460.9,542.5 L460.8,543 L460.6,543.4 L460.4,543.9 L460.2,544.5 L460,545 L459.8,545.7 L459.5,546.3 L459.1,546.8 L458.7,547.3 L458.3,547.8 L457.8,548.3 L457.3,548.9 L456.8,549.6 L456.1,549.7 L455.5,549.8 L454.8,550 L454.1,550.1 L453.4,550.1 L452.7,550.1 L452,550.1 L451.3,550.1 L450.5,550.1 L449.8,549.9 L449.3,549.4 L448.7,549 L448.2,548.5 L447.6,548 L447.2,547.4 L446.9,546.8 L446.6,546.1 L446.3,545.5 L446,544.9 L445.7,544.3 L445.5,543.8 L445.2,543.2 L445.1,542.6 L445,542 L444.9,541.4 L444.9,540.8 L444.8,540.3 L444.7,539.7 L444.6,539.2 L444.5,538.6 L444.5,538.1 L444.4,537.5Z" fill="#ffffd2" stroke="#fff" stroke-opacity="0.22" stroke-width="0.6" stroke-dasharray="1.2 1.8"/>
<path d="M448.7,537 L448.7,536.7 L448.7,536.5 L448.7,536.2 L448.8,535.9 L448.8,535.6 L448.8,535.3 L448.8,535 L448.8,534.7 L448.9,534.4 L449,534.2 L449.1,533.9 L449.2,533.6 L449.3,533.3 L449.4,533 L449.6,532.7 L449.8,532.4 L450,532.2 L450.2,531.9 L450.4,531.6 L450.6,531.4 L450.9,531.1 L451.1,530.8 L451.4,530.5 L451.8,530.5 L452.2,530.5 L452.5,530.5 L452.9,530.5 L453.2,530.5 L453.6,530.5 L453.9,530.5 L454.2,530.7 L454.5,531 L454.8,531.2 L455.1,531.4 L455.4,531.6 L455.6,531.8 L455.8,532.1 L456,532.4 L456.1,532.6 L456.3,532.9 L456.4,533.1 L456.6,533.3 L456.7,533.6 L456.8,533.8 L456.8,534.1 L456.9,534.3 L457,534.5 L457,534.7 L457.1,534.9 L457.1,535.2 L457.1,535.4 L457.1,535.6 L457.1,535.8 L457.1,536 L457.1,536.1 L457.1,536.3 L457.1,536.5 L457.1,536.7 L457.1,536.8 L457.1,537 L457.1,537.2 L457.1,537.3 L457.1,537.5 L457.1,537.7 L457.1,537.9 L457.1,538 L457.1,538.2 L457.1,538.4 L457.1,538.6 L457.1,538.8 L457.1,539.1 L457.1,539.3 L457,539.5 L457,539.8 L456.9,540 L456.8,540.2 L456.7,540.5 L456.6,540.7 L456.5,541 L456.4,541.3 L456.3,541.6 L456.1,541.9 L455.9,542.1 L455.7,542.4 L455.4,542.7 L455.2,543 L454.9,543.3 L454.6,543.4 L454.2,543.4 L453.9,543.5 L453.6,543.5 L453.2,543.6 L452.9,543.6 L452.5,543.6 L452.1,543.6 L451.8,543.6 L451.4,543.5 L451.1,543.2 L450.9,543 L450.6,542.7 L450.3,542.5 L450.1,542.2 L450,541.9 L449.8,541.6 L449.6,541.3 L449.5,541 L449.4,540.7 L449.2,540.4 L449.1,540.1 L449.1,539.8 L449,539.5 L449,539.2 L448.9,538.9 L448.9,538.6 L448.9,538.4 L448.8,538.1 L448.8,537.8 L448.7,537.5 L448.7,537.3Z" fill="#ffffdc" stroke="#fff" stroke-opacity="0.22" stroke-width="0.6" stroke-dasharray="1.2 1.8"/>
<path d="M437,472.5 L439.2,472.5 L441.4,472.5 L443.6,472.5 L445.8,472.5 L448,472.5 L450.2,472.5 L452.4,472.5 L454.6,472.5 L456.8,472.5 L459,472.5 L461.2,472.5 L463.3,472.8 L465.1,474.1 L466.9,475.4 L468.6,476.7 L470.4,478 L472.2,479.4 L473.9,480.7 L475.7,482 L477.3,483.5 L478.6,485.3 L479.9,487.1 L481.1,488.9 L482.4,490.7 L483.7,492.5 L484.9,494.3 L486.2,496.1 L487.5,497.9 L488.8,499.6 L489.5,501.7 L490.1,503.8 L490.8,505.9 L491.4,508 L492,510.1 L492.7,512.2 L493.3,514.4 L493.6,516.5 L493.7,518.7 L493.8,520.9 L493.9,523.1 L494,525.3 L494.1,527.5 L494.2,529.7 L494.3,531.9 L494.4,534.1 L494.5,536.3 L494.4,538.5 L494.4,540.7 L494.3,542.9 L494.2,545.1 L494.1,547.3 L494,549.5 L493.9,551.7 L493.8,553.9 L493.7,556.1 L493.6,558.3 L493.6,560.5 L493.2,562.7 L492.5,564.8 L491.8,566.9 L491,568.9 L490.3,571 L489.5,573.1 L488.8,575.2 L488.1,577.2 L487.3,579.3 L486.6,581.4 L485.7,583.4 L484.3,585.1 L482.9,586.8 L481.5,588.5 L480.1,590.2 L478.7,591.9 L477.3,593.6 L475.9,595.3 L474.5,597 L473.1,598.7 L471.5,600.1 L469.4,600.5 L467.2,600.9 L465,601.2 L462.9,601.6 L460.7,602 L458.5,602.4 L456.3,602.5 L454.1,602.5 L451.9,602.5 L449.7,602.5 L447.5,602.5 L445.3,602.5 L443.1,602.5 L440.9,602.5 L438.7,602.5 L436.9,601.5 L435.2,600 L433.6,598.6 L431.9,597.1 L430.3,595.7 L428.6,594.2 L427,592.7 L425.3,591.3 L424.2,589.4 L423.3,587.4 L422.3,585.4 L421.4,583.4 L420.4,581.5 L419.5,579.5 L418.5,577.5 L417.6,575.5 L416.6,573.5 L415.7,571.5 L414.7,569.5 L413.9,567.5 L413.6,565.3 L413.3,563.1 L413,561 L412.7,558.8 L412.4,556.6 L412.1,554.4 L411.7,552.2 L411.4,550.1 L411.1,547.9 L410.8,545.7 L410.5,543.5 L410.2,541.3 L410,539.1 L410.1,536.9 L410.2,534.7 L410.3,532.5 L410.4,530.3 L410.5,528.1 L410.5,525.9 L410.6,523.7 L410.7,521.5 L410.8,519.3 L410.9,517.1 L411,514.9 L411.4,512.8 L412.2,510.7 L412.9,508.6 L413.6,506.6 L414.4,504.5 L415.1,502.4 L415.8,500.3 L416.6,498.3 L417.5,496.3 L418.8,494.5 L420.1,492.7 L421.3,490.9 L422.6,489.1 L423.9,487.3 L425.2,485.5 L426.5,483.7 L427.9,482.1 L429.4,480.5 L430.9,478.9 L432.4,477.3 L434,475.7 L435.5,474.1Z" fill="none" stroke="#000" stroke-width="4.6" stroke-dasharray="9.5 8.5"/>
<path d="M541.7,537.5 L541.6,542.9 L541.4,548.2 L541.1,553.6 L540.6,558.9 L540,564.2 L539.3,569.4 L538.4,574.6 L537.5,579.7 L536.3,584.8 L535.1,589.8 L533.7,594.7 L532.3,599.6 L530.6,604.3 L528.9,608.9 L527.1,613.4 L525.1,617.9 L523.1,622.1 L520.9,626.3 L518.7,630.3 L516.3,634.2 L513.9,637.9 L511.3,641.4 L508.7,644.9 L506,648.1 L503.2,651.2 L500.3,654.1 L497.4,656.8 L494.4,659.3 L491.3,661.6 L488.2,663.8 L485,665.8 L481.8,667.5 L478.5,669.1 L475.2,670.4 L471.9,671.6 L468.6,672.5 L465.2,673.3 L461.8,673.8 L458.4,674.1 L455,674.2 L451.6,674.1 L448.2,673.8 L444.8,673.3 L441.4,672.5 L438.1,671.6 L434.8,670.4 L431.5,669.1 L428.2,667.5 L425,665.8 L421.8,663.8 L418.7,661.6 L415.6,659.3 L412.6,656.8 L409.7,654.1 L406.8,651.2 L404,648.1 L401.3,644.9 L398.7,641.4 L396.1,637.9 L393.7,634.2 L391.3,630.3 L389.1,626.3 L386.9,622.1 L384.9,617.9 L382.9,613.4 L381.1,608.9 L379.4,604.3 L377.7,599.6 L376.3,594.7 L374.9,589.8 L373.7,584.8 L372.5,579.7 L371.6,574.6 L370.7,569.4 L370,564.2 L369.4,558.9 L368.9,553.6 L368.6,548.2 L368.4,542.9 L368.3,537.5 L368.4,532.1 L368.6,526.8 L368.9,521.4 L369.4,516.1 L370,510.8 L370.7,505.6 L371.6,500.4 L372.5,495.3 L373.7,490.2 L374.9,485.2 L376.3,480.3 L377.7,475.4 L379.4,470.7 L381.1,466.1 L382.9,461.6 L384.9,457.1 L386.9,452.9 L389.1,448.7 L391.3,444.7 L393.7,440.8 L396.1,437.1 L398.7,433.6 L401.3,430.1 L404,426.9 L406.8,423.8 L409.7,420.9 L412.6,418.2 L415.6,415.7 L418.7,413.4 L421.8,411.2 L425,409.2 L428.2,407.5 L431.5,405.9 L434.8,404.6 L438.1,403.4 L441.4,402.5 L444.8,401.7 L448.2,401.2 L451.6,400.9 L455,400.8 L458.4,400.9 L461.8,401.2 L465.2,401.7 L468.6,402.5 L471.9,403.4 L475.2,404.6 L478.5,405.9 L481.8,407.5 L485,409.2 L488.2,411.2 L491.3,413.4 L494.4,415.7 L497.4,418.2 L500.3,420.9 L503.2,423.8 L506,426.9 L508.7,430.1 L511.3,433.6 L513.9,437.1 L516.3,440.8 L518.7,444.7 L520.9,448.7 L523.1,452.9 L525.1,457.1 L527.1,461.6 L528.9,466.1 L530.6,470.7 L532.3,475.4 L533.7,480.3 L535.1,485.2 L536.3,490.2 L537.5,495.3 L538.4,500.4 L539.3,505.6 L540,510.8 L540.6,516.1 L541.1,521.4 L541.4,526.8 L541.6,532.1Z" fill="none" stroke="#000" stroke-width="4.6" stroke-dasharray="9.5 8.5"/>
<path d="M585.6,537.5 L585.5,546.2 L585.2,554.9 L584.7,563.6 L584,572.2 L583.1,580.8 L582,589.3 L580.8,597.8 L579.3,606.1 L577.7,614.3 L575.8,622.5 L573.8,630.4 L571.6,638.3 L569.2,646 L566.6,653.5 L563.9,660.8 L561,668 L558,674.9 L554.8,681.7 L551.4,688.2 L547.9,694.5 L544.3,700.5 L540.5,706.3 L536.6,711.8 L532.6,717.1 L528.4,722.1 L524.2,726.8 L519.8,731.2 L515.4,735.3 L510.8,739.1 L506.2,742.6 L501.5,745.8 L496.7,748.6 L491.9,751.2 L487,753.4 L482.1,755.2 L477.1,756.8 L472.1,758 L467.1,758.8 L462,759.3 L457,759.5 L452,759.3 L446.9,758.8 L441.9,758 L436.9,756.8 L431.9,755.2 L427,753.4 L422.1,751.2 L417.3,748.6 L412.5,745.8 L407.8,742.6 L403.2,739.1 L398.6,735.3 L394.2,731.2 L389.8,726.8 L385.6,722.1 L381.4,717.1 L377.4,711.8 L373.5,706.3 L369.7,700.5 L366.1,694.5 L362.6,688.2 L359.2,681.7 L356,674.9 L353,668 L350.1,660.8 L347.4,653.5 L344.8,646 L342.4,638.3 L340.2,630.4 L338.2,622.5 L336.3,614.3 L334.7,606.1 L333.2,597.8 L332,589.3 L330.9,580.8 L330,572.2 L329.3,563.6 L328.8,554.9 L328.5,546.2 L328.4,537.5 L328.5,529.3 L328.8,521.2 L329.3,513.1 L330,505 L330.9,496.9 L332,488.9 L333.2,481 L334.7,473.2 L336.3,465.5 L338.2,457.9 L340.2,450.4 L342.4,443.1 L344.8,435.9 L347.4,428.8 L350.1,421.9 L353,415.2 L356,408.7 L359.2,402.4 L362.6,396.3 L366.1,390.4 L369.7,384.8 L373.5,379.3 L377.4,374.2 L381.4,369.2 L385.6,364.6 L389.8,360.2 L394.2,356 L398.6,352.2 L403.2,348.6 L407.8,345.3 L412.5,342.4 L417.3,339.7 L422.1,337.3 L427,335.2 L431.9,333.5 L436.9,332.1 L441.9,330.9 L446.9,330.1 L452,329.7 L457,329.5 L462,329.7 L467.1,330.1 L472.1,330.9 L477.1,332.1 L482.1,333.5 L487,335.2 L491.9,337.3 L496.7,339.7 L501.5,342.4 L506.2,345.3 L510.8,348.6 L515.4,352.2 L519.8,356 L524.2,360.2 L528.4,364.6 L532.6,369.2 L536.6,374.2 L540.5,379.3 L544.3,384.8 L547.9,390.4 L551.4,396.3 L554.8,402.4 L558,408.7 L561,415.2 L563.9,421.9 L566.6,428.8 L569.2,435.9 L571.6,443.1 L573.8,450.4 L575.8,457.9 L577.7,465.5 L579.3,473.2 L580.8,481 L582,488.9 L583.1,496.9 L584,505 L584.7,513.1 L585.2,521.2 L585.5,529.3Z" fill="none" stroke="#000" stroke-width="4.6" stroke-dasharray="9.5 8.5"/>
<path d="M631,537.5 L630.9,548.8 L630.5,560 L629.8,571.2 L628.9,582.4 L627.7,593.5 L626.3,604.5 L624.6,615.4 L622.7,626.2 L620.5,636.8 L618.1,647.3 L615.4,657.7 L612.5,667.8 L609.4,677.7 L606,687.5 L602.4,696.9 L598.6,706.2 L594.6,715.2 L590.4,723.9 L586,732.3 L581.4,740.4 L576.6,748.3 L571.6,755.7 L566.4,762.9 L561.1,769.7 L555.7,776.1 L550.1,782.2 L544.3,787.9 L538.5,793.2 L532.5,798.1 L526.4,802.7 L520.2,806.8 L513.9,810.5 L507.5,813.7 L501.1,816.6 L494.6,819 L488,821 L481.4,822.5 L474.8,823.6 L468.2,824.3 L461.5,824.5 L454.8,824.3 L448.2,823.6 L441.6,822.5 L435,821 L428.4,819 L421.9,816.6 L415.5,813.7 L409.1,810.5 L402.8,806.8 L396.6,802.7 L390.5,798.1 L384.5,793.2 L378.7,787.9 L372.9,782.2 L367.3,776.1 L361.9,769.7 L356.6,762.9 L351.4,755.7 L346.4,748.3 L341.6,740.4 L337,732.3 L332.6,723.9 L328.4,715.2 L324.4,706.2 L320.6,696.9 L317,687.5 L313.6,677.7 L310.5,667.8 L307.6,657.7 L304.9,647.3 L302.5,636.8 L300.3,626.2 L298.4,615.4 L296.7,604.5 L295.3,593.5 L294.1,582.4 L293.2,571.2 L292.5,560 L292.1,548.8 L292,537.5 L292.1,526.2 L292.5,515 L293.2,503.8 L294.1,492.6 L295.3,481.5 L296.7,470.5 L298.4,459.6 L300.3,448.8 L302.5,438.2 L304.9,427.7 L307.6,417.3 L310.5,407.2 L313.6,397.3 L317,387.5 L320.6,378.1 L324.4,368.8 L328.4,359.8 L332.6,351.1 L337,342.7 L341.6,334.6 L346.4,326.7 L351.4,319.3 L356.6,312.1 L361.9,305.3 L367.3,298.9 L372.9,292.8 L378.7,287.1 L384.5,281.8 L390.5,276.9 L396.6,272.3 L402.8,268.2 L409.1,264.5 L415.5,261.3 L421.9,258.4 L428.4,256 L435,254 L441.6,252.5 L448.2,251.4 L454.8,250.7 L461.5,250.5 L468.2,250.7 L474.8,251.4 L481.4,252.5 L488,254 L494.6,256 L501.1,258.4 L507.5,261.3 L513.9,264.5 L520.2,268.2 L526.4,272.3 L532.5,276.9 L538.5,281.8 L544.3,287.1 L550.1,292.8 L555.7,298.9 L561.1,305.3 L566.4,312.1 L571.6,319.3 L576.6,326.7 L581.4,334.6 L586,342.7 L590.4,351.1 L594.6,359.8 L598.6,368.8 L602.4,378.1 L606,387.5 L609.4,397.3 L612.5,407.2 L615.4,417.3 L618.1,427.7 L620.5,438.2 L622.7,448.8 L624.6,459.6 L626.3,470.5 L627.7,481.5 L628.9,492.6 L629.8,503.8 L630.5,515 L630.9,526.2Z" fill="none" stroke="#000" stroke-width="4.6" stroke-dasharray="9.5 8.5"/>
<path d="M678,537 L677.8,551.8 L677.4,566.5 L676.5,581.2 L675.4,595.8 L674,610.4 L672.2,624.8 L670.1,639.1 L667.7,653.2 L665,667.1 L662,680.9 L658.7,694.4 L655.1,707.7 L651.2,720.7 L647.1,733.5 L642.6,745.9 L637.9,758 L632.9,769.8 L627.7,781.2 L622.2,792.2 L616.5,802.9 L610.5,813.1 L604.4,822.9 L598,832.3 L591.4,841.2 L584.7,849.6 L577.7,857.6 L570.6,865.1 L563.3,872 L555.9,878.5 L548.4,884.4 L540.7,889.8 L532.9,894.6 L525,898.9 L517,902.6 L509,905.8 L500.9,908.4 L492.7,910.4 L484.5,911.8 L476.2,912.7 L468,913 L459.8,912.7 L451.5,911.8 L443.3,910.4 L435.1,908.4 L427,905.8 L419,902.6 L411,898.9 L403.1,894.6 L395.3,889.8 L387.6,884.4 L380.1,878.5 L372.7,872 L365.4,865.1 L358.3,857.6 L351.3,849.6 L344.6,841.2 L338,832.3 L331.6,822.9 L325.5,813.1 L319.5,802.9 L313.8,792.2 L308.3,781.2 L303.1,769.8 L298.1,758 L293.4,745.9 L288.9,733.5 L284.8,720.7 L280.9,707.7 L277.3,694.4 L274,680.9 L271,667.1 L268.3,653.2 L265.9,639.1 L263.8,624.8 L262,610.4 L260.6,595.8 L259.5,581.2 L258.6,566.5 L258.2,551.8 L258,537 L258.2,522.2 L258.6,507.5 L259.5,492.8 L260.6,478.2 L262,463.6 L263.8,449.2 L265.9,434.9 L268.3,420.8 L271,406.9 L274,393.1 L277.3,379.6 L280.9,366.3 L284.8,353.3 L288.9,340.5 L293.4,328.1 L298.1,316 L303.1,304.2 L308.3,292.8 L313.8,281.8 L319.5,271.1 L325.5,260.9 L331.6,251.1 L338,241.7 L344.6,232.8 L351.3,224.4 L358.3,216.4 L365.4,208.9 L372.7,202 L380.1,195.5 L387.6,189.6 L395.3,184.2 L403.1,179.4 L411,175.1 L419,171.4 L427,168.2 L435.1,165.6 L443.3,163.6 L451.5,162.2 L459.8,161.3 L468,161 L476.2,161.3 L484.5,162.2 L492.7,163.6 L500.9,165.6 L509,168.2 L517,171.4 L525,175.1 L532.9,179.4 L540.7,184.2 L548.4,189.6 L555.9,195.5 L563.3,202 L570.6,208.9 L577.7,216.4 L584.7,224.4 L591.4,232.8 L598,241.7 L604.4,251.1 L610.5,260.9 L616.5,271.1 L622.2,281.8 L627.7,292.8 L632.9,304.2 L637.9,316 L642.6,328.1 L647.1,340.5 L651.2,353.3 L655.1,366.3 L658.7,379.6 L662,393.1 L665,406.9 L667.7,420.8 L670.1,434.9 L672.2,449.2 L674,463.6 L675.4,478.2 L676.5,492.8 L677.4,507.5 L677.8,522.2Z" fill="none" stroke="#000" stroke-width="4.6" stroke-dasharray="9.5 8.5"/>
<path d="M723.8,501.5 L723.7,523.2 L723.4,541.2 L723,558 L722.4,574.1 L721.6,589.7 L720.6,604.8 L719.4,619.5 L718.1,633.9 L716.6,648 L714.9,661.8 L713.1,675.3 L711.1,688.6 L708.9,701.7 L706.5,714.5 L704,727 L701.3,739.4 L698.5,751.5 L695.5,763.3 L692.3,775 L689,786.4 L685.5,797.5 L681.9,808.5 L678.1,819.2 L674.2,829.6 L670.1,839.8 L665.9,849.8 L661.6,859.5 L657.1,868.9 L652.5,878.1 L647.8,887.1 L642.9,895.8 L637.9,904.2 L632.8,912.3 L627.6,920.2 L622.2,927.8 L616.8,935.2 L611.2,942.3 L605.6,949 L599.8,955.5 L594,961.8 L588.1,967.7 L582.1,973.3 L576,978.7 L569.8,983.7 L563.5,988.5 L557.2,993 L550.9,997.1 L544.4,1001 L537.9,1004.6 L531.4,1007.8 L524.8,1010.8 L518.2,1013.4 L511.5,1015.7 L504.8,1017.8 L498.1,1019.5 L491.4,1020.9 L484.6,1022 L477.8,1022.7 L471,1023.2 L464.2,1023.4 L458,1023.2 L451.8,1022.7 L445.6,1022 L439.4,1020.9 L433.3,1019.5 L427.1,1017.8 L421,1015.7 L414.9,1013.4 L408.8,1010.8 L402.8,1007.8 L396.8,1004.6 L390.9,1001 L385,997.1 L379.2,993 L373.4,988.5 L367.7,983.7 L362.1,978.7 L356.5,973.3 L351,967.7 L345.6,961.8 L340.3,955.5 L335,949 L329.8,942.3 L324.8,935.2 L319.8,927.8 L314.9,920.2 L310.1,912.3 L305.5,904.2 L300.9,895.8 L296.5,887.1 L292.1,878.1 L287.9,868.9 L283.8,859.5 L279.8,849.8 L276,839.8 L272.3,829.6 L268.7,819.2 L265.2,808.5 L261.9,797.5 L258.8,786.4 L255.7,775 L252.8,763.3 L250.1,751.5 L247.5,739.4 L245,727 L242.7,714.5 L240.6,701.7 L238.6,688.6 L236.7,675.3 L235.1,661.8 L233.5,648 L232.2,633.9 L230.9,619.5 L229.9,604.8 L229,589.7 L228.3,574.1 L227.7,558 L227.3,541.2 L227.1,523.2 L227,501.5 L227.1,496.4 L227.3,489.5 L227.7,481.7 L228.3,473.3 L229,464.4 L229.9,455.1 L230.9,445.5 L232.2,435.6 L233.5,425.5 L235.1,415.1 L236.7,404.6 L238.6,394 L240.6,383.2 L242.7,372.4 L245,361.5 L247.5,350.6 L250.1,339.6 L252.8,328.6 L255.7,317.7 L258.8,306.8 L261.9,295.9 L265.2,285.1 L268.7,274.3 L272.3,263.7 L276,253.2 L279.8,242.8 L283.8,232.5 L287.9,222.4 L292.1,212.5 L296.5,202.8 L300.9,193.2 L305.5,183.9 L310.1,174.7 L314.9,165.8 L319.8,157.1 L324.8,148.7 L329.8,140.6 L335,132.7 L340.3,125.1 L345.6,117.8 L351,110.8 L356.5,104.1 L362.1,97.7 L367.7,91.6 L373.4,85.9 L379.2,80.5 L385,75.5 L390.9,70.8 L396.8,66.4 L402.8,62.4 L408.8,58.8 L414.9,55.6 L421,52.7 L427.1,50.2 L433.3,48.1 L439.4,46.3 L445.6,45 L451.8,44 L458,43.4 L464.2,43.2 L471,43.4 L477.8,44 L484.6,45 L491.4,46.3 L498.1,48.1 L504.8,50.2 L511.5,52.7 L518.2,55.6 L524.8,58.8 L531.4,62.4 L537.9,66.4 L544.4,70.8 L550.9,75.5 L557.2,80.5 L563.5,85.9 L569.8,91.6 L576,97.7 L582.1,104.1 L588.1,110.8 L594,117.8 L599.8,125.1 L605.6,132.7 L611.2,140.6 L616.8,148.7 L622.2,157.1 L627.6,165.8 L632.8,174.7 L637.9,183.9 L642.9,193.2 L647.8,202.8 L652.5,212.5 L657.1,222.4 L661.6,232.5 L665.9,242.8 L670.1,253.2 L674.2,263.7 L678.1,274.3 L681.9,285.1 L685.5,295.9 L689,306.8 L692.3,317.7 L695.5,328.6 L698.5,339.6 L701.3,350.6 L704,361.5 L706.5,372.4 L708.9,383.2 L711.1,394 L713.1,404.6 L714.9,415.1 L716.6,425.5 L718.1,435.6 L719.4,445.5 L720.6,455.1 L721.6,464.4 L722.4,473.3 L723,481.7 L723.4,489.5 L723.7,496.4Z" fill="none" stroke="#fff" stroke-width="8.5" stroke-dasharray="23 9.5"/>
<path d="M228.6,537 L228.5,532.9 L228.5,528.8 L228.5,524.8 L228.4,520.7 L228.4,516.6 L228.4,512.4 L228.4,508.3 L228.4,504.2 L228.4,500 L228.5,495.8 L228.7,491.6 L228.8,487.4 L229.1,483.2 L229.3,479 L229.6,474.7 L230,470.5 L230.3,466.2 L230.7,461.8 L231.1,457.5 L231.6,453.1 L232.1,448.7 L232.6,444.3 L233.1,439.8 L233.7,435.3 L234.3,430.8 L234.9,426.2 L235.6,421.6 L236.3,417 L237,412.3 L237.8,407.6 L238.6,402.8 L239.4,397.9 L240.3,393 L241.2,388.1 L242.2,383.1 L243.2,378 L244.2,372.9 L245.3,367.7 L246.4,362.4 L247.6,357.1 L248.9,351.7 L250.1,346.2 L251.5,340.7 L252.9,335.1 L254.4,329.4 L255.9,323.6 L257.5,317.7 L259.1,311.7 L260.9,305.6 L262.7,299.5 L264.6,293.2 L266.6,286.9 L268.6,280.4 L270.8,273.9 L273.1,267.2 L275.5,260.4 L277.9,253.6 L280.5,246.6 L283.3,239.5 L286.1,232.4 L289.1,225.1 L292.2,217.7 L295.5,210.3 L299,202.8 L302.6,195.1 L306.4,187.5 L310.3,179.7 L314.5,171.9 L318.9,164.1 L323.4,156.3 L328.2,148.5 L333.2,140.7 L338.5,133 L344,125.3 L349.7,117.8 L355.7,110.5 L361.9,103.3 L368.3,96.3 L375.1,89.7 L382,83.4 L389.2,77.4 L396.6,71.9 L404.3,66.9 L412.1,62.3 L420.1,58.4 L428.3,55.1 L436.6,52.4 L445,50.4 L453.5,49.1 L462,48.6 L470.5,48.7 L479,49.4 L487.5,50.8 L495.9,52.7 L504.1,55.2 L512.3,58.3 L520.3,61.9 L528.2,65.9 L535.9,70.4 L543.4,75.3 L550.7,80.6 L557.8,86.3 L564.7,92.2 L571.3,98.5 L577.8,104.9 L584,111.6 L590,118.4 L595.7,125.4 L601.3,132.5 L606.6,139.6 L611.8,146.9 L616.7,154.1 L621.4,161.5 L625.9,168.8 L630.3,176.1 L634.5,183.4 L638.5,190.7 L642.3,197.9 L646,205.1 L649.5,212.3 L652.9,219.3 L656.1,226.4 L659.2,233.3 L662.2,240.2 L665,247 L667.8,253.8 L670.4,260.4 L672.9,267 L675.4,273.5 L677.7,280 L679.9,286.3 L682,292.6 L684.1,298.8 L686.1,305 L688,311 L689.8,317 L691.6,322.9 L693.2,328.8 L694.9,334.6 L696.4,340.3 L697.9,346 L699.3,351.6 L700.7,357.1 L702.1,362.6 L703.3,368 L704.5,373.4 L705.7,378.7 L706.9,384 L707.9,389.2 L709,394.4 L710,399.6 L710.9,404.6 L711.8,409.7 L712.7,414.7 L713.5,419.7 L714.3,424.7 L715.1,429.6 L715.8,434.5 L716.5,439.3 L717.1,444.1 L717.7,448.9 L718.3,453.7 L718.8,458.5 L719.3,463.2 L719.8,467.9 L720.2,472.6 L720.5,477.3 L720.9,482 L721.2,486.6 L721.4,491.3 L721.6,495.9 L721.7,500.5 L721.7,505.1 L721.7,509.7 L721.7,514.3 L721.7,518.8 L721.6,523.4 L721.6,527.9 L721.5,532.5 L721.5,537 L721.4,541.5 L721.3,546.1 L721.2,550.6 L721,555.1 L720.9,559.6 L720.7,564.2 L720.5,568.7 L720.4,573.3 L720.1,577.9 L719.9,582.5 L719.7,587.1 L719.4,591.7 L719.1,596.4 L718.8,601 L718.5,605.7 L718.1,610.4 L717.7,615.2 L717.3,620 L716.9,624.8 L716.4,629.6 L716,634.5 L715.4,639.4 L714.9,644.3 L714.3,649.3 L713.7,654.4 L713.1,659.5 L712.4,664.6 L711.7,669.8 L711,675 L710.2,680.3 L709.3,685.6 L708.5,691 L707.5,696.5 L706.6,702 L705.6,707.5 L704.5,713.2 L703.4,718.9 L702.2,724.7 L700.9,730.5 L699.6,736.4 L698.3,742.4 L696.8,748.4 L695.3,754.5 L693.7,760.7 L692,767 L690.2,773.3 L688.4,779.8 L686.4,786.2 L684.4,792.8 L682.2,799.4 L679.9,806.1 L677.6,812.9 L675.1,819.8 L672.4,826.7 L669.7,833.6 L666.8,840.6 L663.8,847.7 L660.6,854.8 L657.2,861.9 L653.7,869.1 L650.1,876.3 L646.2,883.5 L642.2,890.7 L638,897.9 L633.6,905 L629,912.1 L624.2,919.2 L619.2,926.2 L614,933 L608.6,939.8 L603,946.5 L597.2,953 L591.1,959.3 L584.8,965.4 L578.4,971.3 L571.7,977 L564.8,982.4 L557.7,987.5 L550.5,992.2 L543.1,996.7 L535.5,1000.8 L527.7,1004.5 L519.8,1007.8 L511.8,1010.7 L503.7,1013.1 L495.4,1015.1 L487.1,1016.6 L478.8,1017.7 L470.4,1018.3 L462,1018.4 L453.6,1017.9 L445.2,1016.9 L436.9,1015.3 L428.7,1013.2 L420.6,1010.5 L412.6,1007.3 L404.7,1003.7 L397,999.5 L389.5,994.9 L382.1,989.9 L375,984.5 L368.1,978.8 L361.4,972.8 L354.9,966.4 L348.7,959.8 L342.7,953 L336.9,946 L331.4,938.9 L326.1,931.6 L321.1,924.2 L316.3,916.7 L311.6,909.1 L307.3,901.5 L303.1,893.9 L299.1,886.3 L295.3,878.7 L291.7,871.2 L288.3,863.7 L285.1,856.2 L282,848.8 L279.1,841.4 L276.3,834.1 L273.7,826.9 L271.2,819.8 L268.9,812.8 L266.6,805.9 L264.5,799.1 L262.5,792.3 L260.6,785.7 L258.8,779.1 L257.1,772.7 L255.5,766.3 L254,760.1 L252.5,753.9 L251.1,747.9 L249.8,741.9 L248.6,736 L247.4,730.2 L246.3,724.5 L245.2,718.9 L244.2,713.4 L243.3,707.9 L242.4,702.5 L241.5,697.2 L240.7,692 L239.9,686.8 L239.2,681.7 L238.5,676.7 L237.8,671.7 L237.2,666.8 L236.6,661.9 L236,657.2 L235.5,652.4 L235,647.7 L234.5,643.1 L234,638.5 L233.6,633.9 L233.2,629.4 L232.8,625 L232.5,620.5 L232.1,616.2 L231.8,611.8 L231.5,607.5 L231.2,603.2 L230.9,598.9 L230.7,594.7 L230.4,590.5 L230.2,586.3 L230,582.1 L229.8,577.9 L229.6,573.8 L229.5,569.7 L229.3,565.6 L229.2,561.5 L229.1,557.4 L228.9,553.3 L228.8,549.2 L228.8,545.1 L228.7,541.1Z" fill="none" stroke="#000" stroke-width="4.5" stroke-dasharray="9 8.4" stroke-dashoffset="4"/>
<path d="M765.6,539.9 L765.5,549.8 L765.2,561.8 L764.7,574.8 L764,588.4 L763,602.4 L761.9,616.9 L760.5,631.6 L758.9,646.5 L757.2,661.7 L755.2,677 L753,692.4 L750.6,707.9 L748,723.4 L745.3,738.9 L742.3,754.5 L739.1,770 L735.8,785.5 L732.2,800.9 L728.5,816.3 L724.6,831.5 L720.4,846.6 L716.2,861.5 L711.7,876.3 L707.1,890.9 L702.3,905.3 L697.3,919.4 L692.2,933.4 L686.9,947.1 L681.4,960.5 L675.8,973.7 L670.1,986.5 L664.2,999.1 L658.1,1011.3 L652,1023.3 L645.6,1034.8 L639.2,1046 L632.7,1056.9 L626,1067.4 L619.2,1077.4 L612.3,1087.1 L605.3,1096.4 L598.2,1105.3 L591,1113.7 L583.7,1121.7 L576.3,1129.2 L568.8,1136.3 L561.3,1143 L553.7,1149.1 L546,1154.8 L538.3,1160.1 L530.5,1164.8 L522.7,1169.1 L514.8,1172.8 L506.9,1176.1 L499,1178.9 L491,1181.2 L483,1182.9 L475,1184.2 L467,1185 L458.9,1185.2 L452.4,1184.9 L445.8,1184.1 L439.3,1182.7 L432.7,1180.8 L426.2,1178.3 L419.7,1175.3 L413.3,1171.8 L406.8,1167.7 L400.4,1163.1 L394.1,1158 L387.7,1152.3 L381.5,1146.1 L375.3,1139.5 L369.1,1132.3 L363,1124.7 L357,1116.5 L351,1107.9 L345.1,1098.9 L339.3,1089.4 L333.6,1079.4 L328,1069.1 L322.4,1058.3 L317,1047.1 L311.6,1035.6 L306.3,1023.7 L301.2,1011.4 L296.1,998.8 L291.2,985.9 L286.4,972.6 L281.7,959.1 L277.1,945.3 L272.7,931.3 L268.3,917 L264.1,902.5 L260.1,887.8 L256.1,873 L252.4,858 L248.7,842.8 L245.2,827.6 L241.8,812.2 L238.6,796.8 L235.6,781.4 L232.7,766 L229.9,750.5 L227.3,735.1 L224.9,719.8 L222.6,704.6 L220.5,689.5 L218.6,674.6 L216.8,659.9 L215.2,645.4 L213.7,631.3 L212.5,617.4 L211.4,604 L210.4,591.1 L209.6,578.7 L209,567.1 L208.6,556.3 L208.4,546.8 L208.3,539.9 L207.4,528.9 L207.6,516.1 L208,502.7 L208.6,488.7 L209.4,474.4 L210.4,459.9 L211.5,445.1 L212.8,430.2 L214.2,415.2 L215.8,400 L217.6,384.9 L219.6,369.7 L221.7,354.5 L224,339.3 L226.4,324.1 L229,309.1 L231.8,294.1 L234.7,279.1 L237.8,264.4 L241,249.7 L244.4,235.2 L247.9,220.8 L251.5,206.7 L255.3,192.7 L259.3,178.9 L263.4,165.4 L267.6,152.1 L271.9,139 L276.4,126.3 L281,113.7 L285.7,101.5 L290.5,89.6 L295.5,78 L300.6,66.7 L305.7,55.7 L311,45.1 L316.4,34.9 L321.9,25 L327.4,15.5 L333.1,6.3 L338.8,-2.4 L344.7,-10.7 L350.6,-18.7 L356.6,-26.2 L362.6,-33.3 L368.7,-40 L374.9,-46.2 L381.2,-52 L387.5,-57.4 L393.8,-62.3 L400.2,-66.8 L406.6,-70.8 L413.1,-74.3 L419.6,-77.4 L426.1,-80 L432.6,-82.1 L439.2,-83.8 L445.8,-85 L452.3,-85.7 L458.9,-85.9 L467,-85.7 L475,-85 L483,-83.8 L491,-82.1 L499,-80 L506.9,-77.4 L514.8,-74.3 L522.7,-70.8 L530.5,-66.8 L538.3,-62.3 L546,-57.4 L553.7,-52 L561.3,-46.2 L568.8,-40 L576.3,-33.3 L583.7,-26.2 L591,-18.7 L598.2,-10.7 L605.3,-2.4 L612.3,6.3 L619.2,15.5 L626,25 L632.7,34.9 L639.2,45.1 L645.6,55.7 L652,66.7 L658.1,78 L664.2,89.6 L670.1,101.5 L675.8,113.7 L681.4,126.3 L686.9,139 L692.2,152.1 L697.3,165.4 L702.3,178.9 L707.1,192.7 L711.7,206.7 L716.2,220.8 L720.4,235.2 L724.6,249.7 L728.5,264.4 L732.2,279.1 L735.8,294.1 L739.1,309.1 L742.3,324.1 L745.3,339.3 L748,354.5 L750.6,369.7 L753,384.9 L755.2,400 L757.2,415.2 L758.9,430.2 L760.5,445.1 L761.9,459.9 L763,474.4 L764,488.7 L764.7,502.7 L765.2,516.1 L765.5,528.9Z" fill="none" stroke="#000" stroke-width="4.6" stroke-dasharray="9 8.5"/>
<line x1="424" y1="553.5" x2="492.9" y2="296.7" stroke="#000" stroke-width="7"/>
<circle cx="489.3" cy="312.8" r="11.3" fill="none" stroke="#000" stroke-width="4.2"/>
<circle cx="477.8" cy="360.0" r="11.3" fill="none" stroke="#000" stroke-width="4.2"/>
<circle cx="469.5" cy="400.2" r="11.3" fill="none" stroke="#000" stroke-width="4.2"/>
<circle cx="459.9" cy="440.2" r="11.3" fill="none" stroke="#000" stroke-width="4.2"/>
<circle cx="444.3" cy="487.6" r="11.3" fill="none" stroke="#000" stroke-width="4.2"/>
<circle cx="430.7" cy="530.7" r="11.3" fill="none" stroke="#000" stroke-width="4.2"/>
</g>
<path d="M234.3,72.2v17 M234.3,1003.3v-17 M292.4,72.2v17 M292.4,1003.3v-17 M350.4,72.2v38 M350.4,1003.3v-38 M408.4,72.2v17 M408.4,1003.3v-17 M466.4,72.2v17 M466.4,1003.3v-17 M524.5,72.2v17 M524.5,1003.3v-17 M582.5,72.2v17 M582.5,1003.3v-17 M640.5,72.2v38 M640.5,1003.3v-38 M698.6,72.2v17 M698.6,1003.3v-17 M179.5,947.2h17 M753.4,947.2h-17 M179.5,888.7h17 M753.4,888.7h-17 M179.5,830.1h38 M753.4,830.1h-38 M179.5,771.6h17 M753.4,771.6h-17 M179.5,713h17 M753.4,713h-17 M179.5,654.5h17 M753.4,654.5h-17 M179.5,595.9h17 M753.4,595.9h-17 M179.5,537.4h38 M753.4,537.4h-38 M179.5,478.8h17 M753.4,478.8h-17 M179.5,420.3h17 M753.4,420.3h-17 M179.5,361.7h17 M753.4,361.7h-17 M179.5,303.2h17 M753.4,303.2h-17 M179.5,244.6h38 M753.4,244.6h-38 M179.5,186.1h17 M753.4,186.1h-17 M179.5,127.5h17 M753.4,127.5h-17" stroke="#000" stroke-width="6" fill="none"/>
<rect x="234.9" y="685.7" width="456.2" height="299" fill="#fff" stroke="#000" stroke-width="6.5"/>
<rect x="322" y="752.6" width="157.4" height="74.6" fill="#ccffff" stroke="#2d5193" stroke-width="4.6"/>
<rect x="487.4" y="752.6" width="156.8" height="74.6" fill="#ccffff" stroke="#2d5193" stroke-width="4.6"/>
<rect x="322" y="837.7" width="157.4" height="75.8" fill="#ccffcc" stroke="#2d5193" stroke-width="4.6"/>
<rect x="487.4" y="837.7" width="156.8" height="75.8" fill="#ccffcc" stroke="#2d5193" stroke-width="4.6"/>
<line x1="244" y1="832.2" x2="666" y2="832.2" stroke="#000" stroke-width="5.6" stroke-dasharray="14.6 4.7"/>
<rect x="405.2" y="795.2" width="157.4" height="74.5" fill="#fac000" fill-opacity="0.8"/>
<path d="M394.8,795.7 L409,823 L399.5,823 L399.5,841.5 L409,841.5 L394.8,868.7 L380.6,841.5 L390.1,841.5 L390.1,823 L380.6,823 Z" fill="#ff0000"/>
<line x1="503.2" y1="864.6" x2="544.5" y2="926.5" stroke="#ff8000" stroke-width="9"/>
<circle cx="503.2" cy="864.6" r="14.3" fill="#ff8000"/>
<rect x="318" y="66" width="296.5" height="43.5" fill="#000"/>
<rect x="325" y="72.2" width="34.8" height="31" fill="url(#cb0)"/>
<rect x="366.4" y="72.2" width="34.8" height="31" fill="url(#cb1)"/>
<rect x="407.7" y="72.2" width="34.8" height="31" fill="url(#cb2)"/>
<rect x="449.1" y="72.2" width="34.8" height="31" fill="url(#cb3)"/>
<rect x="490.4" y="72.2" width="34.8" height="31" fill="url(#cb4)"/>
<rect x="531.8" y="72.2" width="34.8" height="31" fill="url(#cb5)"/>
<rect x="573.1" y="72.2" width="34.8" height="31" fill="url(#cb6)"/>
<rect x="176.3" y="69.1" width="580.3" height="937.3" fill="none" stroke="#000" stroke-width="6.3"/>
<path d="M976,80.2C980.3,82.6 995.2,89.4 1002,94.8C1008.8,100.2 1012.3,106.5 1016.8,112.6C1021.3,118.6 1023.9,121.6 1029.2,131.1C1034.5,140.6 1042.5,156.4 1048.8,169.3C1055.1,182.2 1059.6,192 1067.2,208.3C1074.8,224.7 1086.9,252.1 1094.4,267.4C1101.9,282.7 1106.2,290.1 1112.1,300C1118,309.9 1123.1,318.2 1130,326.6C1136.9,335 1145.7,342.9 1153.6,350.3C1161.5,357.7 1168.7,364.1 1177.3,371C1185.9,377.9 1200.7,388.2 1205.4,391.7" fill="none" stroke="#ff0000" stroke-width="6.8" stroke-dasharray="22 10" stroke-dashoffset="3"/>
<circle cx="1030.1" cy="140.9" r="9.8" fill="none" stroke="#ff0000" stroke-width="4.3"/>
<line x1="1030.1" y1="133.9" x2="1030.1" y2="147.9" stroke="#ff0000" stroke-width="4.2"/>
<circle cx="1066.5" cy="131.1" r="9.8" fill="none" stroke="#ff0000" stroke-width="4.3"/>
<line x1="1066.5" y1="124.1" x2="1066.5" y2="138.1" stroke="#ff0000" stroke-width="4.2"/>
<circle cx="1044.6" cy="191.9" r="9.8" fill="none" stroke="#ff0000" stroke-width="4.3"/>
<line x1="1044.6" y1="184.9" x2="1044.6" y2="198.9" stroke="#ff0000" stroke-width="4.2"/>
<circle cx="1087" cy="279.2" r="9.8" fill="none" stroke="#ff0000" stroke-width="4.3"/>
<line x1="1087" y1="272.2" x2="1087" y2="286.2" stroke="#ff0000" stroke-width="4.2"/>
<circle cx="1106.8" cy="320.1" r="9.8" fill="none" stroke="#ff0000" stroke-width="4.3"/>
<line x1="1106.8" y1="313.1" x2="1106.8" y2="327.1" stroke="#ff0000" stroke-width="4.2"/>
<circle cx="1128.4" cy="331.6" r="9.8" fill="none" stroke="#ff0000" stroke-width="4.3"/>
<line x1="1128.4" y1="324.6" x2="1128.4" y2="338.6" stroke="#ff0000" stroke-width="4.2"/>
<circle cx="1149.2" cy="340.8" r="9.8" fill="none" stroke="#ff0000" stroke-width="4.3"/>
<line x1="1149.2" y1="333.8" x2="1149.2" y2="347.8" stroke="#ff0000" stroke-width="4.2"/>
<circle cx="1169.9" cy="365.7" r="9.8" fill="none" stroke="#ff0000" stroke-width="4.3"/>
<line x1="1169.9" y1="358.7" x2="1169.9" y2="372.7" stroke="#ff0000" stroke-width="4.2"/>
<circle cx="1190.6" cy="382.3" r="9.8" fill="none" stroke="#ff0000" stroke-width="4.3"/>
<line x1="1190.6" y1="375.3" x2="1190.6" y2="389.3" stroke="#ff0000" stroke-width="4.2"/>
<path d="M977.2,469C980.3,469 987.2,469.2 996,469C1004.8,468.8 1019.3,468.3 1030,468C1040.7,467.7 1050.8,467.5 1060,467C1069.2,466.5 1077.6,466 1085,465C1092.4,464 1097.9,462.5 1104.6,461C1111.3,459.5 1120.1,457.5 1125.3,456C1130.5,454.5 1130.8,454 1135.6,451.8C1140.4,449.6 1149.1,445.7 1154.3,442.9C1159.5,440.1 1162.2,438.4 1166.7,435.2C1171.2,432 1174.5,429.5 1181.2,423.8C1187.9,418.1 1202.7,404.8 1207,401" fill="none" stroke="#00a000" stroke-width="7" stroke-dasharray="22 10" stroke-dashoffset="3"/>
<line x1="1014.5" y1="427.6" x2="1014.5" y2="500.8" stroke="#00a000" stroke-width="3"/>
<path d="M1006,455.2L1024,473.2M1006,473.2L1024,455.2M1015,455.2V473.2" stroke="#00a000" stroke-width="4.6" fill="none"/>
<path d="M1015,457L1033,475M1015,475L1033,457M1024,457V475" stroke="#00a000" stroke-width="4.6" fill="none"/>
<path d="M1036.4,455.8L1054.4,473.8M1036.4,473.8L1054.4,455.8M1045.4,455.8V473.8" stroke="#00a000" stroke-width="4.6" fill="none"/>
<path d="M1047,458L1065,476M1047,476L1065,458M1056,458V476" stroke="#00a000" stroke-width="4.6" fill="none"/>
<path d="M1057.8,457.9L1075.8,475.9M1057.8,475.9L1075.8,457.9M1066.8,457.9V475.9" stroke="#00a000" stroke-width="4.6" fill="none"/>
<path d="M1068,454.5L1086,472.5M1068,472.5L1086,454.5M1077,454.5V472.5" stroke="#00a000" stroke-width="4.6" fill="none"/>
<path d="M1078.8,452.4L1096.8,470.4M1078.8,470.4L1096.8,452.4M1087.8,452.4V470.4" stroke="#00a000" stroke-width="4.6" fill="none"/>
<path d="M1099.3,486.9L1117.3,504.9M1099.3,504.9L1117.3,486.9M1108.3,486.9V504.9" stroke="#00a000" stroke-width="4.6" fill="none"/>
<path d="M1120,432.4L1138,450.4M1120,450.4L1138,432.4M1129,432.4V450.4" stroke="#00a000" stroke-width="4.6" fill="none"/>
<path d="M1140.7,409L1158.7,427M1140.7,427L1158.7,409M1149.7,409V427" stroke="#00a000" stroke-width="4.6" fill="none"/>
<path d="M1160.8,432.4L1178.8,450.4M1160.8,450.4L1178.8,432.4M1169.8,432.4V450.4" stroke="#00a000" stroke-width="4.6" fill="none"/>
<path d="M1182.5,410.3L1200.5,428.3M1182.5,428.3L1200.5,410.3M1191.5,410.3V428.3" stroke="#00a000" stroke-width="4.6" fill="none"/>
<path d="M1112.1,249.5 H1152 V240.7 L1181.7,254 L1152,267.3 V258.5 H1112.1 Z" fill="#ff0000"/>
<path d="M1102.5,412.4 H1062.1 V403 L1033.1,416.8 L1062.1,430.6 V421.3 H1102.5 Z" fill="#00a000"/>
<path d="M1056.4,72.60000000000001v17 M1056.4,523.1999999999999v-17 M1139.3,72.60000000000001v38 M1139.3,523.1999999999999v-38 M1222.3,72.60000000000001v17 M1222.3,523.1999999999999v-17 M1305.3,72.60000000000001v38 M1305.3,523.1999999999999v-38 M1388.2,72.60000000000001v17 M1388.2,523.1999999999999v-17 M1471.2,72.60000000000001v38 M1471.2,523.1999999999999v-38 M976.6,461.2h38 M976.6,395.9h17 M976.6,330.6h38 M976.6,265.3h17 M976.6,200h38 M976.6,134.7h17" stroke="#000" stroke-width="6" fill="none"/>
<path d="M1551.0,461.2h-38 M1551.0,395.9h-17 M1551.0,330.6h-38 M1551.0,265.3h-17 M1551.0,200h-38 M1551.0,134.7h-17" stroke="#ff0000" stroke-width="6" fill="none"/>
<path d="M1554.2,69.4 V526.4" stroke="#ff0000" stroke-width="6.3" fill="none"/>
<path d="M1557.3,69.4 H973.4 V526.4 H1557.3" stroke="#000" stroke-width="6.3" fill="none"/>
<defs><clipPath id="cc"><rect x="976.6" y="552.7" width="574.2" height="450.6"/></clipPath></defs>
<g clip-path="url(#cc)">
<path d="M980.8,827.8L993.4,840.4M980.8,840.4L993.4,827.8" stroke="#00a000" stroke-width="4.6" fill="none"/>
<path d="M1065.1,842.8L1077.7,855.4M1065.1,855.4L1077.7,842.8" stroke="#00a000" stroke-width="4.6" fill="none"/>
<path d="M972.7,870.9L985.3,883.5M972.7,883.5L985.3,870.9" stroke="#00a000" stroke-width="4.6" fill="none"/>
<path d="M988.8,875.9L1001.4,888.5M988.8,888.5L1001.4,875.9" stroke="#00a000" stroke-width="4.6" fill="none"/>
<path d="M1002.8,861.9L1015.4,874.5M1002.8,874.5L1015.4,861.9" stroke="#00a000" stroke-width="4.6" fill="none"/>
<path d="M1008.9,873.9L1021.5,886.5M1008.9,886.5L1021.5,873.9" stroke="#00a000" stroke-width="4.6" fill="none"/>
<path d="M1017.9,865.9L1030.5,878.5M1017.9,878.5L1030.5,865.9" stroke="#00a000" stroke-width="4.6" fill="none"/>
<path d="M1026.9,872.9L1039.5,885.5M1026.9,885.5L1039.5,872.9" stroke="#00a000" stroke-width="4.6" fill="none"/>
<path d="M1038,853.9L1050.6,866.5M1038,866.5L1050.6,853.9" stroke="#00a000" stroke-width="4.6" fill="none"/>
<path d="M1052,863.9L1064.6,876.5M1052,876.5L1064.6,863.9" stroke="#00a000" stroke-width="4.6" fill="none"/>
<path d="M1052,877.9L1064.6,890.5M1052,890.5L1064.6,877.9" stroke="#00a000" stroke-width="4.6" fill="none"/>
<path d="M1065.1,870.9L1077.7,883.5M1065.1,883.5L1077.7,870.9" stroke="#00a000" stroke-width="4.6" fill="none"/>
<path d="M1078.1,885L1090.7,897.6M1078.1,897.6L1090.7,885" stroke="#00a000" stroke-width="4.6" fill="none"/>
<path d="M1080.1,869.9L1092.7,882.5M1080.1,882.5L1092.7,869.9" stroke="#00a000" stroke-width="4.6" fill="none"/>
<path d="M1092.2,869.9L1104.8,882.5M1092.2,882.5L1104.8,869.9" stroke="#00a000" stroke-width="4.6" fill="none"/>
<path d="M1103.2,861.9L1115.8,874.5M1103.2,874.5L1115.8,861.9" stroke="#00a000" stroke-width="4.6" fill="none"/>
<path d="M1112.3,869.9L1124.9,882.5M1112.3,882.5L1124.9,869.9" stroke="#00a000" stroke-width="4.6" fill="none"/>
<path d="M1124.3,873.9L1136.9,886.5M1124.3,886.5L1136.9,873.9" stroke="#00a000" stroke-width="4.6" fill="none"/>
<path d="M1136.4,877.9L1149,890.5M1136.4,890.5L1149,877.9" stroke="#00a000" stroke-width="4.6" fill="none"/>
<path d="M1150.4,888L1163,900.6M1150.4,900.6L1163,888" stroke="#00a000" stroke-width="4.6" fill="none"/>
<path d="M1152.4,880L1165,892.6M1152.4,892.6L1165,880" stroke="#00a000" stroke-width="4.6" fill="none"/>
<path d="M1162.5,863.9L1175.1,876.5M1162.5,876.5L1175.1,863.9" stroke="#00a000" stroke-width="4.6" fill="none"/>
<path d="M1170.5,882L1183.1,894.6M1170.5,894.6L1183.1,882" stroke="#00a000" stroke-width="4.6" fill="none"/>
<path d="M1182.5,882L1195.1,894.6M1182.5,894.6L1195.1,882" stroke="#00a000" stroke-width="4.6" fill="none"/>
<path d="M1190.6,893L1203.2,905.6M1190.6,905.6L1203.2,893" stroke="#00a000" stroke-width="4.6" fill="none"/>
<path d="M1202.6,892L1215.2,904.6M1202.6,904.6L1215.2,892" stroke="#00a000" stroke-width="4.6" fill="none"/>
<path d="M1214.7,896L1227.3,908.6M1214.7,908.6L1227.3,896" stroke="#00a000" stroke-width="4.6" fill="none"/>
<path d="M1226.7,892L1239.3,904.6M1226.7,904.6L1239.3,892" stroke="#00a000" stroke-width="4.6" fill="none"/>
<path d="M1230.7,904L1243.3,916.6M1230.7,916.6L1243.3,904" stroke="#00a000" stroke-width="4.6" fill="none"/>
<path d="M1246.8,894L1259.4,906.6M1246.8,906.6L1259.4,894" stroke="#00a000" stroke-width="4.6" fill="none"/>
<path d="M1252.8,904L1265.4,916.6M1252.8,916.6L1265.4,904" stroke="#00a000" stroke-width="4.6" fill="none"/>
<path d="M1266.9,888L1279.5,900.6M1266.9,900.6L1279.5,888" stroke="#00a000" stroke-width="4.6" fill="none"/>
<path d="M1276.9,902L1289.5,914.6M1276.9,914.6L1289.5,902" stroke="#00a000" stroke-width="4.6" fill="none"/>
<path d="M1273.7,900.1L1286.3,912.7M1273.7,912.7L1286.3,900.1" stroke="#00a000" stroke-width="4.6" fill="none"/>
<path d="M1285.9,906.2L1298.5,918.8M1285.9,918.8L1298.5,906.2" stroke="#00a000" stroke-width="4.6" fill="none"/>
<path d="M1296.1,916.4L1308.7,929M1296.1,929L1308.7,916.4" stroke="#00a000" stroke-width="4.6" fill="none"/>
<path d="M1308.4,914.4L1321,927M1308.4,927L1321,914.4" stroke="#00a000" stroke-width="4.6" fill="none"/>
<path d="M1318.6,912.4L1331.2,925M1318.6,925L1331.2,912.4" stroke="#00a000" stroke-width="4.6" fill="none"/>
<path d="M1330.8,916.4L1343.4,929M1330.8,929L1343.4,916.4" stroke="#00a000" stroke-width="4.6" fill="none"/>
<path d="M1343,928.7L1355.6,941.3M1343,941.3L1355.6,928.7" stroke="#00a000" stroke-width="4.6" fill="none"/>
<path d="M1345.1,932.7L1357.7,945.3M1345.1,945.3L1357.7,932.7" stroke="#00a000" stroke-width="4.6" fill="none"/>
<path d="M1354.2,920.5L1366.8,933.1M1354.2,933.1L1366.8,920.5" stroke="#00a000" stroke-width="4.6" fill="none"/>
<path d="M1363.4,922.6L1376,935.2M1363.4,935.2L1376,922.6" stroke="#00a000" stroke-width="4.6" fill="none"/>
<path d="M1371.6,928.7L1384.2,941.3M1371.6,941.3L1384.2,928.7" stroke="#00a000" stroke-width="4.6" fill="none"/>
<path d="M1375.7,936.8L1388.3,949.4M1375.7,949.4L1388.3,936.8" stroke="#00a000" stroke-width="4.6" fill="none"/>
<path d="M1383.8,938.9L1396.4,951.5M1383.8,951.5L1396.4,938.9" stroke="#00a000" stroke-width="4.6" fill="none"/>
<path d="M1396,936.8L1408.6,949.4M1396,949.4L1408.6,936.8" stroke="#00a000" stroke-width="4.6" fill="none"/>
<path d="M1404.2,942.9L1416.8,955.5M1404.2,955.5L1416.8,942.9" stroke="#00a000" stroke-width="4.6" fill="none"/>
<path d="M1416.4,949.1L1429,961.7M1416.4,961.7L1429,949.1" stroke="#00a000" stroke-width="4.6" fill="none"/>
<path d="M1426.6,951.1L1439.2,963.7M1426.6,963.7L1439.2,951.1" stroke="#00a000" stroke-width="4.6" fill="none"/>
<path d="M1434.8,953.1L1447.4,965.7M1434.8,965.7L1447.4,953.1" stroke="#00a000" stroke-width="4.6" fill="none"/>
<path d="M1447,975.6L1459.6,988.2M1447,988.2L1459.6,975.6" stroke="#00a000" stroke-width="4.6" fill="none"/>
<path d="M1461.3,977.6L1473.9,990.2M1461.3,990.2L1473.9,977.6" stroke="#00a000" stroke-width="4.6" fill="none"/>
<path d="M1473.5,979.7L1486.1,992.3M1473.5,992.3L1486.1,979.7" stroke="#00a000" stroke-width="4.6" fill="none"/>
<path d="M1481.7,985.8L1494.3,998.4M1481.7,998.4L1494.3,985.8" stroke="#00a000" stroke-width="4.6" fill="none"/>
<path d="M1493.9,991.9L1506.5,1004.5M1493.9,1004.5L1506.5,991.9" stroke="#00a000" stroke-width="4.6" fill="none"/>
<path d="M1506.2,993.9L1518.8,1006.5M1506.2,1006.5L1518.8,993.9" stroke="#00a000" stroke-width="4.6" fill="none"/>
<path d="M1376,924.4L1388.6,937M1376,937L1388.6,924.4" stroke="#00a000" stroke-width="4.6" fill="none"/>
<path d="M1380.6,933.6L1393.2,946.2M1380.6,946.2L1393.2,933.6" stroke="#00a000" stroke-width="4.6" fill="none"/>
<path d="M1391,934.8L1403.6,947.4M1391,947.4L1403.6,934.8" stroke="#00a000" stroke-width="4.6" fill="none"/>
<path d="M1396.7,939.4L1409.3,952M1396.7,952L1409.3,939.4" stroke="#00a000" stroke-width="4.6" fill="none"/>
<path d="M1388.7,942.8L1401.3,955.4M1388.7,955.4L1401.3,942.8" stroke="#00a000" stroke-width="4.6" fill="none"/>
<path d="M1378.3,942.8L1390.9,955.4M1378.3,955.4L1390.9,942.8" stroke="#00a000" stroke-width="4.6" fill="none"/>
<path d="M1402.5,945.1L1415.1,957.7M1402.5,957.7L1415.1,945.1" stroke="#00a000" stroke-width="4.6" fill="none"/>
<path d="M1408.3,938.2L1420.9,950.8M1408.3,950.8L1420.9,938.2" stroke="#00a000" stroke-width="4.6" fill="none"/>
<path d="M1414,948.6L1426.6,961.2M1414,961.2L1426.6,948.6" stroke="#00a000" stroke-width="4.6" fill="none"/>
<path d="M1419.8,954.3L1432.4,966.9M1419.8,966.9L1432.4,954.3" stroke="#00a000" stroke-width="4.6" fill="none"/>
<path d="M1425.5,947.4L1438.1,960M1425.5,960L1438.1,947.4" stroke="#00a000" stroke-width="4.6" fill="none"/>
<path d="M1433.6,954.3L1446.2,966.9M1433.6,966.9L1446.2,954.3" stroke="#00a000" stroke-width="4.6" fill="none"/>
<path d="M1438.2,959L1450.8,971.6M1438.2,971.6L1450.8,959" stroke="#00a000" stroke-width="4.6" fill="none"/>
<path d="M1445.1,976.2L1457.7,988.8M1445.1,988.8L1457.7,976.2" stroke="#00a000" stroke-width="4.6" fill="none"/>
<path d="M1453.2,975.1L1465.8,987.7M1453.2,987.7L1465.8,975.1" stroke="#00a000" stroke-width="4.6" fill="none"/>
<path d="M1462.4,977.4L1475,990M1462.4,990L1475,977.4" stroke="#00a000" stroke-width="4.6" fill="none"/>
<path d="M1475.1,980.8L1487.7,993.4M1475.1,993.4L1487.7,980.8" stroke="#00a000" stroke-width="4.6" fill="none"/>
<path d="M1482,984.3L1494.6,996.9M1482,996.9L1494.6,984.3" stroke="#00a000" stroke-width="4.6" fill="none"/>
<path d="M1493.5,993.5L1506.1,1006.1M1493.5,1006.1L1506.1,993.5" stroke="#00a000" stroke-width="4.6" fill="none"/>
<path d="M1508.5,993.5L1521.1,1006.1M1508.5,1006.1L1521.1,993.5" stroke="#00a000" stroke-width="4.6" fill="none"/>
<path d="M1509.6,984.3L1522.2,996.9M1509.6,996.9L1522.2,984.3" stroke="#00a000" stroke-width="4.6" fill="none"/>
<path d="M977,936.6C982.5,936.7 999,937.2 1010,937.4C1021,937.6 1032.2,937.5 1043,938C1053.8,938.5 1064.2,939.8 1075,940.5C1085.8,941.2 1093.8,941.2 1108,942C1122.2,942.8 1143.5,944.5 1160,945.5C1176.5,946.5 1191.2,947.2 1207,948.2C1222.8,949.2 1241.5,950.1 1255,951.5C1268.5,952.9 1272.2,954.3 1288,956.5C1303.8,958.7 1329.7,961.8 1350,964.5C1370.3,967.2 1394.2,970.2 1410,972.5C1425.8,974.8 1438.8,977.1 1444.5,978" fill="none" stroke="#00a000" stroke-width="8" stroke-dasharray="22.6 9.9" stroke-dashoffset="31.5"/>
<path d="M977,930C981,930.2 993.2,930.7 1001,931C1008.8,931.3 1016.7,931.4 1024,931.6C1031.3,931.8 1038,932 1045,932.3C1052,932.5 1058.7,932.3 1066,933.1C1073.3,933.9 1081.7,936 1089,937.1C1096.3,938.2 1103,939.1 1110,939.8C1117,940.4 1121,940.3 1131,941C1141,941.7 1157.3,943.1 1170,944C1182.7,944.9 1195.3,945.6 1207,946.5C1218.7,947.4 1229.2,948.2 1240,949.5C1250.8,950.8 1262,952.6 1272,954C1282,955.4 1287,956.7 1300,958C1313,959.3 1333,960.5 1350,961.8C1367,963.1 1386.5,964.3 1402,965.8C1417.5,967.2 1434.5,969.5 1443,970.5C1451.5,971.5 1451.3,971.8 1453,972" fill="none" stroke="#ff0000" stroke-width="8" stroke-dasharray="22.6 9.9" stroke-dashoffset="8"/>
<circle cx="1003.2" cy="571.9" r="6.2" fill="none" stroke="#ff0000" stroke-width="4.2"/>
<line x1="1003.2" y1="552.9" x2="1003.2" y2="590.9" stroke="#ff0000" stroke-width="3.2"/>
<circle cx="981.5" cy="619.8" r="6.2" fill="none" stroke="#ff0000" stroke-width="4.2"/>
<line x1="981.5" y1="608.8" x2="981.5" y2="630.8" stroke="#ff0000" stroke-width="3.2"/>
<circle cx="992.5" cy="641" r="6.2" fill="none" stroke="#ff0000" stroke-width="4.2"/>
<line x1="992.5" y1="627" x2="992.5" y2="655" stroke="#ff0000" stroke-width="3.2"/>
<circle cx="1006.7" cy="630.4" r="6.2" fill="none" stroke="#ff0000" stroke-width="4.2"/>
<line x1="1006.7" y1="619.4" x2="1006.7" y2="641.4" stroke="#ff0000" stroke-width="3.2"/>
<circle cx="1014.7" cy="648.2" r="6.2" fill="none" stroke="#ff0000" stroke-width="4.2"/>
<line x1="1014.7" y1="639.2" x2="1014.7" y2="657.2" stroke="#ff0000" stroke-width="3.2"/>
<circle cx="1019.6" cy="637.5" r="6.2" fill="none" stroke="#ff0000" stroke-width="4.2"/>
<line x1="1019.6" y1="626.5" x2="1019.6" y2="648.5" stroke="#ff0000" stroke-width="3.2"/>
<circle cx="1029.8" cy="634.3" r="6.2" fill="none" stroke="#ff0000" stroke-width="4.2"/>
<line x1="1029.8" y1="624.3" x2="1029.8" y2="644.3" stroke="#ff0000" stroke-width="3.2"/>
<circle cx="1030.6" cy="618.9" r="6.2" fill="none" stroke="#ff0000" stroke-width="4.2"/>
<line x1="1030.6" y1="606.9" x2="1030.6" y2="630.9" stroke="#ff0000" stroke-width="3.2"/>
<circle cx="1041.5" cy="601.2" r="6.2" fill="none" stroke="#ff0000" stroke-width="4.2"/>
<line x1="1041.5" y1="587.2" x2="1041.5" y2="615.2" stroke="#ff0000" stroke-width="3.2"/>
<circle cx="1053.7" cy="604.4" r="6.2" fill="none" stroke="#ff0000" stroke-width="4.2"/>
<line x1="1053.7" y1="591.4" x2="1053.7" y2="617.4" stroke="#ff0000" stroke-width="3.2"/>
<circle cx="1058.7" cy="642" r="6.2" fill="none" stroke="#ff0000" stroke-width="4.2"/>
<line x1="1058.7" y1="632" x2="1058.7" y2="652" stroke="#ff0000" stroke-width="3.2"/>
<circle cx="1067.2" cy="650" r="6.2" fill="none" stroke="#ff0000" stroke-width="4.2"/>
<line x1="1067.2" y1="639" x2="1067.2" y2="661" stroke="#ff0000" stroke-width="3.2"/>
<circle cx="1073.2" cy="629.2" r="6.2" fill="none" stroke="#ff0000" stroke-width="4.2"/>
<line x1="1073.2" y1="615.2" x2="1073.2" y2="643.2" stroke="#ff0000" stroke-width="3.2"/>
<circle cx="1045.4" cy="677.8" r="6.2" fill="none" stroke="#ff0000" stroke-width="4.2"/>
<line x1="1045.4" y1="673.8" x2="1045.4" y2="681.8" stroke="#ff0000" stroke-width="3.2"/>
<circle cx="1085.5" cy="724.4" r="6.2" fill="none" stroke="#ff0000" stroke-width="4.2"/>
<line x1="1085.5" y1="720.4" x2="1085.5" y2="728.4" stroke="#ff0000" stroke-width="3.2"/>
<circle cx="1095" cy="697.8" r="6.2" fill="none" stroke="#ff0000" stroke-width="4.2"/>
<line x1="1095" y1="693.8" x2="1095" y2="701.8" stroke="#ff0000" stroke-width="3.2"/>
<circle cx="1099.4" cy="709.3" r="6.2" fill="none" stroke="#ff0000" stroke-width="4.2"/>
<line x1="1099.4" y1="705.3" x2="1099.4" y2="713.3" stroke="#ff0000" stroke-width="3.2"/>
<circle cx="1081.3" cy="714.3" r="6.2" fill="none" stroke="#ff0000" stroke-width="4.2"/>
<line x1="1081.3" y1="710.3" x2="1081.3" y2="718.3" stroke="#ff0000" stroke-width="3.2"/>
<circle cx="1113.3" cy="739.1" r="6.2" fill="none" stroke="#ff0000" stroke-width="4.2"/>
<line x1="1113.3" y1="735.1" x2="1113.3" y2="743.1" stroke="#ff0000" stroke-width="3.2"/>
<circle cx="1107.3" cy="774.1" r="6.2" fill="none" stroke="#ff0000" stroke-width="4.2"/>
<line x1="1107.3" y1="770.1" x2="1107.3" y2="778.1" stroke="#ff0000" stroke-width="3.2"/>
<circle cx="1128" cy="780" r="6.2" fill="none" stroke="#ff0000" stroke-width="4.2"/>
<line x1="1128" y1="776" x2="1128" y2="784" stroke="#ff0000" stroke-width="3.2"/>
<circle cx="1119.7" cy="787.9" r="6.2" fill="none" stroke="#ff0000" stroke-width="4.2"/>
<line x1="1119.7" y1="783.9" x2="1119.7" y2="791.9" stroke="#ff0000" stroke-width="3.2"/>
<circle cx="1132.8" cy="797.7" r="6.2" fill="none" stroke="#ff0000" stroke-width="4.2"/>
<line x1="1132.8" y1="793.7" x2="1132.8" y2="801.7" stroke="#ff0000" stroke-width="3.2"/>
<circle cx="1141.8" cy="814" r="6.2" fill="none" stroke="#ff0000" stroke-width="4.2"/>
<line x1="1141.8" y1="810" x2="1141.8" y2="818" stroke="#ff0000" stroke-width="3.2"/>
<circle cx="1146.6" cy="816.6" r="6.2" fill="none" stroke="#ff0000" stroke-width="4.2"/>
<line x1="1146.6" y1="812.6" x2="1146.6" y2="820.6" stroke="#ff0000" stroke-width="3.2"/>
<circle cx="1156.4" cy="818.4" r="6.2" fill="none" stroke="#ff0000" stroke-width="4.2"/>
<line x1="1156.4" y1="814.4" x2="1156.4" y2="822.4" stroke="#ff0000" stroke-width="3.2"/>
<circle cx="1155.5" cy="822.8" r="6.2" fill="none" stroke="#ff0000" stroke-width="4.2"/>
<line x1="1155.5" y1="818.8" x2="1155.5" y2="826.8" stroke="#ff0000" stroke-width="3.2"/>
<circle cx="1169.1" cy="831.7" r="6.2" fill="none" stroke="#ff0000" stroke-width="4.2"/>
<line x1="1169.1" y1="827.7" x2="1169.1" y2="835.7" stroke="#ff0000" stroke-width="3.2"/>
<circle cx="1170.6" cy="836.1" r="6.2" fill="none" stroke="#ff0000" stroke-width="4.2"/>
<line x1="1170.6" y1="832.1" x2="1170.6" y2="840.1" stroke="#ff0000" stroke-width="3.2"/>
<circle cx="1182.1" cy="838.8" r="6.2" fill="none" stroke="#ff0000" stroke-width="4.2"/>
<line x1="1182.1" y1="834.8" x2="1182.1" y2="842.8" stroke="#ff0000" stroke-width="3.2"/>
<circle cx="1194.5" cy="831.7" r="6.2" fill="none" stroke="#ff0000" stroke-width="4.2"/>
<line x1="1194.5" y1="827.7" x2="1194.5" y2="835.7" stroke="#ff0000" stroke-width="3.2"/>
<circle cx="1196.3" cy="845" r="6.2" fill="none" stroke="#ff0000" stroke-width="4.2"/>
<line x1="1196.3" y1="841" x2="1196.3" y2="849" stroke="#ff0000" stroke-width="3.2"/>
<circle cx="1206" cy="849.4" r="6.2" fill="none" stroke="#ff0000" stroke-width="4.2"/>
<line x1="1206" y1="845.4" x2="1206" y2="853.4" stroke="#ff0000" stroke-width="3.2"/>
<circle cx="1218.4" cy="845.9" r="6.2" fill="none" stroke="#ff0000" stroke-width="4.2"/>
<line x1="1218.4" y1="841.9" x2="1218.4" y2="849.9" stroke="#ff0000" stroke-width="3.2"/>
<circle cx="1211.3" cy="852.1" r="6.2" fill="none" stroke="#ff0000" stroke-width="4.2"/>
<line x1="1211.3" y1="848.1" x2="1211.3" y2="856.1" stroke="#ff0000" stroke-width="3.2"/>
<circle cx="1227.3" cy="850.3" r="6.2" fill="none" stroke="#ff0000" stroke-width="4.2"/>
<line x1="1227.3" y1="846.3" x2="1227.3" y2="854.3" stroke="#ff0000" stroke-width="3.2"/>
<circle cx="1239.7" cy="855.6" r="6.2" fill="none" stroke="#ff0000" stroke-width="4.2"/>
<line x1="1239.7" y1="851.6" x2="1239.7" y2="859.6" stroke="#ff0000" stroke-width="3.2"/>
<circle cx="1239.7" cy="864.5" r="6.2" fill="none" stroke="#ff0000" stroke-width="4.2"/>
<line x1="1239.7" y1="860.5" x2="1239.7" y2="868.5" stroke="#ff0000" stroke-width="3.2"/>
<circle cx="1251.2" cy="856.5" r="6.2" fill="none" stroke="#ff0000" stroke-width="4.2"/>
<line x1="1251.2" y1="852.5" x2="1251.2" y2="860.5" stroke="#ff0000" stroke-width="3.2"/>
<circle cx="1253.9" cy="870.7" r="6.2" fill="none" stroke="#ff0000" stroke-width="4.2"/>
<line x1="1253.9" y1="866.7" x2="1253.9" y2="874.7" stroke="#ff0000" stroke-width="3.2"/>
<circle cx="1265.4" cy="864.5" r="6.2" fill="none" stroke="#ff0000" stroke-width="4.2"/>
<line x1="1265.4" y1="860.5" x2="1265.4" y2="868.5" stroke="#ff0000" stroke-width="3.2"/>
<circle cx="1268.1" cy="869.8" r="6.2" fill="none" stroke="#ff0000" stroke-width="4.2"/>
<line x1="1268.1" y1="865.8" x2="1268.1" y2="873.8" stroke="#ff0000" stroke-width="3.2"/>
<circle cx="1272.5" cy="853" r="6.2" fill="none" stroke="#ff0000" stroke-width="4.2"/>
<line x1="1272.5" y1="849" x2="1272.5" y2="857" stroke="#ff0000" stroke-width="3.2"/>
<circle cx="1282.3" cy="860" r="6.2" fill="none" stroke="#ff0000" stroke-width="4.2"/>
<line x1="1282.3" y1="856" x2="1282.3" y2="864" stroke="#ff0000" stroke-width="3.2"/>
<circle cx="1281.4" cy="876.9" r="6.2" fill="none" stroke="#ff0000" stroke-width="4.2"/>
<line x1="1281.4" y1="872.9" x2="1281.4" y2="880.9" stroke="#ff0000" stroke-width="3.2"/>
<circle cx="1294.7" cy="870.7" r="6.2" fill="none" stroke="#ff0000" stroke-width="4.2"/>
<line x1="1294.7" y1="866.7" x2="1294.7" y2="874.7" stroke="#ff0000" stroke-width="3.2"/>
<circle cx="1297.3" cy="886.7" r="6.2" fill="none" stroke="#ff0000" stroke-width="4.2"/>
<line x1="1297.3" y1="882.7" x2="1297.3" y2="890.7" stroke="#ff0000" stroke-width="3.2"/>
<circle cx="1283" cy="875.8" r="6.2" fill="none" stroke="#ff0000" stroke-width="4.2"/>
<line x1="1283" y1="871.8" x2="1283" y2="879.8" stroke="#ff0000" stroke-width="3.2"/>
<circle cx="1301.4" cy="886" r="6.2" fill="none" stroke="#ff0000" stroke-width="4.2"/>
<line x1="1301.4" y1="882" x2="1301.4" y2="890" stroke="#ff0000" stroke-width="3.2"/>
<circle cx="1310.6" cy="886" r="6.2" fill="none" stroke="#ff0000" stroke-width="4.2"/>
<line x1="1310.6" y1="882" x2="1310.6" y2="890" stroke="#ff0000" stroke-width="3.2"/>
<circle cx="1310.6" cy="898.3" r="6.2" fill="none" stroke="#ff0000" stroke-width="4.2"/>
<line x1="1310.6" y1="894.3" x2="1310.6" y2="902.3" stroke="#ff0000" stroke-width="3.2"/>
<circle cx="1319.8" cy="875.8" r="6.2" fill="none" stroke="#ff0000" stroke-width="4.2"/>
<line x1="1319.8" y1="871.8" x2="1319.8" y2="879.8" stroke="#ff0000" stroke-width="3.2"/>
<circle cx="1329" cy="871.8" r="6.2" fill="none" stroke="#ff0000" stroke-width="4.2"/>
<line x1="1329" y1="867.8" x2="1329" y2="875.8" stroke="#ff0000" stroke-width="3.2"/>
<circle cx="1322.8" cy="888.1" r="6.2" fill="none" stroke="#ff0000" stroke-width="4.2"/>
<line x1="1322.8" y1="884.1" x2="1322.8" y2="892.1" stroke="#ff0000" stroke-width="3.2"/>
<circle cx="1338.1" cy="892.2" r="6.2" fill="none" stroke="#ff0000" stroke-width="4.2"/>
<line x1="1338.1" y1="888.2" x2="1338.1" y2="896.2" stroke="#ff0000" stroke-width="3.2"/>
<circle cx="1345.3" cy="887.1" r="6.2" fill="none" stroke="#ff0000" stroke-width="4.2"/>
<line x1="1345.3" y1="883.1" x2="1345.3" y2="891.1" stroke="#ff0000" stroke-width="3.2"/>
<circle cx="1349.3" cy="898.3" r="6.2" fill="none" stroke="#ff0000" stroke-width="4.2"/>
<line x1="1349.3" y1="894.3" x2="1349.3" y2="902.3" stroke="#ff0000" stroke-width="3.2"/>
<circle cx="1351.4" cy="902.3" r="6.2" fill="none" stroke="#ff0000" stroke-width="4.2"/>
<line x1="1351.4" y1="898.3" x2="1351.4" y2="906.3" stroke="#ff0000" stroke-width="3.2"/>
<circle cx="1361.6" cy="898.3" r="6.2" fill="none" stroke="#ff0000" stroke-width="4.2"/>
<line x1="1361.6" y1="894.3" x2="1361.6" y2="902.3" stroke="#ff0000" stroke-width="3.2"/>
<circle cx="1369.7" cy="898.3" r="6.2" fill="none" stroke="#ff0000" stroke-width="4.2"/>
<line x1="1369.7" y1="894.3" x2="1369.7" y2="902.3" stroke="#ff0000" stroke-width="3.2"/>
<circle cx="1374.8" cy="906.4" r="6.2" fill="none" stroke="#ff0000" stroke-width="4.2"/>
<line x1="1374.8" y1="902.4" x2="1374.8" y2="910.4" stroke="#ff0000" stroke-width="3.2"/>
<circle cx="1384" cy="910.5" r="6.2" fill="none" stroke="#ff0000" stroke-width="4.2"/>
<line x1="1384" y1="906.5" x2="1384" y2="914.5" stroke="#ff0000" stroke-width="3.2"/>
<circle cx="1385" cy="918.7" r="6.2" fill="none" stroke="#ff0000" stroke-width="4.2"/>
<line x1="1385" y1="914.7" x2="1385" y2="922.7" stroke="#ff0000" stroke-width="3.2"/>
<circle cx="1392.2" cy="898.3" r="6.2" fill="none" stroke="#ff0000" stroke-width="4.2"/>
<line x1="1392.2" y1="894.3" x2="1392.2" y2="902.3" stroke="#ff0000" stroke-width="3.2"/>
<circle cx="1398.3" cy="922.7" r="6.2" fill="none" stroke="#ff0000" stroke-width="4.2"/>
<line x1="1398.3" y1="918.7" x2="1398.3" y2="926.7" stroke="#ff0000" stroke-width="3.2"/>
<circle cx="1402.3" cy="914.6" r="6.2" fill="none" stroke="#ff0000" stroke-width="4.2"/>
<line x1="1402.3" y1="910.6" x2="1402.3" y2="918.6" stroke="#ff0000" stroke-width="3.2"/>
<circle cx="1411.5" cy="908.5" r="6.2" fill="none" stroke="#ff0000" stroke-width="4.2"/>
<line x1="1411.5" y1="904.5" x2="1411.5" y2="912.5" stroke="#ff0000" stroke-width="3.2"/>
<circle cx="1410.5" cy="929.9" r="6.2" fill="none" stroke="#ff0000" stroke-width="4.2"/>
<line x1="1410.5" y1="925.9" x2="1410.5" y2="933.9" stroke="#ff0000" stroke-width="3.2"/>
<circle cx="1424.8" cy="920.7" r="6.2" fill="none" stroke="#ff0000" stroke-width="4.2"/>
<line x1="1424.8" y1="916.7" x2="1424.8" y2="924.7" stroke="#ff0000" stroke-width="3.2"/>
<circle cx="1422.7" cy="935" r="6.2" fill="none" stroke="#ff0000" stroke-width="4.2"/>
<line x1="1422.7" y1="931" x2="1422.7" y2="939" stroke="#ff0000" stroke-width="3.2"/>
<circle cx="1431.9" cy="939" r="6.2" fill="none" stroke="#ff0000" stroke-width="4.2"/>
<line x1="1431.9" y1="935" x2="1431.9" y2="943" stroke="#ff0000" stroke-width="3.2"/>
<circle cx="1443.1" cy="930.9" r="6.2" fill="none" stroke="#ff0000" stroke-width="4.2"/>
<line x1="1443.1" y1="926.9" x2="1443.1" y2="934.9" stroke="#ff0000" stroke-width="3.2"/>
<circle cx="1444.2" cy="945.2" r="6.2" fill="none" stroke="#ff0000" stroke-width="4.2"/>
<line x1="1444.2" y1="941.2" x2="1444.2" y2="949.2" stroke="#ff0000" stroke-width="3.2"/>
<circle cx="1455.4" cy="945.2" r="6.2" fill="none" stroke="#ff0000" stroke-width="4.2"/>
<line x1="1455.4" y1="941.2" x2="1455.4" y2="949.2" stroke="#ff0000" stroke-width="3.2"/>
<circle cx="1463.5" cy="943.1" r="6.2" fill="none" stroke="#ff0000" stroke-width="4.2"/>
<line x1="1463.5" y1="939.1" x2="1463.5" y2="947.1" stroke="#ff0000" stroke-width="3.2"/>
<circle cx="1471.7" cy="947.2" r="6.2" fill="none" stroke="#ff0000" stroke-width="4.2"/>
<line x1="1471.7" y1="943.2" x2="1471.7" y2="951.2" stroke="#ff0000" stroke-width="3.2"/>
<circle cx="1481.9" cy="943.1" r="6.2" fill="none" stroke="#ff0000" stroke-width="4.2"/>
<line x1="1481.9" y1="927.1" x2="1481.9" y2="959.1" stroke="#ff0000" stroke-width="3.2"/>
<circle cx="1483.9" cy="957.4" r="6.2" fill="none" stroke="#ff0000" stroke-width="4.2"/>
<line x1="1483.9" y1="953.4" x2="1483.9" y2="961.4" stroke="#ff0000" stroke-width="3.2"/>
<circle cx="1491.1" cy="961.5" r="6.2" fill="none" stroke="#ff0000" stroke-width="4.2"/>
<line x1="1491.1" y1="957.5" x2="1491.1" y2="965.5" stroke="#ff0000" stroke-width="3.2"/>
<circle cx="1494.1" cy="971.7" r="6.2" fill="none" stroke="#ff0000" stroke-width="4.2"/>
<line x1="1494.1" y1="967.7" x2="1494.1" y2="975.7" stroke="#ff0000" stroke-width="3.2"/>
<circle cx="1502.3" cy="969.6" r="6.2" fill="none" stroke="#ff0000" stroke-width="4.2"/>
<line x1="1502.3" y1="965.6" x2="1502.3" y2="973.6" stroke="#ff0000" stroke-width="3.2"/>
<circle cx="1504.3" cy="978.8" r="6.2" fill="none" stroke="#ff0000" stroke-width="4.2"/>
<line x1="1504.3" y1="974.8" x2="1504.3" y2="982.8" stroke="#ff0000" stroke-width="3.2"/>
<circle cx="1509.4" cy="980.9" r="6.2" fill="none" stroke="#ff0000" stroke-width="4.2"/>
<line x1="1509.4" y1="976.9" x2="1509.4" y2="984.9" stroke="#ff0000" stroke-width="3.2"/>
<circle cx="1508.4" cy="992.1" r="6.2" fill="none" stroke="#ff0000" stroke-width="4.2"/>
<line x1="1508.4" y1="988.1" x2="1508.4" y2="996.1" stroke="#ff0000" stroke-width="3.2"/>
<circle cx="1182.2" cy="842.2" r="6.2" fill="none" stroke="#ff0000" stroke-width="4.2"/>
<line x1="1182.2" y1="838.2" x2="1182.2" y2="846.2" stroke="#ff0000" stroke-width="3.2"/>
<circle cx="1225.4" cy="854.2" r="6.2" fill="none" stroke="#ff0000" stroke-width="4.2"/>
<line x1="1225.4" y1="850.2" x2="1225.4" y2="858.2" stroke="#ff0000" stroke-width="3.2"/>
<circle cx="1211.3" cy="851.2" r="6.2" fill="none" stroke="#ff0000" stroke-width="4.2"/>
<line x1="1211.3" y1="847.2" x2="1211.3" y2="855.2" stroke="#ff0000" stroke-width="3.2"/>
<circle cx="1392.1" cy="899" r="6.2" fill="none" stroke="#ff0000" stroke-width="4.2"/>
<line x1="1392.1" y1="895" x2="1392.1" y2="903" stroke="#ff0000" stroke-width="3.2"/>
<circle cx="1412.3" cy="907.6" r="6.2" fill="none" stroke="#ff0000" stroke-width="4.2"/>
<line x1="1412.3" y1="903.6" x2="1412.3" y2="911.6" stroke="#ff0000" stroke-width="3.2"/>
<circle cx="1399" cy="923.8" r="6.2" fill="none" stroke="#ff0000" stroke-width="4.2"/>
<line x1="1399" y1="919.8" x2="1399" y2="927.8" stroke="#ff0000" stroke-width="3.2"/>
<circle cx="1385.2" cy="916.9" r="6.2" fill="none" stroke="#ff0000" stroke-width="4.2"/>
<line x1="1385.2" y1="912.9" x2="1385.2" y2="920.9" stroke="#ff0000" stroke-width="3.2"/>
<circle cx="1400.7" cy="914.6" r="6.2" fill="none" stroke="#ff0000" stroke-width="4.2"/>
<line x1="1400.7" y1="910.6" x2="1400.7" y2="918.6" stroke="#ff0000" stroke-width="3.2"/>
<circle cx="1425.5" cy="919.7" r="6.2" fill="none" stroke="#ff0000" stroke-width="4.2"/>
<line x1="1425.5" y1="915.7" x2="1425.5" y2="923.7" stroke="#ff0000" stroke-width="3.2"/>
<circle cx="1411.1" cy="930.7" r="6.2" fill="none" stroke="#ff0000" stroke-width="4.2"/>
<line x1="1411.1" y1="926.7" x2="1411.1" y2="934.7" stroke="#ff0000" stroke-width="3.2"/>
<circle cx="1442.8" cy="930.1" r="6.2" fill="none" stroke="#ff0000" stroke-width="4.2"/>
<line x1="1442.8" y1="926.1" x2="1442.8" y2="934.1" stroke="#ff0000" stroke-width="3.2"/>
<circle cx="1421.5" cy="935.3" r="6.2" fill="none" stroke="#ff0000" stroke-width="4.2"/>
<line x1="1421.5" y1="931.3" x2="1421.5" y2="939.3" stroke="#ff0000" stroke-width="3.2"/>
<circle cx="1430.7" cy="942.2" r="6.2" fill="none" stroke="#ff0000" stroke-width="4.2"/>
<line x1="1430.7" y1="938.2" x2="1430.7" y2="946.2" stroke="#ff0000" stroke-width="3.2"/>
<circle cx="1444.5" cy="946.8" r="6.2" fill="none" stroke="#ff0000" stroke-width="4.2"/>
<line x1="1444.5" y1="942.8" x2="1444.5" y2="950.8" stroke="#ff0000" stroke-width="3.2"/>
<circle cx="1453.7" cy="946.8" r="6.2" fill="none" stroke="#ff0000" stroke-width="4.2"/>
<line x1="1453.7" y1="942.8" x2="1453.7" y2="950.8" stroke="#ff0000" stroke-width="3.2"/>
<circle cx="1464.1" cy="944.5" r="6.2" fill="none" stroke="#ff0000" stroke-width="4.2"/>
<line x1="1464.1" y1="940.5" x2="1464.1" y2="948.5" stroke="#ff0000" stroke-width="3.2"/>
<circle cx="1460.6" cy="953.7" r="6.2" fill="none" stroke="#ff0000" stroke-width="4.2"/>
<line x1="1460.6" y1="949.7" x2="1460.6" y2="957.7" stroke="#ff0000" stroke-width="3.2"/>
<circle cx="1471" cy="949.1" r="6.2" fill="none" stroke="#ff0000" stroke-width="4.2"/>
<line x1="1471" y1="945.1" x2="1471" y2="953.1" stroke="#ff0000" stroke-width="3.2"/>
<circle cx="1467.6" cy="963" r="6.2" fill="none" stroke="#ff0000" stroke-width="4.2"/>
<line x1="1467.6" y1="959" x2="1467.6" y2="967" stroke="#ff0000" stroke-width="3.2"/>
<circle cx="1490.6" cy="962.4" r="6.2" fill="none" stroke="#ff0000" stroke-width="4.2"/>
<line x1="1490.6" y1="958.4" x2="1490.6" y2="966.4" stroke="#ff0000" stroke-width="3.2"/>
<circle cx="1483.7" cy="972.2" r="6.2" fill="none" stroke="#ff0000" stroke-width="4.2"/>
<line x1="1483.7" y1="968.2" x2="1483.7" y2="976.2" stroke="#ff0000" stroke-width="3.2"/>
<circle cx="1502.1" cy="969.9" r="6.2" fill="none" stroke="#ff0000" stroke-width="4.2"/>
<line x1="1502.1" y1="965.9" x2="1502.1" y2="973.9" stroke="#ff0000" stroke-width="3.2"/>
<circle cx="1495.2" cy="981.4" r="6.2" fill="none" stroke="#ff0000" stroke-width="4.2"/>
<line x1="1495.2" y1="977.4" x2="1495.2" y2="985.4" stroke="#ff0000" stroke-width="3.2"/>
<circle cx="1509" cy="981.4" r="6.2" fill="none" stroke="#ff0000" stroke-width="4.2"/>
<line x1="1509" y1="977.4" x2="1509" y2="985.4" stroke="#ff0000" stroke-width="3.2"/>
<circle cx="1507.9" cy="993.5" r="6.2" fill="none" stroke="#ff0000" stroke-width="4.2"/>
<line x1="1507.9" y1="989.5" x2="1507.9" y2="997.5" stroke="#ff0000" stroke-width="3.2"/>
<line x1="985.1" y1="552" x2="985.1" y2="560" stroke="#ff0000" stroke-width="3.5"/>
<circle cx="1453.3" cy="972.1" r="6.8" fill="none" stroke="#ff0000" stroke-width="3.6"/>
</g>
<path d="M1056.4,552.7v17 M1056.4,1003.3v-17 M1139.3,552.7v38 M1139.3,1003.3v-38 M1222.3,552.7v17 M1222.3,1003.3v-17 M1305.3,552.7v38 M1305.3,1003.3v-38 M1388.2,552.7v17 M1388.2,1003.3v-17 M1471.2,552.7v38 M1471.2,1003.3v-38 M976.6,949.4h17 M1550.8,949.4h-17 M976.6,892.3h17 M1550.8,892.3h-17 M976.6,835.3h17 M1550.8,835.3h-17 M976.6,778.2h17 M1550.8,778.2h-17 M976.6,721.1h38 M1550.8,721.1h-38 M976.6,664h17 M1550.8,664h-17 M976.6,606.9h17 M1550.8,606.9h-17" stroke="#000" stroke-width="6" fill="none"/>
<rect x="973.4" y="549.5" width="580.6" height="457" fill="none" stroke="#000" stroke-width="6.3"/>
<text transform="translate(287.55,44.63) scale(1.0135,0.9805)" font-family='"Liberation Sans", Arial, Helvetica, sans-serif' font-size="48.00" font-weight="bold">0.0</text>
<text transform="translate(494.97,44.53) scale(1.0000,1.0006)" font-family='"Liberation Sans", Arial, Helvetica, sans-serif' font-size="48.00" font-weight="bold">0.5</text>
<text transform="translate(607.37,42.94) scale(1.0496,1.0114)" font-family='"Liberation Sans", Arial, Helvetica, sans-serif' font-size="48.00" font-weight="bold" font-style="italic">r</text>
<text transform="translate(623.45,52.24) scale(0.9796,0.9917)" font-family='"Liberation Sans", Arial, Helvetica, sans-serif' font-size="34.00" font-weight="bold">eff</text>
<text transform="translate(677.66,42.93) scale(1.0041,0.9782)" font-family='"Liberation Sans", Arial, Helvetica, sans-serif' font-size="48.00" font-weight="bold">[m]</text>
<text transform="translate(206.85,133.29) scale(1.0285,0.9847)" font-family='"Liberation Sans", Arial, Helvetica, sans-serif' font-size="48.00" font-weight="bold">(a)</text>
<text transform="translate(538.23,158.72) scale(1.0062,1.0114)" font-family='"Liberation Sans", Arial, Helvetica, sans-serif' font-size="48.00" font-weight="bold" font-style="italic" fill="#fff">a</text>
<text transform="translate(562.89,167.96) scale(1.0825,1.0520)" font-family='"Liberation Sans", Arial, Helvetica, sans-serif' font-size="31.00" font-weight="bold" fill="#fff">99</text>
<text transform="translate(94.21,257.57) scale(1.0200,1.0625)" font-family='"Liberation Sans", Arial, Helvetica, sans-serif' font-size="48.00" font-weight="bold">0.5</text>
<text transform="translate(94.44,550.78) scale(1.0021,1.0295)" font-family='"Liberation Sans", Arial, Helvetica, sans-serif' font-size="48.00" font-weight="bold">0.0</text>
<text transform="translate(65.50,844.45) scale(1.0169,1.0503)" font-family='"Liberation Sans", Arial, Helvetica, sans-serif' font-size="48.00" font-weight="bold">−0.5</text>
<text transform="translate(316.23,1056.15) scale(1.0197,1.0352)" font-family='"Liberation Sans", Arial, Helvetica, sans-serif' font-size="48.00" font-weight="bold">3.5</text>
<text transform="translate(606.57,1056.13) scale(1.0132,1.0339)" font-family='"Liberation Sans", Arial, Helvetica, sans-serif' font-size="48.00" font-weight="bold">4.0</text>
<text transform="translate(407.66,1117.33) scale(1.0120,0.9400)" font-family='"Liberation Sans", Arial, Helvetica, sans-serif' font-size="48.00" font-weight="bold">R [m]</text>
<text transform="translate(34.40,549.90) rotate(-90)" font-family='"Liberation Sans", Arial, Helvetica, sans-serif' font-size="48.00" font-weight="bold">Z [m]</text>
<text transform="translate(287.93,734.54) scale(1.0135,0.9722)" font-family='"Liberation Sans", Arial, Helvetica, sans-serif' font-size="48.00" font-weight="bold">Detector plates</text>
<text transform="translate(379.55,965.87) scale(1.0130,0.9658)" font-family='"Liberation Sans", Arial, Helvetica, sans-serif' font-size="48.00" font-weight="bold" fill="#ff8000">Beam image</text>
<text transform="translate(262.30,802.18) scale(1.0000,1.0310)" font-family='"Liberation Sans", Arial, Helvetica, sans-serif' font-size="48.00" font-weight="bold" font-style="italic">I</text>
<text transform="translate(273.40,813.26) scale(0.9753,1.0263)" font-family='"Liberation Sans", Arial, Helvetica, sans-serif' font-size="34.00" font-weight="bold">U</text>
<text transform="translate(262.30,889.24) scale(1.0000,0.9934)" font-family='"Liberation Sans", Arial, Helvetica, sans-serif' font-size="48.00" font-weight="bold" font-style="italic">I</text>
<text transform="translate(273.56,897.43) scale(0.9858,1.0122)" font-family='"Liberation Sans", Arial, Helvetica, sans-serif' font-size="34.00" font-weight="bold">L</text>
<text transform="translate(352.38,893.93) scale(1.0189,1.0035)" font-family='"DejaVu Serif", serif' font-size="44.00" font-weight="normal" font-style="italic" fill="#ff0000">ϕ</text>
<text transform="translate(357.55,883.60) scale(1.0827,0.7200)" font-family='"DejaVu Serif", serif' font-size="54.00" font-weight="normal" fill="#ff0000">˜</text>
<text transform="translate(1114.81,54.53) scale(1.0154,0.9814)" font-family='"Liberation Sans", Arial, Helvetica, sans-serif' font-size="48.00" font-weight="bold"><tspan fill="#00a000"># 167057</tspan>, <tspan fill="#ff0000"># 167059</tspan></text>
<text transform="translate(932.37,81.39) scale(0.9960,1.0673)" font-family='"Liberation Sans", Arial, Helvetica, sans-serif' font-size="48.00" font-weight="bold">4</text>
<text transform="translate(932.37,211.49) scale(0.9960,1.0673)" font-family='"Liberation Sans", Arial, Helvetica, sans-serif' font-size="48.00" font-weight="bold">3</text>
<text transform="translate(932.37,342.09) scale(0.9960,1.0673)" font-family='"Liberation Sans", Arial, Helvetica, sans-serif' font-size="48.00" font-weight="bold">2</text>
<text transform="translate(932.37,472.69) scale(0.9960,1.0673)" font-family='"Liberation Sans", Arial, Helvetica, sans-serif' font-size="48.00" font-weight="bold">1</text>
<text transform="translate(1568.14,82.07) scale(1.0435,1.0141)" font-family='"Liberation Sans", Arial, Helvetica, sans-serif' font-size="48.00" font-weight="bold" fill="#ff0000">7</text>
<text transform="translate(1568.14,212.67) scale(1.0435,1.0141)" font-family='"Liberation Sans", Arial, Helvetica, sans-serif' font-size="48.00" font-weight="bold" fill="#ff0000">6</text>
<text transform="translate(1568.14,343.27) scale(1.0435,1.0141)" font-family='"Liberation Sans", Arial, Helvetica, sans-serif' font-size="48.00" font-weight="bold" fill="#ff0000">5</text>
<text transform="translate(1568.14,473.87) scale(1.0435,1.0141)" font-family='"Liberation Sans", Arial, Helvetica, sans-serif' font-size="48.00" font-weight="bold" fill="#ff0000">4</text>
<text transform="translate(1453.49,155.96) scale(1.0492,1.0450)" font-family='"Liberation Sans", Arial, Helvetica, sans-serif' font-size="48.00" font-weight="bold">(b)</text>
<text transform="translate(1092.38,195.24) scale(1.0094,0.9928)" font-family='"Liberation Sans", Arial, Helvetica, sans-serif' font-size="48.00" font-weight="bold" fill="#ff0000">NBI+ECH</text>
<text transform="translate(1198.59,485.20) scale(1.0147,1.0126)" font-family='"Liberation Sans", Arial, Helvetica, sans-serif' font-size="48.00" font-weight="bold" fill="#00a000">NBI</text>
<text transform="translate(888.36,365.33) rotate(-90) scale(0.9888,1.0323)" font-family='"Liberation Sans", Arial, Helvetica, sans-serif' font-size="48.00" font-weight="bold"><tspan font-family='"DejaVu Serif", serif' font-style="italic" font-weight="normal">ϕ</tspan> [kV]</text>
<text transform="translate(1458.70,636.03) scale(1.0515,0.9878)" font-family='"Liberation Sans", Arial, Helvetica, sans-serif' font-size="48.00" font-weight="bold">(c)</text>
<text transform="translate(1102.70,658.51) scale(1.0170,1.0102)" font-family='"Liberation Sans", Arial, Helvetica, sans-serif' font-size="48.00" font-weight="bold" fill="#ff0000">NBI+ECH</text>
<text transform="translate(1011.02,828.06) scale(1.0460,0.9874)" font-family='"Liberation Sans", Arial, Helvetica, sans-serif' font-size="48.00" font-weight="bold" fill="#00a000">NBI</text>
<text transform="translate(1328.00,841.29) scale(1.0006,1.0141)" font-family='"Liberation Sans", Arial, Helvetica, sans-serif' font-size="48.00" font-weight="bold" font-style="italic">T</text>
<text transform="translate(1354.04,851.55) scale(1.0900,1.0167)" font-family='"Liberation Sans", Arial, Helvetica, sans-serif' font-size="34.00" font-weight="bold">e</text>
<text transform="translate(1000.06,984.10) scale(1.0292,1.0126)" font-family='"Liberation Sans", Arial, Helvetica, sans-serif' font-size="48.00" font-weight="bold" font-style="italic">T</text>
<text transform="translate(1027.30,995.13) scale(1.0000,0.9541)" font-family='"Liberation Sans", Arial, Helvetica, sans-serif' font-size="34.00" font-weight="bold">i</text>
<text transform="translate(939.45,1056.06) scale(1.0225,1.0442)" font-family='"Liberation Sans", Arial, Helvetica, sans-serif' font-size="48.00" font-weight="bold">0.0</text>
<text transform="translate(1105.37,1056.48) scale(1.0156,1.0056)" font-family='"Liberation Sans", Arial, Helvetica, sans-serif' font-size="48.00" font-weight="bold">0.2</text>
<text transform="translate(1270.90,1056.48) scale(1.0261,1.0056)" font-family='"Liberation Sans", Arial, Helvetica, sans-serif' font-size="48.00" font-weight="bold">0.4</text>
<text transform="translate(1437.04,1056.35) scale(1.0199,1.0259)" font-family='"Liberation Sans", Arial, Helvetica, sans-serif' font-size="48.00" font-weight="bold">0.6</text>
<text transform="translate(932.08,1020.00) scale(1.0250,1.0229)" font-family='"Liberation Sans", Arial, Helvetica, sans-serif' font-size="48.00" font-weight="bold">0</text>
<text transform="translate(932.11,733.78) scale(1.0366,1.0514)" font-family='"Liberation Sans", Arial, Helvetica, sans-serif' font-size="48.00" font-weight="bold">5</text>
<text transform="translate(1188.66,1118.32) scale(1.0900,1.0795)" font-family='"Liberation Sans", Arial, Helvetica, sans-serif' font-size="48.00" font-weight="normal" font-style="italic">r</text>
<text transform="translate(1208.42,1125.55) scale(1.0301,0.9738)" font-family='"Liberation Sans", Arial, Helvetica, sans-serif' font-size="40.00" font-weight="normal">eff</text>
<text transform="translate(1269.53,1118.48) scale(0.9941,0.9753)" font-family='"Liberation Sans", Arial, Helvetica, sans-serif' font-size="48.00" font-weight="bold">[m]</text>
<text transform="translate(890.79,906.75) rotate(-90) scale(1.0221,1.0566)" font-family='"Liberation Sans", Arial, Helvetica, sans-serif' font-size="48.00" font-weight="normal"><tspan font-style="italic">T</tspan><tspan font-size="40" dy="10">e</tspan><tspan dy="-10">, </tspan><tspan font-style="italic">T</tspan><tspan font-size="40" dy="10">i</tspan><tspan dy="-10" font-weight="bold"> [keV]</tspan></text>
</svg>
</body></html>
